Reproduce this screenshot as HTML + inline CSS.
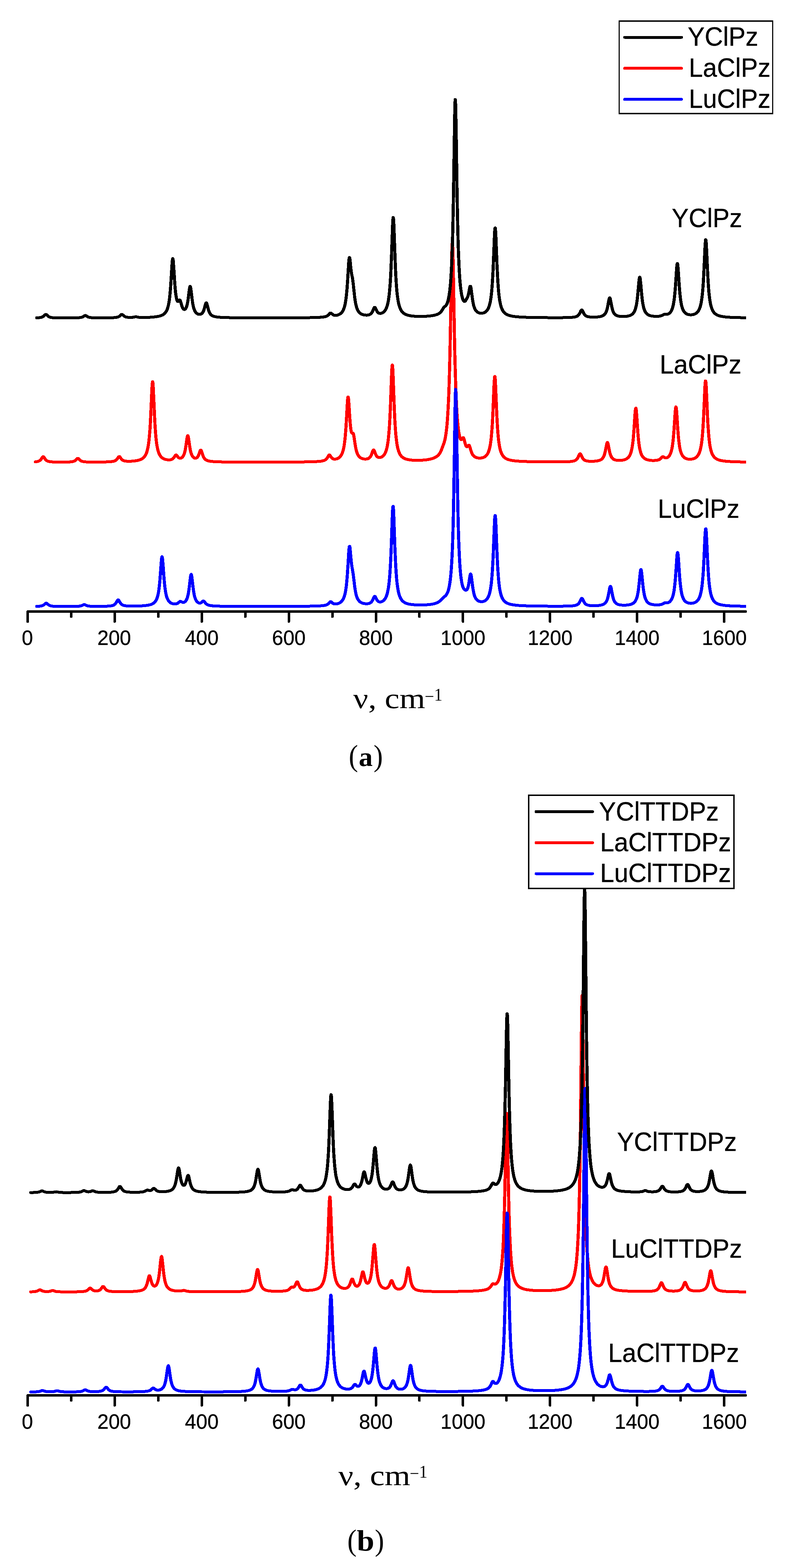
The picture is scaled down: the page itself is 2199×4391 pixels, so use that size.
<!DOCTYPE html>
<html lang="en"><head><meta charset="utf-8"><title>Calculated IR spectra</title>
<style>
html,body{margin:0;padding:0;background:#fff}
body{width:2199px;height:4391px;overflow:hidden}
svg{display:block}
text{fill:#000}
.sans{font-family:"Liberation Sans",Arial,Helvetica,sans-serif}
.tk{font-family:"Liberation Sans",Arial,Helvetica,sans-serif;font-size:56.5px;text-anchor:middle}
.lg,.lb,.tk{stroke:#000;stroke-width:0.5}
.lg{font-family:"Liberation Sans",Arial,Helvetica,sans-serif;font-size:73.9px}
.lb{font-family:"Liberation Sans",Arial,Helvetica,sans-serif;font-size:73.9px}
.ser{font-family:"Liberation Serif","Liberation Serif","DejaVu Serif",serif}
.ax{stroke:#000;stroke-width:7;stroke-linecap:round;fill:none}
.cv{fill:none;stroke-width:8.0;stroke-linejoin:round;stroke-linecap:round}
.ll{fill:none;stroke-width:8;stroke-linecap:round}
.bx{fill:#fff;stroke:#000;stroke-width:3.5}
</style></head><body>
<svg width="2199" height="4391" viewBox="0 0 2199 4391" shape-rendering="crispEdges">
<rect width="2199" height="4391" fill="#fff"/>
<g id="chart-a">
<svg x="0" y="0" width="2090" height="4391" viewBox="0 0 2090 4391">
<path class="cv" stroke="#ff0000" d="M98.6 1293.4L102.9 1292.8L105.9 1292.1L108.4 1291.2L110.2 1290.3L112.0 1289.0L113.9 1287.2L115.7 1284.9L118.1 1281.1L119.3 1279.6L120.0 1279.2L120.6 1279.0L121.2 1279.1L121.8 1279.4L122.4 1280.0L123.6 1281.7L126.0 1285.4L127.9 1287.6L129.7 1289.3L131.5 1290.5L133.4 1291.3L135.8 1292.1L139.5 1292.9L144.3 1293.4L152.3 1293.8L166.3 1294.1L184.0 1294.0L193.7 1293.7L199.8 1293.1L203.5 1292.6L205.9 1291.9L208.3 1291.0L210.2 1289.9L212.0 1288.4L215.7 1284.6L216.3 1284.1L216.9 1283.7L217.5 1283.5L218.1 1283.5L218.7 1283.7L219.3 1284.0L220.5 1285.1L223.6 1288.3L225.4 1289.8L227.2 1290.9L229.1 1291.6L231.5 1292.4L235.2 1293.0L240.6 1293.5L249.8 1293.8L268.1 1294.0L290.6 1293.7L303.4 1293.3L310.7 1292.8L315.6 1292.1L318.7 1291.5L321.1 1290.6L322.9 1289.8L324.8 1288.5L326.6 1286.9L328.4 1284.6L331.5 1280.1L332.1 1279.4L332.7 1278.9L333.3 1278.6L333.9 1278.5L334.5 1278.7L335.1 1279.2L336.3 1280.7L339.4 1285.0L341.2 1287.0L343.0 1288.5L344.9 1289.5L347.3 1290.4L350.4 1291.1L354.0 1291.5L359.5 1291.7L366.8 1291.6L374.1 1291.1L380.2 1290.3L385.7 1289.3L390.0 1288.1L393.6 1286.8L396.7 1285.3L399.1 1283.8L401.6 1281.8L403.4 1279.9L405.2 1277.6L407.1 1274.8L408.9 1271.1L410.1 1268.1L411.3 1264.4L412.5 1260.0L413.8 1254.7L415.0 1248.1L416.2 1239.9L417.4 1229.6L418.6 1216.6L419.9 1200.3L421.1 1179.9L422.9 1141.6L424.7 1099.3L425.3 1087.1L425.9 1077.4L426.6 1071.2L427.2 1069.0L427.8 1071.2L428.4 1077.4L429.0 1087.1L430.2 1112.9L432.7 1168.0L433.9 1190.5L435.1 1208.7L436.3 1223.3L437.5 1234.8L438.7 1244.0L440.0 1251.3L441.2 1257.2L442.4 1262.0L443.6 1266.0L444.8 1269.2L446.7 1273.2L448.5 1276.2L450.3 1278.7L452.2 1280.6L454.0 1282.1L456.4 1283.8L458.9 1285.0L461.9 1286.2L465.0 1287.0L468.6 1287.6L472.3 1287.9L475.3 1287.7L477.8 1287.4L480.2 1286.7L482.0 1285.8L483.9 1284.6L485.7 1282.8L487.5 1280.4L490.6 1275.7L491.2 1274.9L491.8 1274.4L492.4 1274.0L493.0 1274.0L493.6 1274.3L494.2 1274.7L495.4 1276.2L497.9 1279.5L499.1 1280.9L500.3 1281.9L501.5 1282.6L502.8 1283.0L504.0 1283.2L505.2 1283.2L506.4 1282.9L507.6 1282.4L508.8 1281.7L510.1 1280.7L511.3 1279.4L512.5 1277.7L513.7 1275.6L514.9 1272.9L516.2 1269.5L517.4 1265.1L518.6 1259.7L519.8 1252.9L521.6 1240.5L523.5 1227.6L524.1 1224.2L524.7 1221.6L525.3 1220.2L525.9 1220.1L526.5 1221.3L527.1 1223.6L527.7 1226.9L531.4 1252.2L532.6 1259.0L533.8 1264.6L535.1 1269.1L536.3 1272.6L537.5 1275.3L538.7 1277.5L539.9 1279.2L541.2 1280.5L542.4 1281.5L543.6 1282.3L544.8 1282.8L546.0 1283.0L547.2 1283.1L548.5 1282.9L549.7 1282.5L550.9 1281.8L552.1 1280.8L553.3 1279.3L554.6 1277.4L555.8 1275.0L557.6 1270.2L560.0 1263.2L560.7 1261.9L561.3 1260.9L561.9 1260.5L562.5 1260.6L563.1 1261.3L563.7 1262.5L564.9 1265.8L567.4 1273.6L568.6 1276.9L569.8 1279.7L571.0 1281.9L572.2 1283.8L574.1 1285.8L575.9 1287.4L577.7 1288.5L580.2 1289.6L583.2 1290.6L587.5 1291.5L593.0 1292.3L601.5 1292.9L614.9 1293.4L638.7 1293.9L687.4 1294.1L772.8 1294.1L833.1 1293.8L864.8 1293.3L881.9 1292.8L892.3 1292.2L899.0 1291.5L903.2 1290.7L906.3 1289.9L908.7 1289.0L910.5 1288.1L912.4 1286.8L914.2 1285.0L916.0 1282.7L917.9 1279.7L919.7 1276.4L920.3 1275.5L920.9 1274.7L921.5 1274.2L922.1 1274.0L922.7 1274.1L923.3 1274.5L923.9 1275.1L925.2 1276.8L927.6 1280.5L928.8 1282.0L930.0 1283.2L931.3 1284.1L933.1 1285.1L934.9 1285.6L936.7 1285.8L939.2 1285.7L941.6 1285.3L944.1 1284.6L946.5 1283.5L948.9 1282.0L950.8 1280.5L952.6 1278.7L954.4 1276.4L956.3 1273.4L958.1 1269.6L959.3 1266.4L960.5 1262.5L961.7 1257.8L963.0 1252.0L964.2 1244.7L965.4 1235.7L966.6 1224.3L967.8 1210.1L969.1 1192.6L970.9 1160.8L972.7 1128.5L973.3 1120.3L973.9 1114.5L974.5 1111.7L975.2 1112.1L975.8 1115.6L976.4 1121.8L977.6 1139.3L979.4 1168.6L980.6 1184.9L981.9 1197.4L982.5 1202.1L983.1 1205.9L983.7 1208.7L984.3 1210.8L984.9 1212.1L985.5 1212.8L986.1 1213.0L987.3 1212.7L988.0 1212.7L988.6 1213.1L989.2 1214.1L989.8 1215.8L990.4 1218.3L991.6 1225.2L994.7 1245.8L995.9 1252.8L997.1 1258.7L998.3 1263.4L999.5 1267.3L1000.8 1270.5L1002.0 1273.1L1003.8 1276.1L1005.6 1278.5L1007.5 1280.3L1009.3 1281.7L1011.7 1283.1L1014.2 1284.1L1017.2 1285.0L1020.3 1285.5L1023.3 1285.6L1026.4 1285.4L1028.8 1285.0L1030.6 1284.4L1032.4 1283.5L1034.3 1282.2L1035.5 1281.1L1036.7 1279.7L1037.9 1277.9L1039.2 1275.7L1040.4 1272.9L1042.8 1266.1L1044.0 1262.8L1044.6 1261.5L1045.2 1260.6L1045.9 1260.1L1046.5 1260.1L1047.1 1260.6L1047.7 1261.5L1048.9 1264.3L1051.3 1270.8L1052.6 1273.5L1053.8 1275.7L1055.0 1277.5L1056.2 1278.8L1057.4 1279.7L1058.7 1280.4L1060.5 1281.1L1062.3 1281.3L1064.1 1281.2L1066.0 1280.8L1067.8 1280.2L1069.6 1279.2L1071.5 1278.0L1073.3 1276.4L1075.1 1274.3L1076.9 1271.7L1078.8 1268.3L1080.0 1265.5L1081.2 1262.2L1082.4 1258.2L1083.7 1253.4L1084.9 1247.5L1086.1 1240.2L1087.3 1231.1L1088.5 1219.7L1089.7 1205.3L1091.0 1187.1L1092.2 1164.3L1093.4 1136.2L1096.5 1052.7L1097.1 1038.9L1097.7 1028.7L1098.3 1023.0L1098.9 1022.4L1099.5 1027.2L1100.1 1036.6L1100.7 1049.8L1103.8 1133.2L1105.0 1161.9L1106.2 1185.3L1107.4 1203.9L1108.6 1218.7L1109.9 1230.4L1111.1 1239.7L1112.3 1247.2L1113.5 1253.3L1114.7 1258.3L1116.0 1262.4L1117.2 1265.9L1119.0 1270.1L1120.8 1273.4L1122.7 1276.0L1124.5 1278.1L1126.3 1279.8L1128.8 1281.7L1131.2 1283.2L1134.2 1284.6L1137.9 1285.9L1142.2 1286.9L1147.0 1287.8L1153.1 1288.5L1161.1 1289.0L1170.2 1289.1L1179.4 1288.8L1187.9 1288.3L1195.8 1287.4L1202.5 1286.2L1208.0 1285.0L1212.3 1283.7L1215.9 1282.2L1219.6 1280.4L1222.6 1278.6L1225.1 1276.7L1227.5 1274.4L1229.3 1272.4L1231.2 1269.9L1233.0 1267.0L1234.8 1263.4L1236.6 1259.0L1243.4 1240.7L1244.6 1236.8L1245.8 1232.2L1247.0 1226.5L1248.2 1219.6L1249.4 1211.3L1250.7 1201.1L1251.9 1188.8L1253.1 1173.8L1254.3 1155.4L1255.5 1132.7L1256.8 1104.6L1258.0 1069.8L1259.2 1026.7L1260.4 974.1L1262.2 877.1L1264.7 738.4L1265.3 711.5L1265.9 691.8L1266.5 680.8L1267.1 679.8L1267.7 688.7L1268.3 706.7L1269.0 732.2L1270.8 833.4L1272.6 936.6L1273.8 995.0L1275.1 1043.5L1276.3 1082.8L1277.5 1114.4L1278.7 1139.9L1279.9 1160.4L1281.1 1176.9L1282.4 1190.3L1283.6 1201.2L1284.8 1209.9L1286.0 1216.9L1287.2 1222.4L1288.5 1226.5L1289.1 1228.0L1289.7 1229.3L1290.3 1230.2L1290.9 1230.8L1291.5 1231.1L1292.1 1231.1L1292.7 1230.8L1293.3 1230.2L1294.6 1228.5L1295.8 1226.6L1296.4 1225.9L1297.0 1225.5L1297.6 1225.7L1298.2 1226.3L1298.8 1227.6L1299.4 1229.3L1300.7 1233.9L1302.5 1241.2L1303.7 1245.3L1304.3 1247.0L1304.9 1248.4L1305.5 1249.5L1306.1 1250.3L1306.7 1250.8L1307.4 1251.1L1308.0 1251.1L1308.6 1250.9L1309.2 1250.4L1310.4 1249.0L1311.6 1247.4L1312.2 1246.9L1312.8 1246.6L1313.5 1246.7L1314.1 1247.3L1314.7 1248.3L1315.3 1249.8L1316.5 1253.6L1318.9 1262.0L1320.8 1267.3L1322.0 1270.1L1323.2 1272.3L1324.4 1274.2L1326.3 1276.4L1328.1 1278.1L1329.9 1279.4L1332.3 1280.7L1334.8 1281.6L1337.8 1282.3L1340.9 1282.7L1343.9 1282.8L1347.0 1282.6L1350.0 1282.2L1353.1 1281.3L1355.5 1280.3L1357.9 1279.0L1359.8 1277.6L1361.6 1275.9L1363.4 1273.8L1365.3 1271.1L1367.1 1267.5L1368.3 1264.6L1369.5 1261.1L1370.7 1256.8L1372.0 1251.6L1373.2 1245.2L1374.4 1237.1L1375.6 1227.1L1376.8 1214.4L1378.1 1198.4L1379.3 1178.3L1380.5 1153.6L1383.5 1080.7L1384.2 1068.7L1384.8 1059.8L1385.4 1054.8L1386.0 1054.4L1386.6 1058.5L1387.2 1066.7L1387.8 1078.2L1390.9 1151.4L1392.1 1176.6L1393.3 1197.2L1394.5 1213.7L1395.7 1226.8L1397.0 1237.2L1398.2 1245.5L1399.4 1252.2L1400.6 1257.7L1401.8 1262.2L1403.1 1265.9L1404.9 1270.4L1406.7 1273.8L1408.5 1276.6L1410.4 1278.8L1412.2 1280.7L1414.6 1282.6L1417.1 1284.2L1420.1 1285.7L1423.8 1287.1L1428.0 1288.3L1433.5 1289.4L1440.2 1290.4L1449.4 1291.3L1462.2 1292.1L1480.5 1292.7L1507.9 1293.2L1545.7 1293.5L1573.7 1293.4L1588.4 1293.0L1596.9 1292.5L1602.4 1291.9L1606.0 1291.2L1609.1 1290.3L1611.5 1289.2L1613.4 1288.0L1615.2 1286.4L1616.4 1285.0L1617.6 1283.2L1619.4 1279.8L1622.5 1272.9L1623.1 1271.8L1623.7 1271.0L1624.3 1270.6L1624.9 1270.5L1625.5 1270.9L1626.2 1271.6L1626.8 1272.6L1630.4 1280.6L1631.6 1282.8L1632.9 1284.6L1634.1 1286.1L1635.9 1287.7L1637.7 1288.8L1639.6 1289.7L1642.0 1290.5L1645.0 1291.1L1649.3 1291.6L1655.4 1291.8L1662.1 1291.7L1668.2 1291.3L1673.1 1290.6L1676.7 1289.8L1679.8 1288.9L1682.2 1287.8L1684.1 1286.7L1685.9 1285.2L1687.7 1283.3L1688.9 1281.6L1690.2 1279.6L1691.4 1277.0L1692.6 1273.8L1693.8 1269.8L1695.0 1264.9L1696.9 1255.7L1698.7 1245.9L1699.3 1243.1L1699.9 1240.9L1700.5 1239.5L1701.1 1239.0L1701.7 1239.5L1702.3 1240.9L1703.0 1243.1L1704.2 1249.0L1706.6 1261.8L1707.8 1267.2L1709.0 1271.6L1710.3 1275.1L1711.5 1277.9L1712.7 1280.1L1713.9 1281.9L1715.8 1284.0L1717.6 1285.5L1719.4 1286.6L1721.9 1287.7L1724.9 1288.5L1728.6 1289.1L1732.8 1289.4L1737.7 1289.3L1742.0 1288.9L1746.2 1288.1L1749.9 1287.1L1752.9 1285.9L1755.4 1284.5L1757.2 1283.3L1759.0 1281.7L1760.9 1279.7L1762.7 1277.1L1764.5 1273.8L1765.7 1271.0L1767.0 1267.5L1768.2 1263.3L1769.4 1258.1L1770.6 1251.6L1771.8 1243.5L1773.1 1233.2L1774.3 1220.4L1775.5 1204.8L1778.5 1159.4L1779.1 1152.0L1779.8 1146.5L1780.4 1143.5L1781.0 1143.2L1781.6 1145.7L1782.2 1150.7L1782.8 1157.8L1786.5 1211.4L1787.7 1225.8L1788.9 1237.5L1790.1 1246.9L1791.3 1254.3L1792.6 1260.3L1793.8 1265.1L1795.0 1268.9L1796.2 1272.1L1797.4 1274.7L1799.3 1277.8L1801.1 1280.2L1802.9 1282.0L1804.7 1283.5L1807.2 1285.1L1809.6 1286.3L1812.7 1287.4L1816.3 1288.3L1820.6 1289.0L1825.5 1289.5L1831.0 1289.6L1835.8 1289.4L1840.1 1288.9L1843.2 1288.2L1845.6 1287.4L1847.4 1286.5L1849.2 1285.2L1851.1 1283.6L1854.1 1280.3L1855.3 1279.3L1856.0 1279.1L1856.6 1279.0L1857.2 1279.0L1857.8 1279.2L1859.0 1279.9L1861.4 1281.4L1862.7 1282.0L1863.9 1282.3L1865.1 1282.4L1866.9 1282.2L1868.8 1281.5L1870.6 1280.4L1872.4 1278.9L1874.2 1276.8L1875.5 1275.0L1876.7 1272.8L1877.9 1270.1L1879.1 1266.8L1880.3 1262.8L1881.6 1257.7L1882.8 1251.4L1884.0 1243.5L1885.2 1233.6L1886.4 1221.1L1887.6 1205.8L1890.7 1159.6L1891.3 1151.5L1891.9 1145.1L1892.5 1140.9L1893.1 1139.5L1893.7 1140.9L1894.4 1145.1L1895.0 1151.5L1896.2 1168.7L1898.6 1205.8L1899.8 1221.0L1901.1 1233.5L1902.3 1243.4L1903.5 1251.3L1904.7 1257.6L1905.9 1262.7L1907.2 1266.7L1908.4 1270.0L1909.6 1272.7L1911.4 1276.0L1913.2 1278.4L1915.1 1280.3L1916.9 1281.8L1918.7 1282.9L1921.2 1284.1L1923.6 1284.9L1926.7 1285.6L1929.7 1285.9L1933.4 1286.0L1937.0 1285.7L1940.1 1285.2L1943.1 1284.3L1945.6 1283.3L1948.0 1282.0L1949.8 1280.7L1951.7 1279.1L1953.5 1277.0L1955.3 1274.5L1957.1 1271.2L1958.4 1268.6L1959.6 1265.3L1960.8 1261.4L1962.0 1256.7L1963.2 1250.9L1964.5 1243.7L1965.7 1234.7L1966.9 1223.4L1968.1 1209.1L1969.3 1191.1L1970.5 1168.9L1972.4 1128.2L1974.2 1087.0L1974.8 1076.7L1975.4 1069.6L1976.0 1066.6L1976.6 1067.9L1977.3 1073.5L1977.9 1082.6L1979.1 1108.1L1981.5 1164.1L1982.7 1187.3L1984.0 1206.2L1985.2 1221.2L1986.4 1233.1L1987.6 1242.6L1988.8 1250.2L1990.1 1256.3L1991.3 1261.3L1992.5 1265.4L1993.7 1268.8L1995.5 1273.0L1997.4 1276.2L1999.2 1278.7L2001.0 1280.8L2002.9 1282.5L2005.3 1284.3L2007.7 1285.7L2010.8 1287.1L2014.4 1288.4L2018.7 1289.5L2024.2 1290.5L2031.5 1291.5L2041.3 1292.3L2055.3 1293.0L2076.6 1293.6L2096.1 1293.9"/>
<path class="cv" stroke="#ff0000" d="M99.3 1293.4L103.6 1292.8L106.6 1292.1L109.1 1291.2L110.9 1290.3L112.7 1289.0L114.6 1287.2L116.4 1284.9L118.8 1281.1L120.0 1279.6L120.7 1279.2L121.3 1279.0L121.9 1279.1L122.5 1279.4L123.1 1280.0L124.3 1281.7L126.7 1285.4L128.6 1287.6L130.4 1289.3L132.2 1290.5L134.1 1291.3L136.5 1292.1L140.2 1292.9L145.0 1293.4L153.0 1293.8L167.0 1294.1L184.7 1294.0L194.4 1293.7L200.5 1293.1L204.2 1292.6L206.6 1291.9L209.0 1291.0L210.9 1289.9L212.7 1288.4L216.4 1284.6L217.0 1284.1L217.6 1283.7L218.2 1283.5L218.8 1283.5L219.4 1283.7L220.0 1284.0L221.2 1285.1L224.3 1288.3L226.1 1289.8L227.9 1290.9L229.8 1291.6L232.2 1292.4L235.9 1293.0L241.3 1293.5L250.5 1293.8L268.8 1294.0L291.3 1293.7L304.1 1293.3L311.4 1292.8L316.3 1292.1L319.4 1291.5L321.8 1290.6L323.6 1289.8L325.5 1288.5L327.3 1286.9L329.1 1284.6L332.2 1280.1L332.8 1279.4L333.4 1278.9L334.0 1278.6L334.6 1278.5L335.2 1278.7L335.8 1279.2L337.0 1280.7L340.1 1285.0L341.9 1287.0L343.7 1288.5L345.6 1289.5L348.0 1290.4L351.1 1291.1L354.7 1291.5L360.2 1291.7L367.5 1291.6L374.8 1291.1L380.9 1290.3L386.4 1289.3L390.7 1288.1L394.3 1286.8L397.4 1285.3L399.8 1283.8L402.3 1281.8L404.1 1279.9L405.9 1277.6L407.8 1274.8L409.6 1271.1L410.8 1268.1L412.0 1264.4L413.2 1260.0L414.5 1254.7L415.7 1248.1L416.9 1239.9L418.1 1229.6L419.3 1216.6L420.6 1200.3L421.8 1179.9L423.6 1141.6L425.4 1099.3L426.0 1087.1L426.6 1077.4L427.3 1071.2L427.9 1069.0L428.5 1071.2L429.1 1077.4L429.7 1087.1L430.9 1112.9L433.4 1168.0L434.6 1190.5L435.8 1208.7L437.0 1223.3L438.2 1234.8L439.4 1244.0L440.7 1251.3L441.9 1257.2L443.1 1262.0L444.3 1266.0L445.5 1269.2L447.4 1273.2L449.2 1276.2L451.0 1278.7L452.9 1280.6L454.7 1282.1L457.1 1283.8L459.6 1285.0L462.6 1286.2L465.7 1287.0L469.3 1287.6L473.0 1287.9L476.0 1287.7L478.5 1287.4L480.9 1286.7L482.7 1285.8L484.6 1284.6L486.4 1282.8L488.2 1280.4L491.3 1275.7L491.9 1274.9L492.5 1274.4L493.1 1274.0L493.7 1274.0L494.3 1274.3L494.9 1274.7L496.1 1276.2L498.6 1279.5L499.8 1280.9L501.0 1281.9L502.2 1282.6L503.5 1283.0L504.7 1283.2L505.9 1283.2L507.1 1282.9L508.3 1282.4L509.5 1281.7L510.8 1280.7L512.0 1279.4L513.2 1277.7L514.4 1275.6L515.6 1272.9L516.9 1269.5L518.1 1265.1L519.3 1259.7L520.5 1252.9L522.3 1240.5L524.2 1227.6L524.8 1224.2L525.4 1221.6L526.0 1220.2L526.6 1220.1L527.2 1221.3L527.8 1223.6L528.4 1226.9L532.1 1252.2L533.3 1259.0L534.5 1264.6L535.8 1269.1L537.0 1272.6L538.2 1275.3L539.4 1277.5L540.6 1279.2L541.9 1280.5L543.1 1281.5L544.3 1282.3L545.5 1282.8L546.7 1283.0L547.9 1283.1L549.2 1282.9L550.4 1282.5L551.6 1281.8L552.8 1280.8L554.0 1279.3L555.3 1277.4L556.5 1275.0L558.3 1270.2L560.7 1263.2L561.4 1261.9L562.0 1260.9L562.6 1260.5L563.2 1260.6L563.8 1261.3L564.4 1262.5L565.6 1265.8L568.1 1273.6L569.3 1276.9L570.5 1279.7L571.7 1281.9L572.9 1283.8L574.8 1285.8L576.6 1287.4L578.4 1288.5L580.9 1289.6L583.9 1290.6L588.2 1291.5L593.7 1292.3L602.2 1292.9L615.6 1293.4L639.4 1293.9L688.1 1294.1L773.5 1294.1L833.8 1293.8L865.5 1293.3L882.6 1292.8L893.0 1292.2L899.7 1291.5L903.9 1290.7L907.0 1289.9L909.4 1289.0L911.2 1288.1L913.1 1286.8L914.9 1285.0L916.7 1282.7L918.6 1279.7L920.4 1276.4L921.0 1275.5L921.6 1274.7L922.2 1274.2L922.8 1274.0L923.4 1274.1L924.0 1274.5L924.6 1275.1L925.9 1276.8L928.3 1280.5L929.5 1282.0L930.7 1283.2L932.0 1284.1L933.8 1285.1L935.6 1285.6L937.4 1285.8L939.9 1285.7L942.3 1285.3L944.8 1284.6L947.2 1283.5L949.6 1282.0L951.5 1280.5L953.3 1278.7L955.1 1276.4L957.0 1273.4L958.8 1269.6L960.0 1266.4L961.2 1262.5L962.4 1257.8L963.7 1252.0L964.9 1244.7L966.1 1235.7L967.3 1224.3L968.5 1210.1L969.8 1192.6L971.6 1160.8L973.4 1128.5L974.0 1120.3L974.6 1114.5L975.2 1111.7L975.9 1112.1L976.5 1115.6L977.1 1121.8L978.3 1139.3L980.1 1168.6L981.3 1184.9L982.6 1197.4L983.2 1202.1L983.8 1205.9L984.4 1208.7L985.0 1210.8L985.6 1212.1L986.2 1212.8L986.8 1213.0L988.0 1212.7L988.7 1212.7L989.3 1213.1L989.9 1214.1L990.5 1215.8L991.1 1218.3L992.3 1225.2L995.4 1245.8L996.6 1252.8L997.8 1258.7L999.0 1263.4L1000.2 1267.3L1001.5 1270.5L1002.7 1273.1L1004.5 1276.1L1006.3 1278.5L1008.2 1280.3L1010.0 1281.7L1012.4 1283.1L1014.9 1284.1L1017.9 1285.0L1021.0 1285.5L1024.0 1285.6L1027.1 1285.4L1029.5 1285.0L1031.3 1284.4L1033.1 1283.5L1035.0 1282.2L1036.2 1281.1L1037.4 1279.7L1038.6 1277.9L1039.9 1275.7L1041.1 1272.9L1043.5 1266.1L1044.7 1262.8L1045.3 1261.5L1045.9 1260.6L1046.6 1260.1L1047.2 1260.1L1047.8 1260.6L1048.4 1261.5L1049.6 1264.3L1052.0 1270.8L1053.3 1273.5L1054.5 1275.7L1055.7 1277.5L1056.9 1278.8L1058.1 1279.7L1059.4 1280.4L1061.2 1281.1L1063.0 1281.3L1064.8 1281.2L1066.7 1280.8L1068.5 1280.2L1070.3 1279.2L1072.2 1278.0L1074.0 1276.4L1075.8 1274.3L1077.6 1271.7L1079.5 1268.3L1080.7 1265.5L1081.9 1262.2L1083.1 1258.2L1084.4 1253.4L1085.6 1247.5L1086.8 1240.2L1088.0 1231.1L1089.2 1219.7L1090.4 1205.3L1091.7 1187.1L1092.9 1164.3L1094.1 1136.2L1097.2 1052.7L1097.8 1038.9L1098.4 1028.7L1099.0 1023.0L1099.6 1022.4L1100.2 1027.2L1100.8 1036.6L1101.4 1049.8L1104.5 1133.2L1105.7 1161.9L1106.9 1185.3L1108.1 1203.9L1109.3 1218.7L1110.6 1230.4L1111.8 1239.7L1113.0 1247.2L1114.2 1253.3L1115.4 1258.3L1116.7 1262.4L1117.9 1265.9L1119.7 1270.1L1121.5 1273.4L1123.4 1276.0L1125.2 1278.1L1127.0 1279.8L1129.5 1281.7L1131.9 1283.2L1134.9 1284.6L1138.6 1285.9L1142.9 1286.9L1147.7 1287.8L1153.8 1288.5L1161.8 1289.0L1170.9 1289.1L1180.1 1288.8L1188.6 1288.3L1196.5 1287.4L1203.2 1286.2L1208.7 1285.0L1213.0 1283.7L1216.6 1282.2L1220.3 1280.4L1223.3 1278.6L1225.8 1276.7L1228.2 1274.4L1230.0 1272.4L1231.9 1269.9L1233.7 1267.0L1235.5 1263.4L1237.3 1259.0L1244.1 1240.7L1245.3 1236.8L1246.5 1232.2L1247.7 1226.5L1248.9 1219.6L1250.1 1211.3L1251.4 1201.1L1252.6 1188.8L1253.8 1173.8L1255.0 1155.4L1256.2 1132.7L1257.5 1104.6L1258.7 1069.8L1259.9 1026.7L1261.1 974.1L1262.9 877.1L1265.4 738.4L1266.0 711.5L1266.6 691.8L1267.2 680.8L1267.8 679.8L1268.4 688.7L1269.0 706.7L1269.7 732.2L1271.5 833.4L1273.3 936.6L1274.5 995.0L1275.8 1043.5L1277.0 1082.8L1278.2 1114.4L1279.4 1139.9L1280.6 1160.4L1281.8 1176.9L1283.1 1190.3L1284.3 1201.2L1285.5 1209.9L1286.7 1216.9L1287.9 1222.4L1289.2 1226.5L1289.8 1228.0L1290.4 1229.3L1291.0 1230.2L1291.6 1230.8L1292.2 1231.1L1292.8 1231.1L1293.4 1230.8L1294.0 1230.2L1295.3 1228.5L1296.5 1226.6L1297.1 1225.9L1297.7 1225.5L1298.3 1225.7L1298.9 1226.3L1299.5 1227.6L1300.1 1229.3L1301.4 1233.9L1303.2 1241.2L1304.4 1245.3L1305.0 1247.0L1305.6 1248.4L1306.2 1249.5L1306.8 1250.3L1307.4 1250.8L1308.1 1251.1L1308.7 1251.1L1309.3 1250.9L1309.9 1250.4L1311.1 1249.0L1312.3 1247.4L1312.9 1246.9L1313.5 1246.6L1314.2 1246.7L1314.8 1247.3L1315.4 1248.3L1316.0 1249.8L1317.2 1253.6L1319.6 1262.0L1321.5 1267.3L1322.7 1270.1L1323.9 1272.3L1325.1 1274.2L1327.0 1276.4L1328.8 1278.1L1330.6 1279.4L1333.0 1280.7L1335.5 1281.6L1338.5 1282.3L1341.6 1282.7L1344.6 1282.8L1347.7 1282.6L1350.7 1282.2L1353.8 1281.3L1356.2 1280.3L1358.6 1279.0L1360.5 1277.6L1362.3 1275.9L1364.1 1273.8L1366.0 1271.1L1367.8 1267.5L1369.0 1264.6L1370.2 1261.1L1371.4 1256.8L1372.7 1251.6L1373.9 1245.2L1375.1 1237.1L1376.3 1227.1L1377.5 1214.4L1378.8 1198.4L1380.0 1178.3L1381.2 1153.6L1384.2 1080.7L1384.9 1068.7L1385.5 1059.8L1386.1 1054.8L1386.7 1054.4L1387.3 1058.5L1387.9 1066.7L1388.5 1078.2L1391.6 1151.4L1392.8 1176.6L1394.0 1197.2L1395.2 1213.7L1396.4 1226.8L1397.7 1237.2L1398.9 1245.5L1400.1 1252.2L1401.3 1257.7L1402.5 1262.2L1403.8 1265.9L1405.6 1270.4L1407.4 1273.8L1409.2 1276.6L1411.1 1278.8L1412.9 1280.7L1415.3 1282.6L1417.8 1284.2L1420.8 1285.7L1424.5 1287.1L1428.7 1288.3L1434.2 1289.4L1440.9 1290.4L1450.1 1291.3L1462.9 1292.1L1481.2 1292.7L1508.6 1293.2L1546.4 1293.5L1574.4 1293.4L1589.1 1293.0L1597.6 1292.5L1603.1 1291.9L1606.7 1291.2L1609.8 1290.3L1612.2 1289.2L1614.1 1288.0L1615.9 1286.4L1617.1 1285.0L1618.3 1283.2L1620.1 1279.8L1623.2 1272.9L1623.8 1271.8L1624.4 1271.0L1625.0 1270.6L1625.6 1270.5L1626.2 1270.9L1626.9 1271.6L1627.5 1272.6L1631.1 1280.6L1632.3 1282.8L1633.6 1284.6L1634.8 1286.1L1636.6 1287.7L1638.4 1288.8L1640.3 1289.7L1642.7 1290.5L1645.7 1291.1L1650.0 1291.6L1656.1 1291.8L1662.8 1291.7L1668.9 1291.3L1673.8 1290.6L1677.4 1289.8L1680.5 1288.9L1682.9 1287.8L1684.8 1286.7L1686.6 1285.2L1688.4 1283.3L1689.6 1281.6L1690.9 1279.6L1692.1 1277.0L1693.3 1273.8L1694.5 1269.8L1695.7 1264.9L1697.6 1255.7L1699.4 1245.9L1700.0 1243.1L1700.6 1240.9L1701.2 1239.5L1701.8 1239.0L1702.4 1239.5L1703.0 1240.9L1703.7 1243.1L1704.9 1249.0L1707.3 1261.8L1708.5 1267.2L1709.7 1271.6L1711.0 1275.1L1712.2 1277.9L1713.4 1280.1L1714.6 1281.9L1716.5 1284.0L1718.3 1285.5L1720.1 1286.6L1722.6 1287.7L1725.6 1288.5L1729.3 1289.1L1733.5 1289.4L1738.4 1289.3L1742.7 1288.9L1746.9 1288.1L1750.6 1287.1L1753.6 1285.9L1756.1 1284.5L1757.9 1283.3L1759.7 1281.7L1761.6 1279.7L1763.4 1277.1L1765.2 1273.8L1766.4 1271.0L1767.7 1267.5L1768.9 1263.3L1770.1 1258.1L1771.3 1251.6L1772.5 1243.5L1773.8 1233.2L1775.0 1220.4L1776.2 1204.8L1779.2 1159.4L1779.8 1152.0L1780.5 1146.5L1781.1 1143.5L1781.7 1143.2L1782.3 1145.7L1782.9 1150.7L1783.5 1157.8L1787.2 1211.4L1788.4 1225.8L1789.6 1237.5L1790.8 1246.9L1792.0 1254.3L1793.3 1260.3L1794.5 1265.1L1795.7 1268.9L1796.9 1272.1L1798.1 1274.7L1800.0 1277.8L1801.8 1280.2L1803.6 1282.0L1805.4 1283.5L1807.9 1285.1L1810.3 1286.3L1813.4 1287.4L1817.0 1288.3L1821.3 1289.0L1826.2 1289.5L1831.7 1289.6L1836.5 1289.4L1840.8 1288.9L1843.9 1288.2L1846.3 1287.4L1848.1 1286.5L1849.9 1285.2L1851.8 1283.6L1854.8 1280.3L1856.0 1279.3L1856.7 1279.1L1857.3 1279.0L1857.9 1279.0L1858.5 1279.2L1859.7 1279.9L1862.1 1281.4L1863.4 1282.0L1864.6 1282.3L1865.8 1282.4L1867.6 1282.2L1869.5 1281.5L1871.3 1280.4L1873.1 1278.9L1874.9 1276.8L1876.2 1275.0L1877.4 1272.8L1878.6 1270.1L1879.8 1266.8L1881.0 1262.8L1882.3 1257.7L1883.5 1251.4L1884.7 1243.5L1885.9 1233.6L1887.1 1221.1L1888.3 1205.8L1891.4 1159.6L1892.0 1151.5L1892.6 1145.1L1893.2 1140.9L1893.8 1139.5L1894.4 1140.9L1895.1 1145.1L1895.7 1151.5L1896.9 1168.7L1899.3 1205.8L1900.5 1221.0L1901.8 1233.5L1903.0 1243.4L1904.2 1251.3L1905.4 1257.6L1906.6 1262.7L1907.9 1266.7L1909.1 1270.0L1910.3 1272.7L1912.1 1276.0L1913.9 1278.4L1915.8 1280.3L1917.6 1281.8L1919.4 1282.9L1921.9 1284.1L1924.3 1284.9L1927.4 1285.6L1930.4 1285.9L1934.1 1286.0L1937.7 1285.7L1940.8 1285.2L1943.8 1284.3L1946.3 1283.3L1948.7 1282.0L1950.5 1280.7L1952.4 1279.1L1954.2 1277.0L1956.0 1274.5L1957.8 1271.2L1959.1 1268.6L1960.3 1265.3L1961.5 1261.4L1962.7 1256.7L1963.9 1250.9L1965.2 1243.7L1966.4 1234.7L1967.6 1223.4L1968.8 1209.1L1970.0 1191.1L1971.2 1168.9L1973.1 1128.2L1974.9 1087.0L1975.5 1076.7L1976.1 1069.6L1976.7 1066.6L1977.3 1067.9L1978.0 1073.5L1978.6 1082.6L1979.8 1108.1L1982.2 1164.1L1983.4 1187.3L1984.7 1206.2L1985.9 1221.2L1987.1 1233.1L1988.3 1242.6L1989.5 1250.2L1990.8 1256.3L1992.0 1261.3L1993.2 1265.4L1994.4 1268.8L1996.2 1273.0L1998.1 1276.2L1999.9 1278.7L2001.7 1280.8L2003.6 1282.5L2006.0 1284.3L2008.4 1285.7L2011.5 1287.1L2015.1 1288.4L2019.4 1289.5L2024.9 1290.5L2032.2 1291.5L2042.0 1292.3L2056.0 1293.0L2077.3 1293.6L2096.8 1293.9"/>
<path class="cv" stroke="#0000ff" d="M102.5 1698.1L109.8 1697.7L114.1 1697.1L117.1 1696.5L119.6 1695.6L121.4 1694.7L123.2 1693.4L126.9 1690.0L128.1 1689.2L128.7 1689.0L129.3 1689.0L129.9 1689.2L130.6 1689.5L131.8 1690.4L134.8 1693.2L136.7 1694.6L138.5 1695.5L140.9 1696.4L144.0 1697.1L148.2 1697.6L155.6 1698.1L170.2 1698.3L198.2 1698.3L212.8 1698.1L220.2 1697.7L224.4 1697.1L227.5 1696.4L229.9 1695.4L233.6 1693.5L234.8 1693.1L236.0 1693.0L237.2 1693.3L239.7 1694.5L242.1 1695.7L244.5 1696.5L247.6 1697.2L251.9 1697.6L259.2 1698.0L274.4 1698.1L292.1 1697.9L302.5 1697.4L308.5 1696.9L312.8 1696.2L315.9 1695.4L318.3 1694.4L320.1 1693.3L322.0 1691.8L323.8 1689.7L325.6 1686.9L328.1 1682.5L328.7 1681.5L329.3 1680.8L329.9 1680.2L330.5 1680.0L331.1 1680.1L331.7 1680.5L332.3 1681.2L333.5 1683.1L336.0 1687.4L337.8 1690.1L339.6 1692.0L341.5 1693.4L343.3 1694.4L345.7 1695.3L348.8 1696.0L353.0 1696.6L359.1 1697.0L368.9 1697.3L382.9 1697.1L395.7 1696.7L404.9 1696.0L411.6 1695.2L417.0 1694.3L421.3 1693.2L424.4 1692.1L427.4 1690.6L429.8 1689.1L431.7 1687.6L433.5 1685.8L435.3 1683.5L437.2 1680.4L438.4 1677.9L439.6 1674.8L440.8 1671.1L442.0 1666.4L443.3 1660.7L444.5 1653.4L445.7 1644.3L446.9 1633.0L448.1 1619.1L451.2 1577.2L451.8 1569.9L452.4 1564.1L453.0 1560.3L453.6 1559.0L454.2 1560.3L454.8 1564.0L455.4 1569.8L456.7 1585.3L459.1 1618.9L460.3 1632.7L461.5 1644.0L462.8 1653.1L464.0 1660.3L465.2 1666.0L466.4 1670.6L467.6 1674.3L468.9 1677.3L470.1 1679.7L471.9 1682.7L473.7 1684.9L475.6 1686.6L477.4 1688.0L479.8 1689.3L482.3 1690.3L484.7 1690.9L487.8 1691.3L490.2 1691.4L492.6 1691.2L494.5 1690.7L496.3 1690.1L498.1 1689.0L499.9 1687.6L503.0 1684.8L503.6 1684.4L504.2 1684.1L504.8 1684.0L505.4 1684.0L506.0 1684.1L507.3 1684.7L509.7 1686.1L510.9 1686.6L512.1 1686.9L513.4 1686.9L514.6 1686.7L515.8 1686.3L517.0 1685.6L518.2 1684.6L519.5 1683.4L520.7 1681.8L521.9 1679.7L523.1 1677.1L524.3 1673.9L525.5 1669.7L526.8 1664.5L528.0 1658.0L529.2 1649.8L531.0 1634.8L532.9 1618.8L533.5 1614.4L534.1 1611.0L534.7 1609.0L535.3 1608.5L535.9 1609.7L536.5 1612.3L537.1 1616.2L538.3 1626.2L540.8 1647.3L542.0 1656.0L543.2 1663.0L544.4 1668.7L545.7 1673.2L546.9 1676.8L548.1 1679.6L549.3 1681.9L550.5 1683.7L551.8 1685.2L553.6 1686.8L555.4 1687.9L557.2 1688.6L559.1 1688.9L560.3 1688.8L561.5 1688.5L562.7 1687.9L563.9 1687.1L565.8 1685.5L567.6 1683.8L568.2 1683.3L568.8 1683.1L569.4 1683.0L570.0 1683.1L570.7 1683.4L571.3 1684.0L572.5 1685.4L575.5 1689.3L577.4 1691.2L579.2 1692.5L581.0 1693.6L583.5 1694.5L586.5 1695.3L590.8 1696.1L597.5 1696.8L607.8 1697.3L626.1 1697.8L662.1 1698.1L737.7 1698.3L820.0 1698.0L862.6 1697.6L884.6 1697.2L896.8 1696.6L904.1 1696.0L909.0 1695.3L912.0 1694.6L914.4 1693.7L916.3 1692.9L918.1 1691.7L919.9 1690.1L923.6 1686.2L924.2 1685.7L924.8 1685.3L925.4 1685.0L926.0 1685.0L926.6 1685.1L927.2 1685.4L928.5 1686.4L930.9 1688.6L932.7 1689.9L934.6 1690.7L936.4 1691.2L938.2 1691.5L940.7 1691.4L943.7 1691.0L946.7 1690.2L949.2 1689.3L951.6 1688.0L954.1 1686.4L955.9 1684.8L957.7 1682.8L959.5 1680.2L961.4 1677.0L962.6 1674.3L963.8 1671.1L965.0 1667.2L966.3 1662.4L967.5 1656.4L968.7 1649.1L969.9 1639.8L971.1 1628.3L972.3 1613.9L974.2 1586.8L976.6 1547.0L977.2 1539.3L977.8 1533.5L978.4 1530.3L979.1 1529.8L979.7 1531.9L980.3 1536.3L981.5 1549.1L983.3 1569.9L984.5 1580.8L985.8 1588.8L988.2 1602.2L989.4 1610.8L993.1 1641.3L994.3 1649.9L995.5 1657.0L996.7 1662.8L997.9 1667.5L999.2 1671.4L1000.4 1674.5L1001.6 1677.1L1003.4 1680.2L1005.3 1682.6L1007.1 1684.5L1008.9 1686.0L1011.4 1687.5L1013.8 1688.6L1016.8 1689.6L1019.9 1690.3L1023.5 1690.7L1027.2 1690.8L1030.3 1690.5L1032.7 1690.0L1035.1 1689.2L1037.0 1688.3L1038.8 1687.0L1040.0 1685.8L1041.2 1684.3L1042.4 1682.4L1044.3 1678.9L1046.7 1673.3L1047.3 1672.1L1047.9 1671.1L1048.5 1670.4L1049.2 1670.0L1049.8 1670.1L1050.4 1670.5L1051.0 1671.3L1052.2 1673.5L1054.6 1678.5L1055.9 1680.6L1057.1 1682.3L1058.3 1683.5L1059.5 1684.4L1060.7 1685.1L1062.6 1685.6L1064.4 1685.8L1066.2 1685.6L1068.0 1685.2L1069.9 1684.5L1071.7 1683.5L1073.5 1682.2L1075.4 1680.5L1077.2 1678.3L1079.0 1675.6L1080.8 1672.1L1082.1 1669.3L1083.3 1665.8L1084.5 1661.7L1085.7 1656.7L1086.9 1650.6L1088.2 1643.1L1089.4 1633.7L1090.6 1621.9L1091.8 1607.1L1093.0 1588.3L1094.3 1564.7L1095.5 1535.7L1098.5 1449.3L1099.1 1435.0L1099.7 1424.4L1100.4 1418.5L1101.0 1417.9L1101.6 1422.8L1102.2 1432.6L1102.8 1446.3L1105.8 1532.7L1107.1 1562.3L1108.3 1586.4L1109.5 1605.7L1110.7 1620.9L1111.9 1633.0L1113.2 1642.6L1114.4 1650.3L1115.6 1656.6L1116.8 1661.8L1118.0 1666.0L1119.2 1669.6L1121.1 1673.9L1122.9 1677.3L1124.7 1680.0L1126.6 1682.2L1128.4 1684.0L1130.8 1685.9L1133.3 1687.5L1136.3 1689.0L1140.0 1690.3L1144.2 1691.5L1149.1 1692.4L1155.2 1693.2L1163.1 1693.8L1172.9 1694.1L1183.3 1694.1L1193.0 1693.7L1201.5 1693.1L1208.2 1692.2L1213.7 1691.2L1218.6 1690.0L1222.3 1688.7L1225.3 1687.4L1228.4 1685.7L1230.8 1684.0L1233.2 1681.9L1236.3 1678.8L1240.5 1674.2L1243.0 1672.1L1246.6 1669.2L1248.5 1667.4L1250.3 1665.1L1251.5 1663.1L1252.7 1660.7L1254.0 1657.7L1255.2 1654.2L1256.4 1649.9L1257.6 1644.8L1258.8 1638.5L1260.1 1630.9L1261.3 1621.6L1262.5 1610.1L1263.7 1595.7L1264.9 1577.6L1266.2 1554.4L1267.4 1524.5L1268.6 1485.7L1269.8 1435.3L1271.0 1371.0L1272.9 1249.4L1274.1 1164.8L1274.7 1129.3L1275.3 1103.4L1275.9 1090.2L1276.5 1091.6L1277.1 1107.4L1277.7 1135.4L1279.0 1213.9L1280.8 1340.1L1282.0 1410.0L1283.2 1465.4L1284.4 1508.2L1285.7 1540.9L1286.9 1566.2L1288.1 1585.7L1289.3 1601.0L1290.5 1613.0L1291.8 1622.5L1293.0 1630.1L1294.2 1636.0L1295.4 1640.7L1296.6 1644.3L1297.8 1647.1L1299.1 1649.1L1300.3 1650.6L1301.5 1651.6L1302.7 1652.2L1303.9 1652.6L1305.2 1652.6L1305.8 1652.5L1306.4 1652.2L1307.0 1651.8L1307.6 1651.2L1308.2 1650.4L1308.8 1649.3L1309.4 1648.0L1310.0 1646.4L1311.3 1642.1L1312.5 1636.4L1314.3 1625.1L1316.1 1613.2L1316.7 1610.3L1317.4 1608.2L1318.0 1607.4L1318.6 1608.0L1319.2 1609.9L1319.8 1612.9L1321.0 1621.5L1323.4 1641.0L1324.7 1649.3L1325.9 1656.2L1327.1 1661.8L1328.3 1666.3L1329.5 1669.9L1330.8 1672.8L1332.0 1675.1L1333.2 1677.1L1335.0 1679.3L1336.9 1681.1L1338.7 1682.3L1340.5 1683.3L1343.0 1684.2L1345.4 1684.7L1347.8 1684.9L1350.3 1684.8L1352.7 1684.5L1355.1 1683.8L1357.6 1682.7L1359.4 1681.6L1361.2 1680.1L1363.1 1678.3L1364.9 1675.9L1366.7 1672.9L1367.9 1670.4L1369.2 1667.3L1370.4 1663.7L1371.6 1659.3L1372.8 1653.9L1374.0 1647.3L1375.3 1639.0L1376.5 1628.6L1377.7 1615.5L1378.9 1598.9L1380.1 1578.1L1381.4 1552.4L1384.4 1474.8L1385.0 1461.5L1385.6 1451.2L1386.2 1445.1L1386.8 1443.6L1387.5 1447.1L1388.1 1455.0L1388.7 1466.7L1390.5 1512.9L1392.3 1558.5L1393.5 1583.3L1394.8 1603.4L1396.0 1619.3L1397.2 1631.9L1398.4 1642.0L1399.6 1650.1L1400.9 1656.6L1402.1 1661.9L1403.3 1666.3L1404.5 1669.9L1406.3 1674.3L1408.2 1677.8L1410.0 1680.5L1411.8 1682.8L1413.7 1684.6L1416.1 1686.5L1418.5 1688.1L1421.6 1689.6L1425.2 1691.1L1429.5 1692.3L1435.0 1693.4L1441.7 1694.4L1450.8 1695.4L1463.0 1696.1L1480.7 1696.8L1507.5 1697.3L1545.9 1697.6L1577.0 1697.5L1592.9 1697.2L1601.4 1696.8L1606.9 1696.2L1610.5 1695.6L1613.6 1694.7L1616.0 1693.7L1617.9 1692.6L1619.7 1691.2L1620.9 1689.9L1622.1 1688.3L1624.0 1685.1L1627.0 1678.6L1627.6 1677.4L1628.2 1676.4L1628.8 1675.8L1629.4 1675.5L1630.1 1675.6L1630.7 1676.1L1631.3 1676.9L1632.5 1679.3L1634.9 1684.6L1636.8 1687.8L1638.0 1689.4L1639.2 1690.8L1641.0 1692.3L1642.9 1693.3L1645.3 1694.3L1648.3 1695.1L1652.0 1695.7L1657.5 1696.1L1664.8 1696.2L1672.1 1695.9L1678.2 1695.4L1682.5 1694.7L1686.1 1693.8L1689.2 1692.7L1691.6 1691.4L1693.4 1690.2L1695.3 1688.5L1697.1 1686.2L1698.3 1684.2L1699.5 1681.8L1700.8 1678.7L1702.0 1674.9L1703.2 1670.1L1705.0 1661.2L1707.5 1647.9L1708.1 1645.2L1708.7 1643.3L1709.3 1642.2L1709.9 1642.1L1710.5 1643.0L1711.1 1644.7L1711.7 1647.3L1715.4 1666.7L1716.6 1672.0L1717.8 1676.3L1719.0 1679.8L1720.3 1682.6L1721.5 1684.8L1722.7 1686.6L1724.5 1688.6L1726.4 1690.2L1728.2 1691.3L1730.6 1692.4L1733.7 1693.4L1737.3 1694.1L1741.6 1694.5L1747.1 1694.7L1753.2 1694.6L1758.7 1694.1L1762.9 1693.4L1766.6 1692.5L1769.6 1691.4L1772.1 1690.2L1773.9 1689.0L1775.7 1687.5L1777.6 1685.6L1779.4 1683.1L1780.6 1681.0L1781.8 1678.5L1783.0 1675.3L1784.3 1671.4L1785.5 1666.5L1786.7 1660.4L1787.9 1652.7L1789.1 1643.2L1791.0 1625.7L1792.8 1607.1L1793.4 1601.9L1794.0 1598.0L1794.6 1595.6L1795.2 1595.0L1795.8 1596.3L1796.5 1599.4L1797.1 1603.9L1798.3 1615.5L1800.7 1640.0L1801.9 1650.0L1803.2 1658.2L1804.4 1664.7L1805.6 1669.9L1806.8 1674.1L1808.0 1677.4L1809.3 1680.1L1810.5 1682.3L1812.3 1685.0L1814.1 1686.9L1816.0 1688.5L1817.8 1689.7L1820.2 1690.9L1823.3 1692.0L1826.9 1692.9L1831.2 1693.5L1836.1 1693.9L1841.6 1693.9L1846.4 1693.7L1850.1 1693.1L1853.1 1692.4L1855.6 1691.5L1858.0 1690.2L1861.1 1688.5L1862.3 1688.0L1863.5 1687.9L1865.9 1688.0L1867.8 1688.2L1869.6 1688.0L1871.4 1687.6L1873.3 1686.7L1875.1 1685.6L1876.9 1683.9L1878.7 1681.8L1880.6 1679.0L1881.8 1676.6L1883.0 1673.8L1884.2 1670.2L1885.5 1665.9L1886.7 1660.5L1887.9 1653.7L1889.1 1645.2L1890.3 1634.5L1891.5 1621.2L1893.4 1596.2L1895.2 1568.4L1895.8 1560.2L1896.4 1553.6L1897.0 1549.0L1897.6 1547.1L1898.3 1547.9L1898.9 1551.4L1899.5 1557.3L1900.7 1573.7L1903.1 1610.1L1904.3 1625.3L1905.6 1637.7L1906.8 1647.7L1908.0 1655.6L1909.2 1661.8L1910.4 1666.9L1911.7 1670.9L1912.9 1674.2L1914.1 1676.9L1915.3 1679.1L1917.1 1681.7L1919.0 1683.8L1920.8 1685.3L1922.6 1686.5L1925.1 1687.7L1927.5 1688.6L1930.6 1689.2L1933.6 1689.5L1936.7 1689.5L1939.7 1689.2L1942.8 1688.5L1945.2 1687.7L1947.6 1686.6L1950.1 1685.1L1951.9 1683.7L1953.7 1681.8L1955.6 1679.5L1957.4 1676.5L1959.2 1672.6L1960.4 1669.3L1961.6 1665.4L1962.9 1660.6L1964.1 1654.7L1965.3 1647.3L1966.5 1638.1L1967.7 1626.4L1969.0 1611.8L1970.2 1593.4L1971.4 1570.9L1974.4 1504.6L1975.1 1493.8L1975.7 1485.7L1976.3 1481.2L1976.9 1480.8L1977.5 1484.6L1978.1 1492.0L1978.7 1502.4L1981.8 1568.7L1983.0 1591.7L1984.2 1610.5L1985.4 1625.6L1986.6 1637.6L1987.9 1647.1L1989.1 1654.7L1990.3 1660.8L1991.5 1665.8L1992.7 1669.9L1994.0 1673.3L1995.8 1677.4L1997.6 1680.5L1999.4 1683.1L2001.3 1685.1L2003.1 1686.8L2005.5 1688.5L2008.0 1689.9L2011.0 1691.3L2014.7 1692.5L2018.9 1693.6L2024.4 1694.6L2031.7 1695.6L2041.5 1696.4L2055.5 1697.1L2077.5 1697.6L2096.4 1697.9"/>
<path class="cv" stroke="#0000ff" d="M103.2 1698.1L110.5 1697.7L114.8 1697.1L117.8 1696.5L120.3 1695.6L122.1 1694.7L123.9 1693.4L127.6 1690.0L128.8 1689.2L129.4 1689.0L130.0 1689.0L130.6 1689.2L131.3 1689.5L132.5 1690.4L135.5 1693.2L137.4 1694.6L139.2 1695.5L141.6 1696.4L144.7 1697.1L148.9 1697.6L156.3 1698.1L170.9 1698.3L198.9 1698.3L213.5 1698.1L220.9 1697.7L225.1 1697.1L228.2 1696.4L230.6 1695.4L234.3 1693.5L235.5 1693.1L236.7 1693.0L237.9 1693.3L240.4 1694.5L242.8 1695.7L245.2 1696.5L248.3 1697.2L252.6 1697.6L259.9 1698.0L275.1 1698.1L292.8 1697.9L303.2 1697.4L309.2 1696.9L313.5 1696.2L316.6 1695.4L319.0 1694.4L320.8 1693.3L322.7 1691.8L324.5 1689.7L326.3 1686.9L328.8 1682.5L329.4 1681.5L330.0 1680.8L330.6 1680.2L331.2 1680.0L331.8 1680.1L332.4 1680.5L333.0 1681.2L334.2 1683.1L336.7 1687.4L338.5 1690.1L340.3 1692.0L342.2 1693.4L344.0 1694.4L346.4 1695.3L349.5 1696.0L353.7 1696.6L359.8 1697.0L369.6 1697.3L383.6 1697.1L396.4 1696.7L405.6 1696.0L412.3 1695.2L417.7 1694.3L422.0 1693.2L425.1 1692.1L428.1 1690.6L430.5 1689.1L432.4 1687.6L434.2 1685.8L436.0 1683.5L437.9 1680.4L439.1 1677.9L440.3 1674.8L441.5 1671.1L442.7 1666.4L444.0 1660.7L445.2 1653.4L446.4 1644.3L447.6 1633.0L448.8 1619.1L451.9 1577.2L452.5 1569.9L453.1 1564.1L453.7 1560.3L454.3 1559.0L454.9 1560.3L455.5 1564.0L456.1 1569.8L457.4 1585.3L459.8 1618.9L461.0 1632.7L462.2 1644.0L463.5 1653.1L464.7 1660.3L465.9 1666.0L467.1 1670.6L468.3 1674.3L469.6 1677.3L470.8 1679.7L472.6 1682.7L474.4 1684.9L476.3 1686.6L478.1 1688.0L480.5 1689.3L483.0 1690.3L485.4 1690.9L488.5 1691.3L490.9 1691.4L493.3 1691.2L495.2 1690.7L497.0 1690.1L498.8 1689.0L500.6 1687.6L503.7 1684.8L504.3 1684.4L504.9 1684.1L505.5 1684.0L506.1 1684.0L506.7 1684.1L508.0 1684.7L510.4 1686.1L511.6 1686.6L512.8 1686.9L514.1 1686.9L515.3 1686.7L516.5 1686.3L517.7 1685.6L518.9 1684.6L520.2 1683.4L521.4 1681.8L522.6 1679.7L523.8 1677.1L525.0 1673.9L526.2 1669.7L527.5 1664.5L528.7 1658.0L529.9 1649.8L531.7 1634.8L533.6 1618.8L534.2 1614.4L534.8 1611.0L535.4 1609.0L536.0 1608.5L536.6 1609.7L537.2 1612.3L537.8 1616.2L539.0 1626.2L541.5 1647.3L542.7 1656.0L543.9 1663.0L545.1 1668.7L546.4 1673.2L547.6 1676.8L548.8 1679.6L550.0 1681.9L551.2 1683.7L552.5 1685.2L554.3 1686.8L556.1 1687.9L557.9 1688.6L559.8 1688.9L561.0 1688.8L562.2 1688.5L563.4 1687.9L564.6 1687.1L566.5 1685.5L568.3 1683.8L568.9 1683.3L569.5 1683.1L570.1 1683.0L570.7 1683.1L571.4 1683.4L572.0 1684.0L573.2 1685.4L576.2 1689.3L578.1 1691.2L579.9 1692.5L581.7 1693.6L584.2 1694.5L587.2 1695.3L591.5 1696.1L598.2 1696.8L608.5 1697.3L626.8 1697.8L662.8 1698.1L738.4 1698.3L820.7 1698.0L863.3 1697.6L885.3 1697.2L897.5 1696.6L904.8 1696.0L909.7 1695.3L912.7 1694.6L915.1 1693.7L917.0 1692.9L918.8 1691.7L920.6 1690.1L924.3 1686.2L924.9 1685.7L925.5 1685.3L926.1 1685.0L926.7 1685.0L927.3 1685.1L927.9 1685.4L929.2 1686.4L931.6 1688.6L933.4 1689.9L935.3 1690.7L937.1 1691.2L938.9 1691.5L941.4 1691.4L944.4 1691.0L947.4 1690.2L949.9 1689.3L952.3 1688.0L954.8 1686.4L956.6 1684.8L958.4 1682.8L960.2 1680.2L962.1 1677.0L963.3 1674.3L964.5 1671.1L965.7 1667.2L967.0 1662.4L968.2 1656.4L969.4 1649.1L970.6 1639.8L971.8 1628.3L973.0 1613.9L974.9 1586.8L977.3 1547.0L977.9 1539.3L978.5 1533.5L979.1 1530.3L979.8 1529.8L980.4 1531.9L981.0 1536.3L982.2 1549.1L984.0 1569.9L985.2 1580.8L986.5 1588.8L988.9 1602.2L990.1 1610.8L993.8 1641.3L995.0 1649.9L996.2 1657.0L997.4 1662.8L998.6 1667.5L999.9 1671.4L1001.1 1674.5L1002.3 1677.1L1004.1 1680.2L1006.0 1682.6L1007.8 1684.5L1009.6 1686.0L1012.1 1687.5L1014.5 1688.6L1017.5 1689.6L1020.6 1690.3L1024.2 1690.7L1027.9 1690.8L1031.0 1690.5L1033.4 1690.0L1035.8 1689.2L1037.7 1688.3L1039.5 1687.0L1040.7 1685.8L1041.9 1684.3L1043.1 1682.4L1045.0 1678.9L1047.4 1673.3L1048.0 1672.1L1048.6 1671.1L1049.2 1670.4L1049.9 1670.0L1050.5 1670.1L1051.1 1670.5L1051.7 1671.3L1052.9 1673.5L1055.3 1678.5L1056.6 1680.6L1057.8 1682.3L1059.0 1683.5L1060.2 1684.4L1061.4 1685.1L1063.3 1685.6L1065.1 1685.8L1066.9 1685.6L1068.7 1685.2L1070.6 1684.5L1072.4 1683.5L1074.2 1682.2L1076.1 1680.5L1077.9 1678.3L1079.7 1675.6L1081.5 1672.1L1082.8 1669.3L1084.0 1665.8L1085.2 1661.7L1086.4 1656.7L1087.6 1650.6L1088.9 1643.1L1090.1 1633.7L1091.3 1621.9L1092.5 1607.1L1093.7 1588.3L1095.0 1564.7L1096.2 1535.7L1099.2 1449.3L1099.8 1435.0L1100.4 1424.4L1101.1 1418.5L1101.7 1417.9L1102.3 1422.8L1102.9 1432.6L1103.5 1446.3L1106.5 1532.7L1107.8 1562.3L1109.0 1586.4L1110.2 1605.7L1111.4 1620.9L1112.6 1633.0L1113.9 1642.6L1115.1 1650.3L1116.3 1656.6L1117.5 1661.8L1118.7 1666.0L1119.9 1669.6L1121.8 1673.9L1123.6 1677.3L1125.4 1680.0L1127.3 1682.2L1129.1 1684.0L1131.5 1685.9L1134.0 1687.5L1137.0 1689.0L1140.7 1690.3L1144.9 1691.5L1149.8 1692.4L1155.9 1693.2L1163.8 1693.8L1173.6 1694.1L1184.0 1694.1L1193.7 1693.7L1202.2 1693.1L1208.9 1692.2L1214.4 1691.2L1219.3 1690.0L1223.0 1688.7L1226.0 1687.4L1229.1 1685.7L1231.5 1684.0L1233.9 1681.9L1237.0 1678.8L1241.2 1674.2L1243.7 1672.1L1247.3 1669.2L1249.2 1667.4L1251.0 1665.1L1252.2 1663.1L1253.4 1660.7L1254.7 1657.7L1255.9 1654.2L1257.1 1649.9L1258.3 1644.8L1259.5 1638.5L1260.8 1630.9L1262.0 1621.6L1263.2 1610.1L1264.4 1595.7L1265.6 1577.6L1266.9 1554.4L1268.1 1524.5L1269.3 1485.7L1270.5 1435.3L1271.7 1371.0L1273.6 1249.4L1274.8 1164.8L1275.4 1129.3L1276.0 1103.4L1276.6 1090.2L1277.2 1091.6L1277.8 1107.4L1278.4 1135.4L1279.7 1213.9L1281.5 1340.1L1282.7 1410.0L1283.9 1465.4L1285.1 1508.2L1286.4 1540.9L1287.6 1566.2L1288.8 1585.7L1290.0 1601.0L1291.2 1613.0L1292.5 1622.5L1293.7 1630.1L1294.9 1636.0L1296.1 1640.7L1297.3 1644.3L1298.5 1647.1L1299.8 1649.1L1301.0 1650.6L1302.2 1651.6L1303.4 1652.2L1304.6 1652.6L1305.9 1652.6L1306.5 1652.5L1307.1 1652.2L1307.7 1651.8L1308.3 1651.2L1308.9 1650.4L1309.5 1649.3L1310.1 1648.0L1310.7 1646.4L1312.0 1642.1L1313.2 1636.4L1315.0 1625.1L1316.8 1613.2L1317.4 1610.3L1318.1 1608.2L1318.7 1607.4L1319.3 1608.0L1319.9 1609.9L1320.5 1612.9L1321.7 1621.5L1324.1 1641.0L1325.4 1649.3L1326.6 1656.2L1327.8 1661.8L1329.0 1666.3L1330.2 1669.9L1331.5 1672.8L1332.7 1675.1L1333.9 1677.1L1335.7 1679.3L1337.6 1681.1L1339.4 1682.3L1341.2 1683.3L1343.7 1684.2L1346.1 1684.7L1348.5 1684.9L1351.0 1684.8L1353.4 1684.5L1355.8 1683.8L1358.3 1682.7L1360.1 1681.6L1361.9 1680.1L1363.8 1678.3L1365.6 1675.9L1367.4 1672.9L1368.6 1670.4L1369.9 1667.3L1371.1 1663.7L1372.3 1659.3L1373.5 1653.9L1374.7 1647.3L1376.0 1639.0L1377.2 1628.6L1378.4 1615.5L1379.6 1598.9L1380.8 1578.1L1382.1 1552.4L1385.1 1474.8L1385.7 1461.5L1386.3 1451.2L1386.9 1445.1L1387.5 1443.6L1388.2 1447.1L1388.8 1455.0L1389.4 1466.7L1391.2 1512.9L1393.0 1558.5L1394.2 1583.3L1395.5 1603.4L1396.7 1619.3L1397.9 1631.9L1399.1 1642.0L1400.3 1650.1L1401.6 1656.6L1402.8 1661.9L1404.0 1666.3L1405.2 1669.9L1407.0 1674.3L1408.9 1677.8L1410.7 1680.5L1412.5 1682.8L1414.4 1684.6L1416.8 1686.5L1419.2 1688.1L1422.3 1689.6L1425.9 1691.1L1430.2 1692.3L1435.7 1693.4L1442.4 1694.4L1451.5 1695.4L1463.7 1696.1L1481.4 1696.8L1508.2 1697.3L1546.6 1697.6L1577.7 1697.5L1593.6 1697.2L1602.1 1696.8L1607.6 1696.2L1611.2 1695.6L1614.3 1694.7L1616.7 1693.7L1618.6 1692.6L1620.4 1691.2L1621.6 1689.9L1622.8 1688.3L1624.7 1685.1L1627.7 1678.6L1628.3 1677.4L1628.9 1676.4L1629.5 1675.8L1630.1 1675.5L1630.8 1675.6L1631.4 1676.1L1632.0 1676.9L1633.2 1679.3L1635.6 1684.6L1637.5 1687.8L1638.7 1689.4L1639.9 1690.8L1641.7 1692.3L1643.6 1693.3L1646.0 1694.3L1649.0 1695.1L1652.7 1695.7L1658.2 1696.1L1665.5 1696.2L1672.8 1695.9L1678.9 1695.4L1683.2 1694.7L1686.8 1693.8L1689.9 1692.7L1692.3 1691.4L1694.1 1690.2L1696.0 1688.5L1697.8 1686.2L1699.0 1684.2L1700.2 1681.8L1701.5 1678.7L1702.7 1674.9L1703.9 1670.1L1705.7 1661.2L1708.2 1647.9L1708.8 1645.2L1709.4 1643.3L1710.0 1642.2L1710.6 1642.1L1711.2 1643.0L1711.8 1644.7L1712.4 1647.3L1716.1 1666.7L1717.3 1672.0L1718.5 1676.3L1719.7 1679.8L1721.0 1682.6L1722.2 1684.8L1723.4 1686.6L1725.2 1688.6L1727.1 1690.2L1728.9 1691.3L1731.3 1692.4L1734.4 1693.4L1738.0 1694.1L1742.3 1694.5L1747.8 1694.7L1753.9 1694.6L1759.4 1694.1L1763.6 1693.4L1767.3 1692.5L1770.3 1691.4L1772.8 1690.2L1774.6 1689.0L1776.4 1687.5L1778.3 1685.6L1780.1 1683.1L1781.3 1681.0L1782.5 1678.5L1783.7 1675.3L1785.0 1671.4L1786.2 1666.5L1787.4 1660.4L1788.6 1652.7L1789.8 1643.2L1791.7 1625.7L1793.5 1607.1L1794.1 1601.9L1794.7 1598.0L1795.3 1595.6L1795.9 1595.0L1796.5 1596.3L1797.2 1599.4L1797.8 1603.9L1799.0 1615.5L1801.4 1640.0L1802.6 1650.0L1803.9 1658.2L1805.1 1664.7L1806.3 1669.9L1807.5 1674.1L1808.7 1677.4L1810.0 1680.1L1811.2 1682.3L1813.0 1685.0L1814.8 1686.9L1816.7 1688.5L1818.5 1689.7L1820.9 1690.9L1824.0 1692.0L1827.6 1692.9L1831.9 1693.5L1836.8 1693.9L1842.3 1693.9L1847.1 1693.7L1850.8 1693.1L1853.8 1692.4L1856.3 1691.5L1858.7 1690.2L1861.8 1688.5L1863.0 1688.0L1864.2 1687.9L1866.6 1688.0L1868.5 1688.2L1870.3 1688.0L1872.1 1687.6L1874.0 1686.7L1875.8 1685.6L1877.6 1683.9L1879.4 1681.8L1881.3 1679.0L1882.5 1676.6L1883.7 1673.8L1884.9 1670.2L1886.2 1665.9L1887.4 1660.5L1888.6 1653.7L1889.8 1645.2L1891.0 1634.5L1892.2 1621.2L1894.1 1596.2L1895.9 1568.4L1896.5 1560.2L1897.1 1553.6L1897.7 1549.0L1898.3 1547.1L1899.0 1547.9L1899.6 1551.4L1900.2 1557.3L1901.4 1573.7L1903.8 1610.1L1905.0 1625.3L1906.3 1637.7L1907.5 1647.7L1908.7 1655.6L1909.9 1661.8L1911.1 1666.9L1912.4 1670.9L1913.6 1674.2L1914.8 1676.9L1916.0 1679.1L1917.8 1681.7L1919.7 1683.8L1921.5 1685.3L1923.3 1686.5L1925.8 1687.7L1928.2 1688.6L1931.3 1689.2L1934.3 1689.5L1937.4 1689.5L1940.4 1689.2L1943.5 1688.5L1945.9 1687.7L1948.3 1686.6L1950.8 1685.1L1952.6 1683.7L1954.4 1681.8L1956.3 1679.5L1958.1 1676.5L1959.9 1672.6L1961.1 1669.3L1962.3 1665.4L1963.6 1660.6L1964.8 1654.7L1966.0 1647.3L1967.2 1638.1L1968.4 1626.4L1969.7 1611.8L1970.9 1593.4L1972.1 1570.9L1975.1 1504.6L1975.8 1493.8L1976.4 1485.7L1977.0 1481.2L1977.6 1480.8L1978.2 1484.6L1978.8 1492.0L1979.4 1502.4L1982.5 1568.7L1983.7 1591.7L1984.9 1610.5L1986.1 1625.6L1987.3 1637.6L1988.6 1647.1L1989.8 1654.7L1991.0 1660.8L1992.2 1665.8L1993.4 1669.9L1994.7 1673.3L1996.5 1677.4L1998.3 1680.5L2000.1 1683.1L2002.0 1685.1L2003.8 1686.8L2006.2 1688.5L2008.7 1689.9L2011.7 1691.3L2015.4 1692.5L2019.6 1693.6L2025.1 1694.6L2032.4 1695.6L2042.2 1696.4L2056.2 1697.1L2078.2 1697.6L2097.1 1697.9"/>
<path class="cv" stroke="#000000" d="M102.6 890.0L109.3 889.6L113.6 889.0L116.7 888.2L118.5 887.5L120.3 886.5L122.1 885.2L125.8 881.7L127.0 880.8L127.6 880.6L128.2 880.5L128.9 880.6L129.5 880.9L130.7 881.9L133.7 884.9L135.6 886.3L137.4 887.3L139.8 888.3L142.9 889.0L147.1 889.6L153.8 890.0L167.3 890.3L194.7 890.3L212.4 890.1L220.3 889.7L225.2 889.2L228.2 888.5L230.6 887.7L232.5 886.8L236.7 884.0L238.0 883.6L238.6 883.5L239.2 883.6L240.4 884.0L244.7 886.8L246.5 887.7L248.9 888.5L252.0 889.1L256.9 889.7L264.8 890.0L281.8 890.2L305.0 890.0L316.6 889.6L322.7 889.2L327.0 888.5L330.0 887.7L331.8 887.0L333.7 886.0L335.5 884.6L339.1 881.2L339.8 880.8L340.4 880.6L341.0 880.5L341.6 880.6L342.2 880.8L343.4 881.7L346.5 884.5L348.3 885.8L350.1 886.8L352.6 887.7L355.6 888.4L359.9 888.8L365.4 889.0L369.6 888.8L373.3 888.3L378.8 887.1L380.6 887.0L382.4 887.3L386.7 888.3L390.3 888.8L395.8 889.0L405.6 889.0L418.4 888.6L428.8 887.9L436.7 887.0L442.8 886.0L447.6 884.9L451.3 883.7L454.4 882.3L456.8 881.0L459.2 879.2L461.1 877.6L462.9 875.5L464.7 872.9L466.5 869.6L467.8 866.9L469.0 863.5L470.2 859.5L471.4 854.6L472.6 848.5L473.9 840.8L475.1 831.3L476.3 819.3L477.5 804.4L479.3 776.6L481.2 746.1L481.8 737.3L482.4 730.3L483.0 725.7L483.6 724.0L484.2 725.3L484.8 729.5L485.4 736.1L486.7 753.9L489.1 791.9L490.3 807.2L491.5 819.3L492.8 828.6L493.4 832.2L494.0 835.3L494.6 837.9L495.2 840.0L495.8 841.6L496.4 842.9L497.0 843.7L497.6 844.2L498.2 844.3L498.8 844.1L499.5 843.6L500.7 842.1L501.9 840.6L502.5 840.2L503.1 840.1L503.7 840.5L504.3 841.4L504.9 842.7L506.2 846.5L508.6 855.1L509.8 858.8L511.0 861.7L512.3 863.9L513.5 865.4L514.1 865.9L514.7 866.3L515.3 866.6L515.9 866.7L516.5 866.6L517.1 866.5L517.7 866.2L518.4 865.7L519.0 865.2L519.6 864.4L520.8 862.4L522.0 859.6L523.2 855.8L524.5 850.8L525.7 844.4L526.9 836.5L529.9 812.3L530.5 808.1L531.2 804.8L531.8 802.7L532.4 802.0L533.0 802.9L533.6 805.2L534.2 808.7L535.4 818.1L537.9 838.5L539.1 846.9L540.3 853.8L541.5 859.4L542.7 863.8L544.0 867.3L545.2 870.2L546.4 872.4L547.6 874.3L549.4 876.4L551.3 877.9L553.1 879.0L554.9 879.8L556.8 880.2L558.6 880.3L560.4 880.1L562.2 879.6L564.1 878.6L565.3 877.7L566.5 876.4L567.7 874.7L568.9 872.6L570.2 869.8L571.4 866.3L573.2 859.8L575.0 852.8L575.7 850.8L576.3 849.3L576.9 848.3L577.5 848.0L578.1 848.4L578.7 849.5L579.3 851.2L580.5 855.6L583.0 865.4L584.2 869.4L585.4 872.8L586.6 875.5L587.8 877.7L589.1 879.4L590.9 881.5L592.7 883.0L594.5 884.1L597.0 885.3L600.0 886.3L603.7 887.1L609.2 887.9L617.1 888.6L629.3 889.2L650.0 889.7L689.0 890.1L762.8 890.2L831.7 889.9L868.2 889.5L887.7 889.0L898.7 888.4L905.4 887.7L909.7 887.0L912.7 886.2L915.2 885.2L917.0 884.2L918.8 882.8L920.7 881.0L923.7 877.6L924.3 877.1L924.9 876.7L925.5 876.5L926.1 876.5L926.8 876.7L927.4 877.0L928.6 878.0L931.0 880.3L932.8 881.6L934.7 882.5L936.5 883.0L938.3 883.2L940.8 883.1L943.8 882.7L946.9 881.8L949.3 880.8L951.7 879.5L953.6 878.2L955.4 876.6L957.2 874.7L959.1 872.2L960.9 869.0L962.1 866.3L963.3 863.2L964.5 859.3L965.8 854.6L967.0 848.8L968.2 841.7L969.4 832.7L970.6 821.4L971.9 807.5L973.7 781.0L976.1 741.0L976.7 732.8L977.3 726.4L978.0 722.4L978.6 721.0L979.2 722.1L979.8 725.4L980.4 730.4L982.8 754.6L984.1 763.9L985.3 770.5L987.1 779.3L988.3 787.4L989.5 797.9L992.6 827.0L993.8 836.7L995.0 844.7L996.2 851.3L997.5 856.6L998.7 860.9L999.9 864.4L1001.1 867.3L1002.9 870.8L1004.8 873.4L1006.6 875.5L1008.4 877.1L1010.3 878.4L1012.7 879.8L1015.1 880.8L1018.2 881.7L1021.2 882.2L1024.9 882.5L1027.9 882.5L1031.0 882.1L1033.4 881.5L1035.3 880.8L1037.1 879.8L1038.9 878.4L1040.1 877.1L1041.3 875.5L1042.6 873.5L1044.4 869.6L1046.8 863.7L1047.4 862.5L1048.1 861.4L1048.7 860.8L1049.3 860.5L1049.9 860.7L1050.5 861.2L1051.1 862.1L1052.3 864.6L1054.8 869.9L1056.0 872.1L1057.2 873.9L1058.4 875.2L1059.6 876.2L1060.9 876.9L1062.7 877.5L1064.5 877.7L1066.3 877.6L1068.2 877.2L1070.0 876.5L1071.8 875.6L1073.7 874.4L1075.5 872.8L1077.3 870.7L1079.1 868.1L1081.0 864.8L1082.8 860.5L1084.0 856.9L1085.2 852.6L1086.5 847.4L1087.7 841.1L1088.9 833.2L1090.1 823.4L1091.3 811.1L1092.6 795.5L1093.8 775.8L1095.0 751.1L1096.2 721.0L1099.3 634.8L1099.9 621.8L1100.5 612.9L1101.1 609.1L1101.7 610.8L1102.3 617.7L1102.9 629.2L1104.1 661.1L1106.6 730.7L1107.8 759.3L1109.0 782.4L1110.2 800.8L1111.4 815.4L1112.7 826.9L1113.9 836.1L1115.1 843.6L1116.3 849.6L1117.5 854.6L1118.8 858.7L1120.0 862.1L1121.8 866.3L1123.6 869.6L1125.5 872.3L1127.3 874.4L1129.1 876.1L1131.6 878.0L1134.0 879.5L1137.0 881.0L1140.7 882.3L1145.0 883.4L1150.5 884.5L1157.2 885.3L1165.1 885.8L1174.8 886.1L1185.2 886.0L1195.0 885.5L1203.5 884.8L1210.8 883.9L1216.3 882.8L1220.6 881.7L1224.2 880.5L1227.3 879.1L1229.7 877.8L1232.1 876.0L1234.0 874.3L1235.8 872.2L1237.6 869.6L1241.9 862.2L1243.1 860.5L1244.3 859.3L1247.4 857.3L1248.6 856.1L1249.8 854.5L1251.0 852.3L1252.3 849.6L1253.5 846.1L1254.7 841.9L1255.9 836.8L1257.1 830.7L1258.3 823.2L1259.6 814.2L1260.8 803.0L1262.0 789.3L1263.2 772.1L1264.4 750.3L1265.7 722.7L1266.9 687.2L1268.1 641.6L1269.3 583.5L1270.5 511.8L1273.0 348.5L1273.6 315.1L1274.2 290.9L1274.8 278.6L1275.4 280.0L1276.0 294.7L1276.6 320.9L1277.9 395.5L1279.7 518.7L1280.9 588.8L1282.1 645.3L1283.3 689.5L1284.6 723.9L1285.8 750.5L1287.0 771.4L1288.2 787.9L1289.4 800.9L1290.7 811.4L1291.9 819.8L1293.1 826.6L1294.3 832.0L1295.5 836.2L1296.8 839.5L1298.0 841.9L1298.6 842.7L1299.2 843.4L1299.8 843.9L1300.4 844.1L1301.0 844.2L1301.6 844.0L1302.2 843.7L1302.8 843.2L1304.1 841.6L1308.9 833.0L1310.2 830.3L1310.8 828.5L1312.0 824.0L1313.2 818.0L1315.0 807.8L1315.6 804.9L1316.3 802.7L1316.9 801.5L1317.5 801.5L1318.1 802.7L1318.7 805.2L1319.3 808.6L1321.1 822.3L1323.0 836.2L1324.2 844.0L1325.4 850.4L1326.6 855.5L1327.8 859.7L1329.1 863.0L1330.3 865.7L1331.5 867.9L1333.3 870.5L1335.2 872.5L1337.0 873.9L1338.8 875.0L1341.2 876.1L1343.7 876.8L1346.1 877.1L1348.6 877.2L1351.0 877.0L1353.4 876.5L1355.9 875.7L1358.3 874.4L1360.1 873.2L1362.0 871.6L1363.8 869.6L1365.6 867.0L1367.5 863.6L1368.7 860.9L1369.9 857.5L1371.1 853.5L1372.3 848.6L1373.6 842.5L1374.8 835.0L1376.0 825.6L1377.2 813.8L1378.4 798.8L1379.6 780.0L1380.9 756.5L1382.7 712.7L1384.5 666.1L1385.1 653.5L1385.7 644.1L1386.4 638.9L1387.0 638.4L1387.6 642.8L1388.2 651.5L1388.8 663.6L1391.8 740.6L1393.1 767.1L1394.3 788.8L1395.5 806.1L1396.7 819.9L1397.9 830.8L1399.2 839.5L1400.4 846.5L1401.6 852.2L1402.8 856.9L1404.0 860.8L1405.9 865.5L1407.7 869.1L1409.5 872.0L1411.3 874.3L1413.2 876.2L1415.6 878.3L1418.1 879.9L1421.1 881.5L1424.8 882.9L1429.0 884.2L1434.5 885.4L1441.2 886.4L1450.4 887.3L1462.5 888.1L1480.2 888.8L1507.0 889.3L1545.4 889.6L1576.5 889.5L1592.4 889.2L1601.5 888.7L1607.0 888.1L1610.7 887.5L1613.7 886.6L1616.2 885.5L1618.0 884.4L1619.8 882.8L1621.0 881.4L1622.2 879.7L1624.1 876.5L1627.1 870.1L1627.7 869.1L1628.3 868.4L1629.0 868.0L1629.6 868.1L1630.2 868.5L1630.8 869.2L1632.0 871.4L1634.4 876.6L1636.3 879.8L1637.5 881.4L1638.7 882.8L1640.5 884.3L1642.4 885.3L1644.8 886.3L1647.9 887.1L1651.5 887.6L1657.0 888.0L1663.7 888.1L1671.0 887.8L1676.5 887.3L1680.8 886.6L1684.4 885.6L1686.9 884.8L1689.3 883.5L1691.1 882.3L1693.0 880.7L1694.8 878.5L1696.0 876.6L1697.2 874.3L1698.4 871.3L1699.7 867.7L1700.9 863.1L1702.1 857.6L1705.1 841.1L1705.8 838.2L1706.4 836.0L1707.0 834.5L1707.6 834.0L1708.2 834.5L1708.8 835.9L1709.4 838.2L1710.6 844.2L1713.1 857.4L1714.3 862.9L1715.5 867.5L1716.7 871.1L1717.9 874.0L1719.2 876.3L1720.4 878.2L1722.2 880.3L1724.0 881.9L1725.9 883.0L1728.3 884.2L1731.4 885.1L1735.0 885.8L1739.3 886.3L1744.8 886.5L1750.3 886.3L1755.1 885.8L1759.4 885.0L1763.1 884.0L1766.1 882.8L1768.5 881.5L1770.4 880.2L1772.2 878.6L1774.0 876.6L1775.9 873.9L1777.1 871.6L1778.3 868.8L1779.5 865.4L1780.7 861.2L1782.0 855.9L1783.2 849.3L1784.4 841.0L1785.6 830.7L1787.4 811.5L1789.3 790.7L1789.9 784.8L1790.5 780.1L1791.1 777.0L1791.7 776.0L1792.3 777.0L1792.9 780.1L1793.5 784.7L1794.8 797.4L1797.2 824.7L1798.4 836.0L1799.6 845.3L1800.8 852.7L1802.1 858.6L1803.3 863.3L1804.5 867.1L1805.7 870.1L1806.9 872.6L1808.8 875.6L1810.6 877.8L1812.4 879.5L1814.3 880.9L1816.7 882.3L1819.7 883.5L1822.8 884.4L1827.1 885.2L1831.9 885.7L1837.4 885.9L1842.9 885.8L1847.2 885.4L1850.2 884.8L1852.7 884.0L1855.1 882.9L1859.4 880.5L1860.6 880.0L1861.8 879.9L1863.6 880.1L1866.1 880.4L1867.9 880.4L1869.7 880.0L1871.6 879.3L1873.4 878.3L1875.2 876.9L1877.0 875.1L1878.9 872.7L1880.1 870.7L1881.3 868.2L1882.5 865.3L1883.7 861.7L1885.0 857.2L1886.2 851.6L1887.4 844.7L1888.6 835.9L1889.8 824.9L1891.1 811.2L1892.9 785.7L1894.7 757.8L1895.3 749.8L1895.9 743.5L1896.5 739.4L1897.2 738.0L1897.8 739.4L1898.4 743.5L1899.0 749.8L1900.2 766.7L1902.6 803.2L1903.9 818.2L1905.1 830.4L1906.3 840.2L1907.5 848.0L1908.7 854.2L1910.0 859.1L1911.2 863.1L1912.4 866.4L1913.6 869.0L1914.8 871.2L1916.7 873.8L1918.5 875.8L1920.3 877.4L1922.1 878.6L1924.6 879.8L1927.0 880.6L1930.1 881.3L1933.1 881.6L1936.2 881.6L1939.2 881.3L1942.3 880.7L1945.3 879.7L1947.7 878.5L1950.2 877.0L1952.0 875.5L1953.8 873.6L1955.7 871.2L1957.5 868.1L1958.7 865.6L1959.9 862.6L1961.2 858.9L1962.4 854.4L1963.6 848.9L1964.8 842.1L1966.0 833.7L1967.3 823.0L1968.5 809.5L1969.7 792.6L1970.9 771.6L1972.7 733.0L1974.6 693.0L1975.2 682.5L1975.8 675.1L1976.4 671.3L1977.0 671.8L1977.6 676.3L1978.2 684.5L1979.4 708.2L1981.9 762.4L1983.1 785.1L1984.3 803.6L1985.5 818.5L1986.8 830.2L1988.0 839.6L1989.2 847.1L1990.4 853.1L1991.6 858.0L1992.9 862.1L1994.1 865.4L1995.9 869.5L1997.7 872.6L1999.6 875.1L2001.4 877.1L2003.2 878.8L2005.7 880.5L2008.1 881.9L2011.1 883.3L2014.8 884.5L2019.1 885.6L2024.6 886.6L2031.9 887.6L2041.6 888.4L2055.6 889.0L2077.6 889.6L2096.5 889.9"/>
<path class="cv" stroke="#000000" d="M103.3 890.0L110.0 889.6L114.3 889.0L117.4 888.2L119.2 887.5L121.0 886.5L122.8 885.2L126.5 881.7L127.7 880.8L128.3 880.6L128.9 880.5L129.6 880.6L130.2 880.9L131.4 881.9L134.4 884.9L136.3 886.3L138.1 887.3L140.5 888.3L143.6 889.0L147.8 889.6L154.5 890.0L168.0 890.3L195.4 890.3L213.1 890.1L221.0 889.7L225.9 889.2L228.9 888.5L231.3 887.7L233.2 886.8L237.4 884.0L238.7 883.6L239.3 883.5L239.9 883.6L241.1 884.0L245.4 886.8L247.2 887.7L249.6 888.5L252.7 889.1L257.6 889.7L265.5 890.0L282.5 890.2L305.7 890.0L317.3 889.6L323.4 889.2L327.7 888.5L330.7 887.7L332.5 887.0L334.4 886.0L336.2 884.6L339.8 881.2L340.5 880.8L341.1 880.6L341.7 880.5L342.3 880.6L342.9 880.8L344.1 881.7L347.2 884.5L349.0 885.8L350.8 886.8L353.3 887.7L356.3 888.4L360.6 888.8L366.1 889.0L370.3 888.8L374.0 888.3L379.5 887.1L381.3 887.0L383.1 887.3L387.4 888.3L391.0 888.8L396.5 889.0L406.3 889.0L419.1 888.6L429.5 887.9L437.4 887.0L443.5 886.0L448.3 884.9L452.0 883.7L455.1 882.3L457.5 881.0L459.9 879.2L461.8 877.6L463.6 875.5L465.4 872.9L467.2 869.6L468.5 866.9L469.7 863.5L470.9 859.5L472.1 854.6L473.3 848.5L474.6 840.8L475.8 831.3L477.0 819.3L478.2 804.4L480.0 776.6L481.9 746.1L482.5 737.3L483.1 730.3L483.7 725.7L484.3 724.0L484.9 725.3L485.5 729.5L486.1 736.1L487.4 753.9L489.8 791.9L491.0 807.2L492.2 819.3L493.5 828.6L494.1 832.2L494.7 835.3L495.3 837.9L495.9 840.0L496.5 841.6L497.1 842.9L497.7 843.7L498.3 844.2L498.9 844.3L499.5 844.1L500.2 843.6L501.4 842.1L502.6 840.6L503.2 840.2L503.8 840.1L504.4 840.5L505.0 841.4L505.6 842.7L506.9 846.5L509.3 855.1L510.5 858.8L511.7 861.7L513.0 863.9L514.2 865.4L514.8 865.9L515.4 866.3L516.0 866.6L516.6 866.7L517.2 866.6L517.8 866.5L518.4 866.2L519.1 865.7L519.7 865.2L520.3 864.4L521.5 862.4L522.7 859.6L523.9 855.8L525.2 850.8L526.4 844.4L527.6 836.5L530.6 812.3L531.2 808.1L531.9 804.8L532.5 802.7L533.1 802.0L533.7 802.9L534.3 805.2L534.9 808.7L536.1 818.1L538.6 838.5L539.8 846.9L541.0 853.8L542.2 859.4L543.4 863.8L544.7 867.3L545.9 870.2L547.1 872.4L548.3 874.3L550.1 876.4L552.0 877.9L553.8 879.0L555.6 879.8L557.5 880.2L559.3 880.3L561.1 880.1L562.9 879.6L564.8 878.6L566.0 877.7L567.2 876.4L568.4 874.7L569.6 872.6L570.9 869.8L572.1 866.3L573.9 859.8L575.7 852.8L576.4 850.8L577.0 849.3L577.6 848.3L578.2 848.0L578.8 848.4L579.4 849.5L580.0 851.2L581.2 855.6L583.7 865.4L584.9 869.4L586.1 872.8L587.3 875.5L588.5 877.7L589.8 879.4L591.6 881.5L593.4 883.0L595.2 884.1L597.7 885.3L600.7 886.3L604.4 887.1L609.9 887.9L617.8 888.6L630.0 889.2L650.7 889.7L689.7 890.1L763.5 890.2L832.4 889.9L868.9 889.5L888.4 889.0L899.4 888.4L906.1 887.7L910.4 887.0L913.4 886.2L915.9 885.2L917.7 884.2L919.5 882.8L921.4 881.0L924.4 877.6L925.0 877.1L925.6 876.7L926.2 876.5L926.8 876.5L927.5 876.7L928.1 877.0L929.3 878.0L931.7 880.3L933.5 881.6L935.4 882.5L937.2 883.0L939.0 883.2L941.5 883.1L944.5 882.7L947.6 881.8L950.0 880.8L952.4 879.5L954.3 878.2L956.1 876.6L957.9 874.7L959.8 872.2L961.6 869.0L962.8 866.3L964.0 863.2L965.2 859.3L966.5 854.6L967.7 848.8L968.9 841.7L970.1 832.7L971.3 821.4L972.6 807.5L974.4 781.0L976.8 741.0L977.4 732.8L978.0 726.4L978.7 722.4L979.3 721.0L979.9 722.1L980.5 725.4L981.1 730.4L983.5 754.6L984.8 763.9L986.0 770.5L987.8 779.3L989.0 787.4L990.2 797.9L993.3 827.0L994.5 836.7L995.7 844.7L996.9 851.3L998.2 856.6L999.4 860.9L1000.6 864.4L1001.8 867.3L1003.6 870.8L1005.5 873.4L1007.3 875.5L1009.1 877.1L1011.0 878.4L1013.4 879.8L1015.8 880.8L1018.9 881.7L1021.9 882.2L1025.6 882.5L1028.6 882.5L1031.7 882.1L1034.1 881.5L1036.0 880.8L1037.8 879.8L1039.6 878.4L1040.8 877.1L1042.0 875.5L1043.3 873.5L1045.1 869.6L1047.5 863.7L1048.1 862.5L1048.8 861.4L1049.4 860.8L1050.0 860.5L1050.6 860.7L1051.2 861.2L1051.8 862.1L1053.0 864.6L1055.5 869.9L1056.7 872.1L1057.9 873.9L1059.1 875.2L1060.3 876.2L1061.6 876.9L1063.4 877.5L1065.2 877.7L1067.0 877.6L1068.9 877.2L1070.7 876.5L1072.5 875.6L1074.4 874.4L1076.2 872.8L1078.0 870.7L1079.8 868.1L1081.7 864.8L1083.5 860.5L1084.7 856.9L1085.9 852.6L1087.2 847.4L1088.4 841.1L1089.6 833.2L1090.8 823.4L1092.0 811.1L1093.3 795.5L1094.5 775.8L1095.7 751.1L1096.9 721.0L1100.0 634.8L1100.6 621.8L1101.2 612.9L1101.8 609.1L1102.4 610.8L1103.0 617.7L1103.6 629.2L1104.8 661.1L1107.3 730.7L1108.5 759.3L1109.7 782.4L1110.9 800.8L1112.1 815.4L1113.4 826.9L1114.6 836.1L1115.8 843.6L1117.0 849.6L1118.2 854.6L1119.5 858.7L1120.7 862.1L1122.5 866.3L1124.3 869.6L1126.2 872.3L1128.0 874.4L1129.8 876.1L1132.3 878.0L1134.7 879.5L1137.7 881.0L1141.4 882.3L1145.7 883.4L1151.2 884.5L1157.9 885.3L1165.8 885.8L1175.5 886.1L1185.9 886.0L1195.7 885.5L1204.2 884.8L1211.5 883.9L1217.0 882.8L1221.3 881.7L1224.9 880.5L1228.0 879.1L1230.4 877.8L1232.8 876.0L1234.7 874.3L1236.5 872.2L1238.3 869.6L1242.6 862.2L1243.8 860.5L1245.0 859.3L1248.1 857.3L1249.3 856.1L1250.5 854.5L1251.7 852.3L1253.0 849.6L1254.2 846.1L1255.4 841.9L1256.6 836.8L1257.8 830.7L1259.0 823.2L1260.3 814.2L1261.5 803.0L1262.7 789.3L1263.9 772.1L1265.1 750.3L1266.4 722.7L1267.6 687.2L1268.8 641.6L1270.0 583.5L1271.2 511.8L1273.7 348.5L1274.3 315.1L1274.9 290.9L1275.5 278.6L1276.1 280.0L1276.7 294.7L1277.3 320.9L1278.6 395.5L1280.4 518.7L1281.6 588.8L1282.8 645.3L1284.0 689.5L1285.3 723.9L1286.5 750.5L1287.7 771.4L1288.9 787.9L1290.1 800.9L1291.4 811.4L1292.6 819.8L1293.8 826.6L1295.0 832.0L1296.2 836.2L1297.5 839.5L1298.7 841.9L1299.3 842.7L1299.9 843.4L1300.5 843.9L1301.1 844.1L1301.7 844.2L1302.3 844.0L1302.9 843.7L1303.5 843.2L1304.8 841.6L1309.6 833.0L1310.9 830.3L1311.5 828.5L1312.7 824.0L1313.9 818.0L1315.7 807.8L1316.3 804.9L1317.0 802.7L1317.6 801.5L1318.2 801.5L1318.8 802.7L1319.4 805.2L1320.0 808.6L1321.8 822.3L1323.7 836.2L1324.9 844.0L1326.1 850.4L1327.3 855.5L1328.5 859.7L1329.8 863.0L1331.0 865.7L1332.2 867.9L1334.0 870.5L1335.9 872.5L1337.7 873.9L1339.5 875.0L1341.9 876.1L1344.4 876.8L1346.8 877.1L1349.3 877.2L1351.7 877.0L1354.1 876.5L1356.6 875.7L1359.0 874.4L1360.8 873.2L1362.7 871.6L1364.5 869.6L1366.3 867.0L1368.2 863.6L1369.4 860.9L1370.6 857.5L1371.8 853.5L1373.0 848.6L1374.3 842.5L1375.5 835.0L1376.7 825.6L1377.9 813.8L1379.1 798.8L1380.3 780.0L1381.6 756.5L1383.4 712.7L1385.2 666.1L1385.8 653.5L1386.4 644.1L1387.1 638.9L1387.7 638.4L1388.3 642.8L1388.9 651.5L1389.5 663.6L1392.5 740.6L1393.8 767.1L1395.0 788.8L1396.2 806.1L1397.4 819.9L1398.6 830.8L1399.9 839.5L1401.1 846.5L1402.3 852.2L1403.5 856.9L1404.7 860.8L1406.6 865.5L1408.4 869.1L1410.2 872.0L1412.0 874.3L1413.9 876.2L1416.3 878.3L1418.8 879.9L1421.8 881.5L1425.5 882.9L1429.7 884.2L1435.2 885.4L1441.9 886.4L1451.1 887.3L1463.2 888.1L1480.9 888.8L1507.7 889.3L1546.1 889.6L1577.2 889.5L1593.1 889.2L1602.2 888.7L1607.7 888.1L1611.4 887.5L1614.4 886.6L1616.9 885.5L1618.7 884.4L1620.5 882.8L1621.7 881.4L1622.9 879.7L1624.8 876.5L1627.8 870.1L1628.4 869.1L1629.0 868.4L1629.7 868.0L1630.3 868.1L1630.9 868.5L1631.5 869.2L1632.7 871.4L1635.1 876.6L1637.0 879.8L1638.2 881.4L1639.4 882.8L1641.2 884.3L1643.1 885.3L1645.5 886.3L1648.6 887.1L1652.2 887.6L1657.7 888.0L1664.4 888.1L1671.7 887.8L1677.2 887.3L1681.5 886.6L1685.1 885.6L1687.6 884.8L1690.0 883.5L1691.8 882.3L1693.7 880.7L1695.5 878.5L1696.7 876.6L1697.9 874.3L1699.1 871.3L1700.4 867.7L1701.6 863.1L1702.8 857.6L1705.8 841.1L1706.5 838.2L1707.1 836.0L1707.7 834.5L1708.3 834.0L1708.9 834.5L1709.5 835.9L1710.1 838.2L1711.3 844.2L1713.8 857.4L1715.0 862.9L1716.2 867.5L1717.4 871.1L1718.6 874.0L1719.9 876.3L1721.1 878.2L1722.9 880.3L1724.7 881.9L1726.6 883.0L1729.0 884.2L1732.1 885.1L1735.7 885.8L1740.0 886.3L1745.5 886.5L1751.0 886.3L1755.8 885.8L1760.1 885.0L1763.8 884.0L1766.8 882.8L1769.2 881.5L1771.1 880.2L1772.9 878.6L1774.7 876.6L1776.6 873.9L1777.8 871.6L1779.0 868.8L1780.2 865.4L1781.4 861.2L1782.7 855.9L1783.9 849.3L1785.1 841.0L1786.3 830.7L1788.1 811.5L1790.0 790.7L1790.6 784.8L1791.2 780.1L1791.8 777.0L1792.4 776.0L1793.0 777.0L1793.6 780.1L1794.2 784.7L1795.5 797.4L1797.9 824.7L1799.1 836.0L1800.3 845.3L1801.5 852.7L1802.8 858.6L1804.0 863.3L1805.2 867.1L1806.4 870.1L1807.6 872.6L1809.5 875.6L1811.3 877.8L1813.1 879.5L1815.0 880.9L1817.4 882.3L1820.4 883.5L1823.5 884.4L1827.8 885.2L1832.6 885.7L1838.1 885.9L1843.6 885.8L1847.9 885.4L1850.9 884.8L1853.4 884.0L1855.8 882.9L1860.1 880.5L1861.3 880.0L1862.5 879.9L1864.3 880.1L1866.8 880.4L1868.6 880.4L1870.4 880.0L1872.3 879.3L1874.1 878.3L1875.9 876.9L1877.7 875.1L1879.6 872.7L1880.8 870.7L1882.0 868.2L1883.2 865.3L1884.4 861.7L1885.7 857.2L1886.9 851.6L1888.1 844.7L1889.3 835.9L1890.5 824.9L1891.8 811.2L1893.6 785.7L1895.4 757.8L1896.0 749.8L1896.6 743.5L1897.2 739.4L1897.9 738.0L1898.5 739.4L1899.1 743.5L1899.7 749.8L1900.9 766.7L1903.3 803.2L1904.6 818.2L1905.8 830.4L1907.0 840.2L1908.2 848.0L1909.4 854.2L1910.7 859.1L1911.9 863.1L1913.1 866.4L1914.3 869.0L1915.5 871.2L1917.4 873.8L1919.2 875.8L1921.0 877.4L1922.8 878.6L1925.3 879.8L1927.7 880.6L1930.8 881.3L1933.8 881.6L1936.9 881.6L1939.9 881.3L1943.0 880.7L1946.0 879.7L1948.4 878.5L1950.9 877.0L1952.7 875.5L1954.5 873.6L1956.4 871.2L1958.2 868.1L1959.4 865.6L1960.6 862.6L1961.9 858.9L1963.1 854.4L1964.3 848.9L1965.5 842.1L1966.7 833.7L1968.0 823.0L1969.2 809.5L1970.4 792.6L1971.6 771.6L1973.4 733.0L1975.3 693.0L1975.9 682.5L1976.5 675.1L1977.1 671.3L1977.7 671.8L1978.3 676.3L1978.9 684.5L1980.1 708.2L1982.6 762.4L1983.8 785.1L1985.0 803.6L1986.2 818.5L1987.5 830.2L1988.7 839.6L1989.9 847.1L1991.1 853.1L1992.3 858.0L1993.6 862.1L1994.8 865.4L1996.6 869.5L1998.4 872.6L2000.3 875.1L2002.1 877.1L2003.9 878.8L2006.4 880.5L2008.8 881.9L2011.8 883.3L2015.5 884.5L2019.8 885.6L2025.3 886.6L2032.6 887.6L2042.3 888.4L2056.3 889.0L2078.3 889.6L2097.2 889.9"/>
</svg>
<path d="M77.5 1712.5H2088.7" class="ax"/>
<path d="M77.5 1712.5V1740.5" class="ax"/>
<path d="M199.4 1712.5V1727.0" class="ax"/>
<path d="M321.4 1712.5V1740.5" class="ax"/>
<path d="M443.3 1712.5V1727.0" class="ax"/>
<path d="M565.2 1712.5V1740.5" class="ax"/>
<path d="M687.2 1712.5V1727.0" class="ax"/>
<path d="M809.1 1712.5V1740.5" class="ax"/>
<path d="M931.1 1712.5V1727.0" class="ax"/>
<path d="M1053.0 1712.5V1740.5" class="ax"/>
<path d="M1174.9 1712.5V1727.0" class="ax"/>
<path d="M1296.9 1712.5V1740.5" class="ax"/>
<path d="M1418.8 1712.5V1727.0" class="ax"/>
<path d="M1540.8 1712.5V1740.5" class="ax"/>
<path d="M1662.7 1712.5V1727.0" class="ax"/>
<path d="M1784.6 1712.5V1740.5" class="ax"/>
<path d="M1906.6 1712.5V1727.0" class="ax"/>
<path d="M2028.5 1712.5V1740.5" class="ax"/>
<text x="76.8" y="1806.1" class="tk">0</text>
<text x="319.9" y="1806.1" class="tk">200</text>
<text x="565.2" y="1806.1" class="tk">400</text>
<text x="809.1" y="1806.1" class="tk">600</text>
<text x="1053.0" y="1806.1" class="tk">800</text>
<text x="1296.9" y="1806.1" class="tk">1000</text>
<text x="1540.8" y="1806.1" class="tk">1200</text>
<text x="1784.6" y="1806.1" class="tk">1400</text>
<text x="2029.0" y="1806.1" class="tk">1600</text>
<rect class="bx" x="1734.25" y="58.75" width="430.0" height="259.0"/>
<path class="ll" stroke="#000000" d="M1749.8 104.5H1909"/>
<path class="ll" stroke="#ff0000" d="M1749.8 191.3H1909"/>
<path class="ll" stroke="#0000ff" d="M1749.8 278.1H1909"/>
<text class="lg" x="1926.6" y="128.4" textLength="197.3" lengthAdjust="spacingAndGlyphs">YClPz</text>
<text class="lg" x="1929.5" y="215.2" textLength="228.9" lengthAdjust="spacingAndGlyphs">LaClPz</text>
<text class="lg" x="1929.5" y="301.6" textLength="228.9" lengthAdjust="spacingAndGlyphs">LuClPz</text>
<text class="lb" x="1881.8" y="636.2" textLength="197.3" lengthAdjust="spacingAndGlyphs">YClPz</text>
<text class="lb" x="1848" y="1046" textLength="228.9" lengthAdjust="spacingAndGlyphs">LaClPz</text>
<text class="lb" x="1842.5" y="1450" textLength="228.9" lengthAdjust="spacingAndGlyphs">LuClPz</text>
</g>
<g id="chart-b">
<svg x="0" y="0" width="2090" height="4391" viewBox="0 0 2090 4391">
<path class="cv" stroke="#ff0000" d="M85.9 3617.7L93.9 3617.3L98.1 3616.8L101.2 3616.2L103.6 3615.5L106.1 3614.3L109.1 3612.6L110.3 3612.1L110.9 3612.0L111.5 3612.0L112.8 3612.3L115.2 3613.6L117.6 3614.9L120.1 3615.8L123.1 3616.4L126.8 3616.8L131.7 3616.9L135.9 3616.7L139.0 3616.2L142.0 3615.4L145.7 3614.2L146.9 3614.0L148.1 3614.1L149.9 3614.6L153.6 3615.9L156.6 3616.7L160.9 3617.2L168.2 3617.5L184.7 3617.7L210.9 3617.6L224.3 3617.3L231.6 3616.8L235.9 3616.3L238.9 3615.7L241.4 3614.9L243.2 3614.0L245.0 3612.9L246.9 3611.3L249.9 3608.1L250.5 3607.6L251.1 3607.3L251.7 3607.0L252.3 3607.0L253.0 3607.2L253.6 3607.5L254.8 3608.5L257.8 3611.4L259.7 3612.8L261.5 3613.8L263.3 3614.4L265.8 3614.9L268.8 3615.1L271.9 3615.0L274.3 3614.6L276.7 3613.8L278.6 3612.9L280.4 3611.7L282.2 3609.9L284.0 3607.5L286.5 3604.0L287.1 3603.3L287.7 3602.8L288.3 3602.5L288.9 3602.5L289.5 3602.8L290.1 3603.3L291.4 3604.7L294.4 3609.2L296.2 3611.3L298.1 3612.8L299.9 3613.9L302.3 3614.9L305.4 3615.7L309.6 3616.3L315.7 3616.8L326.1 3617.1L343.8 3617.2L362.7 3616.9L375.5 3616.4L384.0 3615.7L389.5 3615.0L393.8 3614.1L396.8 3613.2L399.2 3612.2L401.7 3610.9L403.5 3609.6L405.3 3607.8L406.6 3606.2L407.8 3604.4L409.0 3602.0L410.2 3599.1L411.4 3595.5L413.3 3588.7L415.7 3578.3L416.3 3576.0L416.9 3574.2L417.5 3573.0L418.1 3572.5L418.8 3572.8L419.4 3573.7L420.0 3575.3L421.2 3579.6L423.6 3589.0L424.8 3592.8L426.1 3595.8L427.3 3598.1L428.5 3599.7L429.7 3600.8L430.9 3601.5L432.2 3601.7L433.4 3601.6L434.6 3601.1L435.8 3600.3L437.0 3599.0L438.3 3597.2L439.5 3594.9L440.7 3591.9L441.9 3588.0L443.1 3583.0L444.4 3576.6L445.6 3568.6L446.8 3558.8L449.8 3529.8L450.5 3525.0L451.1 3521.3L451.7 3519.0L452.3 3518.5L452.9 3519.8L453.5 3522.8L454.1 3527.1L455.9 3544.5L457.8 3561.9L459.0 3571.6L460.2 3579.4L461.4 3585.8L462.6 3590.8L463.9 3594.9L465.1 3598.2L466.3 3600.8L467.5 3603.0L469.3 3605.5L471.2 3607.5L473.0 3609.0L475.4 3610.6L477.9 3611.8L480.9 3612.9L484.6 3613.8L489.5 3614.7L494.9 3615.3L500.4 3615.5L504.7 3615.4L507.7 3615.0L510.8 3614.2L513.2 3613.6L514.5 3613.5L515.7 3613.6L517.5 3614.1L521.2 3615.3L524.2 3616.0L528.5 3616.5L535.8 3617.0L551.6 3617.3L588.8 3617.5L635.1 3617.4L660.7 3617.0L674.8 3616.5L683.9 3615.9L690.0 3615.2L694.3 3614.3L697.3 3613.5L700.4 3612.3L702.8 3610.9L704.6 3609.6L706.5 3607.8L708.3 3605.3L709.5 3603.3L710.7 3600.7L711.9 3597.5L713.2 3593.4L714.4 3588.4L715.6 3582.3L718.7 3563.7L719.3 3560.4L719.9 3557.7L720.5 3555.8L721.1 3555.0L721.7 3555.4L722.3 3556.8L722.9 3559.2L724.1 3565.8L726.6 3580.9L727.8 3587.2L729.0 3592.4L730.2 3596.6L731.5 3600.0L732.7 3602.7L733.9 3604.8L735.1 3606.6L736.9 3608.6L738.8 3610.1L740.6 3611.3L743.0 3612.5L746.1 3613.5L749.7 3614.4L754.6 3615.1L761.3 3615.7L770.5 3616.0L781.4 3616.0L790.6 3615.7L796.7 3615.1L800.9 3614.5L804.0 3613.6L806.4 3612.7L808.3 3611.6L810.1 3610.2L811.9 3608.4L814.4 3605.8L815.6 3604.8L816.2 3604.5L816.8 3604.3L818.0 3604.3L820.4 3604.7L821.7 3604.6L822.3 3604.4L822.9 3604.1L823.5 3603.7L824.7 3602.4L825.9 3600.6L827.2 3598.3L830.2 3591.4L830.8 3590.4L831.4 3589.7L832.0 3589.5L832.6 3589.7L833.2 3590.3L833.9 3591.3L835.1 3594.1L837.5 3600.4L838.7 3603.0L840.0 3605.2L841.2 3606.9L842.4 3608.3L844.2 3609.9L846.0 3611.0L847.9 3611.8L850.3 3612.6L853.4 3613.2L857.6 3613.6L863.1 3613.6L869.2 3613.3L874.7 3612.7L879.6 3611.9L883.8 3610.9L887.5 3609.6L890.5 3608.3L893.0 3606.9L895.4 3605.1L897.3 3603.5L899.1 3601.6L900.9 3599.1L902.7 3596.1L904.6 3592.3L905.8 3589.2L907.0 3585.5L908.2 3581.0L909.4 3575.6L910.7 3568.9L911.9 3560.7L913.1 3550.5L914.3 3537.5L915.5 3521.2L916.8 3500.7L918.0 3475.2L919.8 3427.9L921.6 3378.7L922.2 3365.8L922.9 3356.5L923.5 3351.9L924.1 3352.4L924.7 3358.0L925.3 3368.1L926.5 3397.3L928.9 3463.3L930.2 3490.9L931.4 3513.3L932.6 3531.2L933.8 3545.3L935.0 3556.5L936.3 3565.4L937.5 3572.6L938.7 3578.4L939.9 3583.2L941.1 3587.1L942.4 3590.4L944.2 3594.4L946.0 3597.5L947.8 3599.9L949.7 3601.8L951.5 3603.4L953.9 3605.0L956.4 3606.2L958.8 3607.1L961.3 3607.6L963.7 3607.9L966.1 3608.0L968.6 3607.6L970.4 3607.2L972.2 3606.4L974.1 3605.2L975.3 3604.1L976.5 3602.7L977.7 3600.9L978.9 3598.6L980.1 3595.8L982.0 3590.7L983.8 3585.2L984.4 3583.6L985.0 3582.5L985.6 3581.7L986.2 3581.5L986.9 3581.8L987.5 3582.6L988.1 3583.8L989.9 3588.8L991.7 3593.7L993.0 3596.3L994.2 3598.4L995.4 3599.9L996.6 3600.9L997.8 3601.6L999.0 3601.9L1000.3 3601.8L1001.5 3601.4L1002.7 3600.7L1003.9 3599.5L1005.1 3598.0L1006.4 3595.9L1007.6 3593.2L1008.8 3589.7L1010.0 3585.3L1011.8 3577.0L1013.7 3568.1L1014.3 3565.5L1014.9 3563.4L1015.5 3562.0L1016.1 3561.5L1016.7 3561.8L1017.3 3563.0L1017.9 3564.8L1019.2 3569.8L1021.6 3580.6L1022.8 3584.9L1024.0 3588.2L1025.3 3590.7L1025.9 3591.6L1026.5 3592.3L1027.1 3592.9L1027.7 3593.3L1028.3 3593.6L1028.9 3593.7L1029.5 3593.7L1030.1 3593.5L1030.7 3593.2L1031.4 3592.8L1032.0 3592.2L1033.2 3590.6L1034.4 3588.4L1035.6 3585.4L1036.8 3581.4L1038.1 3576.2L1039.3 3569.5L1040.5 3561.0L1041.7 3550.3L1042.9 3537.2L1046.0 3498.7L1046.6 3492.5L1047.2 3487.9L1047.8 3485.4L1048.4 3485.2L1049.0 3487.4L1049.6 3491.8L1050.2 3497.8L1053.9 3544.0L1055.1 3556.5L1056.3 3566.6L1057.6 3574.7L1058.8 3581.2L1060.0 3586.3L1061.2 3590.5L1062.4 3593.8L1063.7 3596.5L1064.9 3598.8L1066.7 3601.4L1068.5 3603.4L1070.4 3604.9L1072.2 3606.0L1074.0 3606.8L1075.8 3607.4L1077.7 3607.7L1079.5 3607.8L1081.3 3607.6L1083.2 3607.0L1085.0 3606.1L1086.2 3605.1L1087.4 3603.9L1088.6 3602.3L1089.9 3600.2L1091.1 3597.6L1094.1 3589.7L1094.7 3588.2L1095.4 3587.1L1096.0 3586.3L1096.6 3586.0L1097.2 3586.2L1097.8 3586.8L1098.4 3587.9L1099.6 3590.9L1102.1 3597.5L1103.3 3600.3L1104.5 3602.6L1105.7 3604.5L1106.9 3605.9L1108.2 3607.1L1110.0 3608.3L1111.8 3609.1L1113.6 3609.7L1116.1 3610.0L1118.5 3609.9L1121.0 3609.5L1122.8 3608.9L1124.6 3608.1L1126.4 3606.9L1128.3 3605.2L1129.5 3603.7L1130.7 3601.9L1131.9 3599.6L1133.1 3596.7L1134.4 3593.0L1135.6 3588.4L1136.8 3582.7L1138.6 3571.9L1141.1 3556.3L1141.7 3553.3L1142.3 3551.1L1142.9 3550.1L1143.5 3550.2L1144.1 3551.6L1144.7 3553.9L1145.9 3560.8L1148.4 3576.9L1149.6 3583.8L1150.8 3589.5L1152.0 3594.1L1153.3 3597.8L1154.5 3600.7L1155.7 3603.1L1156.9 3605.0L1158.7 3607.2L1160.6 3608.9L1162.4 3610.2L1164.8 3611.6L1167.9 3612.7L1171.5 3613.7L1176.4 3614.6L1183.1 3615.4L1192.9 3616.0L1208.1 3616.5L1233.1 3616.8L1268.5 3616.7L1298.9 3616.3L1319.7 3615.8L1334.3 3615.0L1344.7 3614.2L1352.0 3613.3L1357.5 3612.3L1361.7 3611.2L1364.8 3610.1L1367.2 3609.0L1369.0 3607.9L1370.9 3606.5L1372.7 3604.7L1374.5 3602.4L1378.2 3596.8L1378.8 3596.0L1379.4 3595.4L1380.0 3595.0L1380.6 3594.8L1381.2 3594.7L1381.8 3594.8L1384.9 3595.9L1386.1 3596.2L1387.3 3596.0L1388.5 3595.6L1389.8 3594.8L1391.0 3593.7L1392.2 3592.3L1394.0 3589.6L1395.9 3585.9L1397.7 3581.2L1398.9 3577.3L1400.1 3572.7L1401.3 3567.2L1402.6 3560.6L1403.8 3552.5L1405.0 3542.7L1406.2 3530.5L1407.4 3515.3L1408.7 3496.2L1409.9 3471.8L1411.1 3440.7L1412.3 3401.1L1413.5 3351.2L1415.4 3257.9L1417.2 3162.0L1417.8 3138.4L1418.4 3123.0L1419.0 3117.6L1419.6 3123.0L1420.2 3138.4L1420.9 3162.1L1422.7 3258.0L1424.5 3351.3L1425.7 3401.2L1426.9 3440.9L1428.2 3472.1L1429.4 3496.4L1430.6 3515.6L1431.8 3530.9L1433.0 3543.1L1434.3 3553.0L1435.5 3561.1L1436.7 3567.9L1437.9 3573.5L1439.8 3580.3L1441.6 3585.7L1443.4 3590.0L1445.2 3593.5L1447.1 3596.3L1448.9 3598.7L1450.7 3600.7L1453.2 3602.9L1455.6 3604.6L1458.6 3606.4L1461.7 3607.8L1465.4 3609.2L1469.6 3610.4L1475.1 3611.6L1481.8 3612.5L1490.3 3613.4L1500.7 3614.0L1513.5 3614.3L1527.5 3614.2L1540.3 3613.8L1551.3 3613.1L1559.8 3612.2L1567.1 3611.1L1572.6 3609.9L1577.5 3608.5L1581.8 3607.0L1585.4 3605.3L1588.5 3603.6L1591.5 3601.4L1594.0 3599.3L1596.4 3596.7L1598.2 3594.3L1600.1 3591.6L1601.9 3588.3L1603.7 3584.4L1605.5 3579.6L1607.4 3573.8L1609.2 3566.5L1611.0 3557.2L1612.3 3549.6L1613.5 3540.5L1614.7 3529.6L1615.9 3516.2L1617.1 3499.7L1618.3 3479.1L1619.6 3453.1L1620.8 3419.9L1622.0 3377.0L1623.2 3321.2L1624.4 3248.8L1625.7 3156.6L1628.7 2871.7L1629.3 2827.3L1629.9 2798.0L1630.5 2787.7L1631.1 2797.9L1631.8 2827.2L1632.4 2871.6L1635.4 3156.5L1636.6 3248.6L1637.9 3321.0L1639.1 3376.7L1640.3 3419.6L1641.5 3452.8L1642.7 3478.8L1643.9 3499.3L1645.2 3515.7L1646.4 3529.1L1647.6 3540.0L1648.8 3549.0L1650.0 3556.5L1651.3 3562.9L1653.1 3570.7L1654.9 3576.9L1656.8 3581.8L1658.6 3585.9L1660.4 3589.2L1662.2 3591.9L1664.1 3594.1L1665.9 3596.0L1667.7 3597.5L1669.6 3598.7L1671.4 3599.6L1673.2 3600.2L1675.0 3600.6L1676.9 3600.7L1678.7 3600.5L1680.5 3599.8L1681.7 3599.1L1683.0 3598.2L1684.2 3596.8L1685.4 3595.1L1686.6 3592.9L1687.8 3589.9L1689.1 3586.1L1690.3 3581.3L1691.5 3575.4L1693.3 3564.5L1695.2 3553.3L1695.8 3550.5L1696.4 3548.5L1697.0 3547.6L1697.6 3547.8L1698.2 3549.1L1698.8 3551.5L1700.0 3558.4L1702.5 3574.4L1703.7 3581.3L1704.9 3587.0L1706.1 3591.6L1707.3 3595.3L1708.6 3598.2L1709.8 3600.6L1711.0 3602.6L1712.8 3604.9L1714.7 3606.7L1716.5 3608.1L1718.9 3609.5L1722.0 3610.9L1725.6 3612.0L1730.5 3613.1L1736.6 3614.0L1745.1 3614.8L1757.3 3615.5L1775.0 3616.1L1796.3 3616.4L1812.2 3616.3L1821.9 3616.0L1828.0 3615.4L1832.3 3614.8L1835.3 3614.0L1837.8 3613.1L1839.6 3612.2L1841.4 3610.9L1843.3 3609.1L1844.5 3607.5L1845.7 3605.5L1847.5 3601.7L1850.6 3594.4L1851.2 3593.2L1851.8 3592.4L1852.4 3592.0L1853.0 3592.1L1853.6 3592.6L1854.2 3593.4L1855.5 3596.0L1857.9 3602.0L1859.7 3605.7L1860.9 3607.6L1862.2 3609.2L1864.0 3610.9L1865.8 3612.2L1867.7 3613.1L1870.1 3613.9L1873.1 3614.6L1877.4 3615.2L1882.9 3615.5L1889.0 3615.5L1894.5 3615.1L1898.1 3614.6L1901.2 3613.9L1903.6 3613.0L1905.4 3612.1L1907.3 3610.8L1909.1 3609.0L1910.3 3607.4L1911.5 3605.5L1912.8 3603.1L1914.6 3598.7L1916.4 3594.0L1917.0 3592.7L1917.6 3591.7L1918.2 3591.2L1918.9 3591.0L1919.5 3591.3L1920.1 3592.1L1920.7 3593.2L1922.5 3597.7L1924.3 3602.2L1925.6 3604.8L1926.8 3606.8L1928.0 3608.5L1929.2 3609.9L1931.0 3611.4L1932.9 3612.5L1935.3 3613.5L1938.4 3614.3L1942.0 3614.8L1946.9 3615.2L1952.4 3615.2L1957.9 3614.9L1962.1 3614.4L1965.8 3613.6L1968.8 3612.7L1971.3 3611.6L1973.1 3610.5L1974.9 3609.1L1976.8 3607.2L1978.0 3605.5L1979.2 3603.5L1980.4 3601.0L1981.6 3597.8L1982.9 3593.8L1984.1 3588.9L1985.9 3579.5L1988.3 3565.4L1989.0 3562.4L1989.6 3560.2L1990.2 3558.8L1990.8 3558.5L1991.4 3559.3L1992.0 3561.0L1992.6 3563.6L1993.8 3570.2L1996.3 3584.3L1997.5 3590.1L1998.7 3594.8L1999.9 3598.6L2001.1 3601.7L2002.4 3604.1L2003.6 3606.1L2005.4 3608.4L2007.2 3610.1L2009.1 3611.4L2011.5 3612.7L2014.6 3613.8L2018.2 3614.8L2023.1 3615.6L2029.8 3616.3L2040.2 3616.9L2057.2 3617.4L2091.4 3617.7L2096.2 3617.7"/>
<path class="cv" stroke="#ff0000" d="M86.6 3617.7L94.6 3617.3L98.8 3616.8L101.9 3616.2L104.3 3615.5L106.8 3614.3L109.8 3612.6L111.0 3612.1L111.6 3612.0L112.2 3612.0L113.5 3612.3L115.9 3613.6L118.3 3614.9L120.8 3615.8L123.8 3616.4L127.5 3616.8L132.4 3616.9L136.6 3616.7L139.7 3616.2L142.7 3615.4L146.4 3614.2L147.6 3614.0L148.8 3614.1L150.6 3614.6L154.3 3615.9L157.3 3616.7L161.6 3617.2L168.9 3617.5L185.4 3617.7L211.6 3617.6L225.0 3617.3L232.3 3616.8L236.6 3616.3L239.6 3615.7L242.1 3614.9L243.9 3614.0L245.7 3612.9L247.6 3611.3L250.6 3608.1L251.2 3607.6L251.8 3607.3L252.4 3607.0L253.0 3607.0L253.7 3607.2L254.3 3607.5L255.5 3608.5L258.5 3611.4L260.4 3612.8L262.2 3613.8L264.0 3614.4L266.5 3614.9L269.5 3615.1L272.6 3615.0L275.0 3614.6L277.4 3613.8L279.3 3612.9L281.1 3611.7L282.9 3609.9L284.7 3607.5L287.2 3604.0L287.8 3603.3L288.4 3602.8L289.0 3602.5L289.6 3602.5L290.2 3602.8L290.8 3603.3L292.1 3604.7L295.1 3609.2L296.9 3611.3L298.8 3612.8L300.6 3613.9L303.0 3614.9L306.1 3615.7L310.3 3616.3L316.4 3616.8L326.8 3617.1L344.5 3617.2L363.4 3616.9L376.2 3616.4L384.7 3615.7L390.2 3615.0L394.5 3614.1L397.5 3613.2L399.9 3612.2L402.4 3610.9L404.2 3609.6L406.0 3607.8L407.3 3606.2L408.5 3604.4L409.7 3602.0L410.9 3599.1L412.1 3595.5L414.0 3588.7L416.4 3578.3L417.0 3576.0L417.6 3574.2L418.2 3573.0L418.8 3572.5L419.5 3572.8L420.1 3573.7L420.7 3575.3L421.9 3579.6L424.3 3589.0L425.5 3592.8L426.8 3595.8L428.0 3598.1L429.2 3599.7L430.4 3600.8L431.6 3601.5L432.9 3601.7L434.1 3601.6L435.3 3601.1L436.5 3600.3L437.7 3599.0L439.0 3597.2L440.2 3594.9L441.4 3591.9L442.6 3588.0L443.8 3583.0L445.1 3576.6L446.3 3568.6L447.5 3558.8L450.5 3529.8L451.2 3525.0L451.8 3521.3L452.4 3519.0L453.0 3518.5L453.6 3519.8L454.2 3522.8L454.8 3527.1L456.6 3544.5L458.5 3561.9L459.7 3571.6L460.9 3579.4L462.1 3585.8L463.3 3590.8L464.6 3594.9L465.8 3598.2L467.0 3600.8L468.2 3603.0L470.0 3605.5L471.9 3607.5L473.7 3609.0L476.1 3610.6L478.6 3611.8L481.6 3612.9L485.3 3613.8L490.2 3614.7L495.6 3615.3L501.1 3615.5L505.4 3615.4L508.4 3615.0L511.5 3614.2L513.9 3613.6L515.2 3613.5L516.4 3613.6L518.2 3614.1L521.9 3615.3L524.9 3616.0L529.2 3616.5L536.5 3617.0L552.3 3617.3L589.5 3617.5L635.8 3617.4L661.4 3617.0L675.5 3616.5L684.6 3615.9L690.7 3615.2L695.0 3614.3L698.0 3613.5L701.1 3612.3L703.5 3610.9L705.3 3609.6L707.2 3607.8L709.0 3605.3L710.2 3603.3L711.4 3600.7L712.6 3597.5L713.9 3593.4L715.1 3588.4L716.3 3582.3L719.4 3563.7L720.0 3560.4L720.6 3557.7L721.2 3555.8L721.8 3555.0L722.4 3555.4L723.0 3556.8L723.6 3559.2L724.8 3565.8L727.3 3580.9L728.5 3587.2L729.7 3592.4L730.9 3596.6L732.2 3600.0L733.4 3602.7L734.6 3604.8L735.8 3606.6L737.6 3608.6L739.5 3610.1L741.3 3611.3L743.7 3612.5L746.8 3613.5L750.4 3614.4L755.3 3615.1L762.0 3615.7L771.2 3616.0L782.1 3616.0L791.3 3615.7L797.4 3615.1L801.6 3614.5L804.7 3613.6L807.1 3612.7L809.0 3611.6L810.8 3610.2L812.6 3608.4L815.1 3605.8L816.3 3604.8L816.9 3604.5L817.5 3604.3L818.7 3604.3L821.1 3604.7L822.4 3604.6L823.0 3604.4L823.6 3604.1L824.2 3603.7L825.4 3602.4L826.6 3600.6L827.9 3598.3L830.9 3591.4L831.5 3590.4L832.1 3589.7L832.7 3589.5L833.3 3589.7L833.9 3590.3L834.6 3591.3L835.8 3594.1L838.2 3600.4L839.4 3603.0L840.7 3605.2L841.9 3606.9L843.1 3608.3L844.9 3609.9L846.7 3611.0L848.6 3611.8L851.0 3612.6L854.1 3613.2L858.3 3613.6L863.8 3613.6L869.9 3613.3L875.4 3612.7L880.3 3611.9L884.5 3610.9L888.2 3609.6L891.2 3608.3L893.7 3606.9L896.1 3605.1L898.0 3603.5L899.8 3601.6L901.6 3599.1L903.4 3596.1L905.3 3592.3L906.5 3589.2L907.7 3585.5L908.9 3581.0L910.1 3575.6L911.4 3568.9L912.6 3560.7L913.8 3550.5L915.0 3537.5L916.2 3521.2L917.5 3500.7L918.7 3475.2L920.5 3427.9L922.3 3378.7L922.9 3365.8L923.6 3356.5L924.2 3351.9L924.8 3352.4L925.4 3358.0L926.0 3368.1L927.2 3397.3L929.6 3463.3L930.9 3490.9L932.1 3513.3L933.3 3531.2L934.5 3545.3L935.7 3556.5L937.0 3565.4L938.2 3572.6L939.4 3578.4L940.6 3583.2L941.8 3587.1L943.1 3590.4L944.9 3594.4L946.7 3597.5L948.5 3599.9L950.4 3601.8L952.2 3603.4L954.6 3605.0L957.1 3606.2L959.5 3607.1L962.0 3607.6L964.4 3607.9L966.8 3608.0L969.3 3607.6L971.1 3607.2L972.9 3606.4L974.8 3605.2L976.0 3604.1L977.2 3602.7L978.4 3600.9L979.6 3598.6L980.8 3595.8L982.7 3590.7L984.5 3585.2L985.1 3583.6L985.7 3582.5L986.3 3581.7L986.9 3581.5L987.6 3581.8L988.2 3582.6L988.8 3583.8L990.6 3588.8L992.4 3593.7L993.7 3596.3L994.9 3598.4L996.1 3599.9L997.3 3600.9L998.5 3601.6L999.7 3601.9L1001.0 3601.8L1002.2 3601.4L1003.4 3600.7L1004.6 3599.5L1005.8 3598.0L1007.1 3595.9L1008.3 3593.2L1009.5 3589.7L1010.7 3585.3L1012.5 3577.0L1014.4 3568.1L1015.0 3565.5L1015.6 3563.4L1016.2 3562.0L1016.8 3561.5L1017.4 3561.8L1018.0 3563.0L1018.6 3564.8L1019.9 3569.8L1022.3 3580.6L1023.5 3584.9L1024.7 3588.2L1026.0 3590.7L1026.6 3591.6L1027.2 3592.3L1027.8 3592.9L1028.4 3593.3L1029.0 3593.6L1029.6 3593.7L1030.2 3593.7L1030.8 3593.5L1031.4 3593.2L1032.1 3592.8L1032.7 3592.2L1033.9 3590.6L1035.1 3588.4L1036.3 3585.4L1037.5 3581.4L1038.8 3576.2L1040.0 3569.5L1041.2 3561.0L1042.4 3550.3L1043.6 3537.2L1046.7 3498.7L1047.3 3492.5L1047.9 3487.9L1048.5 3485.4L1049.1 3485.2L1049.7 3487.4L1050.3 3491.8L1050.9 3497.8L1054.6 3544.0L1055.8 3556.5L1057.0 3566.6L1058.3 3574.7L1059.5 3581.2L1060.7 3586.3L1061.9 3590.5L1063.1 3593.8L1064.4 3596.5L1065.6 3598.8L1067.4 3601.4L1069.2 3603.4L1071.1 3604.9L1072.9 3606.0L1074.7 3606.8L1076.5 3607.4L1078.4 3607.7L1080.2 3607.8L1082.0 3607.6L1083.9 3607.0L1085.7 3606.1L1086.9 3605.1L1088.1 3603.9L1089.3 3602.3L1090.6 3600.2L1091.8 3597.6L1094.8 3589.7L1095.4 3588.2L1096.1 3587.1L1096.7 3586.3L1097.3 3586.0L1097.9 3586.2L1098.5 3586.8L1099.1 3587.9L1100.3 3590.9L1102.8 3597.5L1104.0 3600.3L1105.2 3602.6L1106.4 3604.5L1107.6 3605.9L1108.9 3607.1L1110.7 3608.3L1112.5 3609.1L1114.3 3609.7L1116.8 3610.0L1119.2 3609.9L1121.7 3609.5L1123.5 3608.9L1125.3 3608.1L1127.1 3606.9L1129.0 3605.2L1130.2 3603.7L1131.4 3601.9L1132.6 3599.6L1133.8 3596.7L1135.1 3593.0L1136.3 3588.4L1137.5 3582.7L1139.3 3571.9L1141.8 3556.3L1142.4 3553.3L1143.0 3551.1L1143.6 3550.1L1144.2 3550.2L1144.8 3551.6L1145.4 3553.9L1146.6 3560.8L1149.1 3576.9L1150.3 3583.8L1151.5 3589.5L1152.7 3594.1L1154.0 3597.8L1155.2 3600.7L1156.4 3603.1L1157.6 3605.0L1159.4 3607.2L1161.3 3608.9L1163.1 3610.2L1165.5 3611.6L1168.6 3612.7L1172.2 3613.7L1177.1 3614.6L1183.8 3615.4L1193.6 3616.0L1208.8 3616.5L1233.8 3616.8L1269.2 3616.7L1299.6 3616.3L1320.4 3615.8L1335.0 3615.0L1345.4 3614.2L1352.7 3613.3L1358.2 3612.3L1362.4 3611.2L1365.5 3610.1L1367.9 3609.0L1369.7 3607.9L1371.6 3606.5L1373.4 3604.7L1375.2 3602.4L1378.9 3596.8L1379.5 3596.0L1380.1 3595.4L1380.7 3595.0L1381.3 3594.8L1381.9 3594.7L1382.5 3594.8L1385.6 3595.9L1386.8 3596.2L1388.0 3596.0L1389.2 3595.6L1390.5 3594.8L1391.7 3593.7L1392.9 3592.3L1394.7 3589.6L1396.6 3585.9L1398.4 3581.2L1399.6 3577.3L1400.8 3572.7L1402.0 3567.2L1403.3 3560.6L1404.5 3552.5L1405.7 3542.7L1406.9 3530.5L1408.1 3515.3L1409.4 3496.2L1410.6 3471.8L1411.8 3440.7L1413.0 3401.1L1414.2 3351.2L1416.1 3257.9L1417.9 3162.0L1418.5 3138.4L1419.1 3123.0L1419.7 3117.6L1420.3 3123.0L1420.9 3138.4L1421.6 3162.1L1423.4 3258.0L1425.2 3351.3L1426.4 3401.2L1427.6 3440.9L1428.9 3472.1L1430.1 3496.4L1431.3 3515.6L1432.5 3530.9L1433.7 3543.1L1435.0 3553.0L1436.2 3561.1L1437.4 3567.9L1438.6 3573.5L1440.5 3580.3L1442.3 3585.7L1444.1 3590.0L1445.9 3593.5L1447.8 3596.3L1449.6 3598.7L1451.4 3600.7L1453.9 3602.9L1456.3 3604.6L1459.3 3606.4L1462.4 3607.8L1466.1 3609.2L1470.3 3610.4L1475.8 3611.6L1482.5 3612.5L1491.0 3613.4L1501.4 3614.0L1514.2 3614.3L1528.2 3614.2L1541.0 3613.8L1552.0 3613.1L1560.5 3612.2L1567.8 3611.1L1573.3 3609.9L1578.2 3608.5L1582.5 3607.0L1586.1 3605.3L1589.2 3603.6L1592.2 3601.4L1594.7 3599.3L1597.1 3596.7L1598.9 3594.3L1600.8 3591.6L1602.6 3588.3L1604.4 3584.4L1606.2 3579.6L1608.1 3573.8L1609.9 3566.5L1611.7 3557.2L1613.0 3549.6L1614.2 3540.5L1615.4 3529.6L1616.6 3516.2L1617.8 3499.7L1619.0 3479.1L1620.3 3453.1L1621.5 3419.9L1622.7 3377.0L1623.9 3321.2L1625.1 3248.8L1626.4 3156.6L1629.4 2871.7L1630.0 2827.3L1630.6 2798.0L1631.2 2787.7L1631.8 2797.9L1632.5 2827.2L1633.1 2871.6L1636.1 3156.5L1637.3 3248.6L1638.6 3321.0L1639.8 3376.7L1641.0 3419.6L1642.2 3452.8L1643.4 3478.8L1644.6 3499.3L1645.9 3515.7L1647.1 3529.1L1648.3 3540.0L1649.5 3549.0L1650.7 3556.5L1652.0 3562.9L1653.8 3570.7L1655.6 3576.9L1657.5 3581.8L1659.3 3585.9L1661.1 3589.2L1662.9 3591.9L1664.8 3594.1L1666.6 3596.0L1668.4 3597.5L1670.3 3598.7L1672.1 3599.6L1673.9 3600.2L1675.7 3600.6L1677.6 3600.7L1679.4 3600.5L1681.2 3599.8L1682.4 3599.1L1683.7 3598.2L1684.9 3596.8L1686.1 3595.1L1687.3 3592.9L1688.5 3589.9L1689.8 3586.1L1691.0 3581.3L1692.2 3575.4L1694.0 3564.5L1695.9 3553.3L1696.5 3550.5L1697.1 3548.5L1697.7 3547.6L1698.3 3547.8L1698.9 3549.1L1699.5 3551.5L1700.7 3558.4L1703.2 3574.4L1704.4 3581.3L1705.6 3587.0L1706.8 3591.6L1708.0 3595.3L1709.3 3598.2L1710.5 3600.6L1711.7 3602.6L1713.5 3604.9L1715.4 3606.7L1717.2 3608.1L1719.6 3609.5L1722.7 3610.9L1726.3 3612.0L1731.2 3613.1L1737.3 3614.0L1745.8 3614.8L1758.0 3615.5L1775.7 3616.1L1797.0 3616.4L1812.9 3616.3L1822.6 3616.0L1828.7 3615.4L1833.0 3614.8L1836.0 3614.0L1838.5 3613.1L1840.3 3612.2L1842.1 3610.9L1844.0 3609.1L1845.2 3607.5L1846.4 3605.5L1848.2 3601.7L1851.3 3594.4L1851.9 3593.2L1852.5 3592.4L1853.1 3592.0L1853.7 3592.1L1854.3 3592.6L1854.9 3593.4L1856.2 3596.0L1858.6 3602.0L1860.4 3605.7L1861.6 3607.6L1862.9 3609.2L1864.7 3610.9L1866.5 3612.2L1868.4 3613.1L1870.8 3613.9L1873.8 3614.6L1878.1 3615.2L1883.6 3615.5L1889.7 3615.5L1895.2 3615.1L1898.8 3614.6L1901.9 3613.9L1904.3 3613.0L1906.1 3612.1L1908.0 3610.8L1909.8 3609.0L1911.0 3607.4L1912.2 3605.5L1913.5 3603.1L1915.3 3598.7L1917.1 3594.0L1917.7 3592.7L1918.3 3591.7L1918.9 3591.2L1919.6 3591.0L1920.2 3591.3L1920.8 3592.1L1921.4 3593.2L1923.2 3597.7L1925.0 3602.2L1926.3 3604.8L1927.5 3606.8L1928.7 3608.5L1929.9 3609.9L1931.7 3611.4L1933.6 3612.5L1936.0 3613.5L1939.1 3614.3L1942.7 3614.8L1947.6 3615.2L1953.1 3615.2L1958.6 3614.9L1962.8 3614.4L1966.5 3613.6L1969.5 3612.7L1972.0 3611.6L1973.8 3610.5L1975.6 3609.1L1977.5 3607.2L1978.7 3605.5L1979.9 3603.5L1981.1 3601.0L1982.3 3597.8L1983.6 3593.8L1984.8 3588.9L1986.6 3579.5L1989.0 3565.4L1989.7 3562.4L1990.3 3560.2L1990.9 3558.8L1991.5 3558.5L1992.1 3559.3L1992.7 3561.0L1993.3 3563.6L1994.5 3570.2L1997.0 3584.3L1998.2 3590.1L1999.4 3594.8L2000.6 3598.6L2001.8 3601.7L2003.1 3604.1L2004.3 3606.1L2006.1 3608.4L2007.9 3610.1L2009.8 3611.4L2012.2 3612.7L2015.3 3613.8L2018.9 3614.8L2023.8 3615.6L2030.5 3616.3L2040.9 3616.9L2057.9 3617.4L2092.1 3617.7L2096.9 3617.7"/>
<path class="cv" stroke="#0000ff" d="M85.9 3897.9L99.3 3897.6L105.4 3897.3L109.1 3896.8L112.2 3896.0L117.0 3894.2L118.2 3894.0L119.5 3894.1L121.3 3894.6L125.0 3895.9L128.0 3896.6L131.7 3897.1L137.1 3897.4L143.8 3897.3L148.7 3897.0L151.8 3896.5L154.8 3895.7L157.9 3894.7L159.1 3894.5L160.3 3894.5L162.1 3894.9L166.4 3896.3L169.4 3896.9L173.7 3897.3L181.6 3897.7L198.7 3897.8L213.9 3897.5L221.3 3897.2L225.5 3896.7L228.6 3896.1L231.0 3895.3L233.5 3894.1L236.5 3892.4L237.7 3892.0L238.3 3892.0L239.5 3892.2L241.4 3893.1L244.4 3894.8L246.9 3895.7L249.9 3896.4L254.2 3896.9L260.3 3897.2L268.8 3897.1L275.5 3896.7L279.8 3896.2L282.8 3895.6L285.3 3894.8L287.1 3894.0L288.9 3892.7L290.7 3891.1L292.6 3888.9L295.0 3885.8L295.6 3885.2L296.2 3884.7L296.8 3884.5L297.5 3884.5L298.1 3884.8L298.7 3885.3L299.9 3886.6L302.9 3890.6L304.8 3892.4L306.6 3893.7L308.4 3894.6L310.9 3895.5L313.9 3896.2L318.2 3896.7L325.5 3897.2L338.9 3897.5L365.7 3897.6L389.5 3897.3L401.7 3896.9L409.0 3896.3L413.3 3895.7L416.3 3895.0L418.8 3894.1L420.6 3893.2L422.4 3891.9L424.8 3889.7L426.7 3887.9L427.3 3887.5L427.9 3887.2L428.5 3887.0L429.1 3887.0L429.7 3887.2L430.9 3887.9L434.0 3890.4L435.8 3891.5L437.7 3892.3L439.5 3892.7L441.9 3892.9L444.4 3892.7L446.8 3892.3L449.2 3891.5L451.1 3890.6L452.9 3889.5L454.7 3887.9L456.5 3885.8L457.8 3884.1L459.0 3881.9L460.2 3879.1L461.4 3875.7L462.6 3871.4L463.9 3866.1L465.1 3859.5L466.9 3847.1L468.7 3833.8L469.3 3830.1L470.0 3827.1L470.6 3825.2L471.2 3824.5L471.8 3825.2L472.4 3827.1L473.0 3830.1L474.2 3838.2L476.7 3855.7L477.9 3863.1L479.1 3869.1L480.3 3873.9L481.5 3877.8L482.8 3880.8L484.0 3883.3L485.2 3885.3L487.0 3887.7L488.9 3889.5L490.7 3890.8L493.1 3892.2L496.2 3893.4L499.8 3894.5L504.7 3895.4L511.4 3896.1L521.2 3896.7L536.4 3897.2L564.4 3897.5L613.8 3897.6L650.4 3897.3L669.3 3896.9L680.3 3896.3L687.6 3895.6L692.4 3894.9L696.1 3894.1L699.1 3893.2L701.6 3892.1L703.4 3891.1L705.2 3889.7L707.1 3888.0L708.9 3885.7L710.1 3883.7L711.3 3881.2L712.6 3878.1L713.8 3874.2L715.0 3869.4L716.2 3863.5L718.0 3852.5L719.9 3841.0L720.5 3837.8L721.1 3835.3L721.7 3833.9L722.3 3833.5L722.9 3834.3L723.5 3836.2L724.1 3839.0L725.4 3846.2L727.8 3861.4L729.0 3867.7L730.2 3872.8L731.5 3877.0L732.7 3880.3L733.9 3882.9L735.1 3885.0L736.3 3886.7L738.2 3888.7L740.0 3890.3L741.8 3891.4L744.3 3892.6L747.3 3893.6L751.0 3894.5L755.8 3895.2L762.5 3895.8L772.3 3896.2L785.1 3896.4L795.5 3896.1L802.2 3895.7L806.4 3895.1L809.5 3894.4L811.9 3893.5L815.0 3891.8L816.8 3890.9L818.0 3890.5L819.2 3890.5L821.1 3890.9L823.5 3891.6L825.3 3891.9L827.2 3891.9L829.0 3891.5L830.8 3890.6L832.0 3889.8L833.2 3888.8L834.5 3887.4L836.3 3884.8L838.7 3880.7L839.3 3879.8L840.0 3879.1L840.6 3878.7L841.2 3878.5L841.8 3878.7L842.4 3879.1L843.0 3879.8L844.2 3881.7L846.7 3885.7L848.5 3888.2L850.3 3890.0L852.1 3891.2L854.0 3892.1L856.4 3892.8L859.5 3893.4L863.7 3893.7L868.6 3893.6L874.1 3893.3L879.6 3892.5L884.5 3891.5L888.1 3890.5L891.8 3889.1L894.8 3887.5L897.3 3885.9L899.7 3883.9L901.5 3882.0L903.3 3879.7L905.2 3876.8L907.0 3873.2L908.8 3868.5L910.1 3864.7L911.3 3860.0L912.5 3854.4L913.7 3847.5L914.9 3838.9L916.1 3828.3L917.4 3814.8L918.6 3797.8L919.8 3776.4L921.0 3749.8L922.9 3701.1L924.7 3651.4L925.3 3638.9L925.9 3630.3L926.5 3626.6L927.1 3628.2L927.7 3634.9L928.3 3645.9L929.6 3676.7L932.0 3743.8L933.2 3771.3L934.4 3793.7L935.7 3811.5L936.9 3825.5L938.1 3836.7L939.3 3845.6L940.5 3852.8L941.7 3858.6L943.0 3863.4L944.2 3867.4L945.4 3870.7L947.2 3874.7L949.1 3877.8L950.9 3880.3L952.7 3882.3L954.5 3884.0L957.0 3885.7L959.4 3887.0L962.5 3888.3L965.5 3889.1L969.2 3889.8L972.8 3890.1L975.9 3890.0L978.3 3889.7L980.8 3889.1L982.6 3888.4L984.4 3887.3L986.2 3885.7L988.1 3883.6L991.7 3878.1L992.3 3877.4L993.0 3876.8L993.6 3876.5L994.2 3876.5L994.8 3876.7L995.4 3877.0L996.6 3878.2L998.4 3880.2L999.7 3881.2L1000.9 3881.9L1002.1 3882.3L1003.3 3882.2L1004.5 3881.8L1005.8 3881.0L1007.0 3879.8L1008.2 3878.2L1009.4 3875.9L1010.6 3873.0L1011.8 3869.3L1013.1 3864.6L1014.9 3855.9L1016.7 3846.4L1017.3 3843.7L1017.9 3841.5L1018.6 3840.1L1019.2 3839.5L1019.8 3839.8L1020.4 3841.0L1021.0 3843.0L1022.2 3848.3L1024.6 3859.6L1025.9 3864.2L1027.1 3867.7L1028.3 3870.3L1028.9 3871.3L1029.5 3872.1L1030.1 3872.8L1030.7 3873.2L1031.4 3873.5L1032.0 3873.7L1032.6 3873.7L1033.2 3873.5L1033.8 3873.3L1034.4 3872.8L1035.0 3872.3L1036.2 3870.7L1037.4 3868.4L1038.7 3865.3L1039.9 3861.2L1041.1 3855.8L1042.3 3848.9L1043.5 3840.1L1044.8 3829.2L1046.6 3808.9L1048.4 3787.6L1049.0 3781.9L1049.6 3777.7L1050.2 3775.4L1050.9 3775.2L1051.5 3777.2L1052.1 3781.2L1052.7 3786.8L1056.3 3829.4L1057.6 3840.9L1058.8 3850.3L1060.0 3857.8L1061.2 3863.8L1062.4 3868.6L1063.7 3872.4L1064.9 3875.5L1066.1 3878.0L1067.3 3880.1L1069.1 3882.5L1071.0 3884.4L1072.8 3885.8L1074.6 3886.9L1076.5 3887.7L1078.9 3888.4L1081.3 3888.7L1083.2 3888.7L1085.0 3888.4L1086.8 3887.9L1088.6 3886.9L1089.9 3886.0L1091.1 3884.9L1092.3 3883.3L1093.5 3881.4L1094.7 3878.9L1096.6 3874.4L1098.4 3869.6L1099.0 3868.2L1099.6 3867.2L1100.2 3866.6L1100.8 3866.5L1101.5 3866.9L1102.1 3867.7L1102.7 3868.9L1104.5 3873.7L1106.3 3878.5L1107.5 3881.2L1108.8 3883.4L1110.0 3885.2L1111.2 3886.5L1113.0 3888.0L1114.9 3889.1L1116.7 3889.8L1119.1 3890.3L1121.6 3890.5L1124.0 3890.3L1126.4 3889.9L1128.9 3889.0L1130.7 3888.1L1132.5 3886.8L1134.4 3885.1L1135.6 3883.5L1136.8 3881.7L1138.0 3879.3L1139.2 3876.4L1140.5 3872.7L1141.7 3868.1L1142.9 3862.3L1144.1 3855.2L1147.2 3833.6L1147.8 3829.7L1148.4 3826.6L1149.0 3824.4L1149.6 3823.5L1150.2 3823.9L1150.8 3825.6L1151.4 3828.4L1152.7 3836.3L1155.1 3853.9L1156.3 3861.4L1157.5 3867.5L1158.7 3872.4L1160.0 3876.4L1161.2 3879.5L1162.4 3882.1L1163.6 3884.1L1165.5 3886.6L1167.3 3888.4L1169.1 3889.8L1171.5 3891.2L1174.6 3892.5L1178.3 3893.5L1182.5 3894.4L1188.6 3895.2L1197.1 3895.8L1210.0 3896.3L1230.7 3896.7L1262.4 3896.7L1293.5 3896.4L1315.4 3895.9L1330.6 3895.2L1341.6 3894.4L1349.5 3893.4L1355.0 3892.5L1359.3 3891.4L1362.3 3890.4L1364.8 3889.3L1367.2 3887.9L1369.0 3886.4L1370.9 3884.5L1372.7 3882.0L1374.5 3878.8L1378.2 3870.9L1378.8 3869.8L1379.4 3869.1L1380.0 3868.6L1380.6 3868.5L1381.2 3868.6L1381.8 3869.0L1383.1 3870.3L1384.9 3872.5L1386.1 3873.6L1387.3 3874.2L1387.9 3874.4L1388.5 3874.5L1389.8 3874.3L1391.0 3873.7L1392.2 3872.8L1393.4 3871.6L1394.6 3869.9L1395.9 3868.0L1397.1 3865.5L1398.3 3862.7L1399.5 3859.2L1400.7 3855.1L1402.0 3850.2L1403.2 3844.3L1404.4 3837.1L1405.6 3828.4L1406.8 3817.8L1408.1 3804.5L1409.3 3787.8L1410.5 3766.8L1411.7 3739.9L1412.9 3705.6L1414.1 3662.0L1415.4 3607.8L1418.4 3446.8L1419.0 3421.7L1419.6 3404.5L1420.2 3397.0L1420.9 3400.3L1421.5 3413.8L1422.1 3436.1L1423.3 3496.9L1425.1 3595.9L1426.3 3652.2L1427.6 3698.0L1428.8 3734.1L1430.0 3762.3L1431.2 3784.5L1432.4 3802.0L1433.7 3815.9L1434.9 3827.2L1436.1 3836.4L1437.3 3843.9L1438.5 3850.2L1439.8 3855.4L1441.6 3861.8L1443.4 3866.9L1445.2 3870.9L1447.1 3874.3L1448.9 3877.0L1450.7 3879.3L1453.2 3881.7L1455.6 3883.7L1458.6 3885.7L1461.7 3887.3L1465.4 3888.8L1469.6 3890.1L1474.5 3891.2L1480.6 3892.3L1488.5 3893.2L1498.3 3893.9L1510.5 3894.4L1525.1 3894.5L1539.7 3894.3L1551.9 3893.7L1562.3 3892.9L1570.2 3891.9L1576.9 3890.8L1582.4 3889.5L1587.3 3888.0L1590.9 3886.6L1594.6 3884.8L1597.6 3882.9L1600.1 3881.1L1602.5 3878.9L1604.9 3876.2L1606.8 3873.7L1608.6 3870.9L1610.4 3867.5L1612.3 3863.4L1614.1 3858.4L1615.9 3852.3L1617.7 3844.6L1619.0 3838.4L1620.2 3831.1L1621.4 3822.3L1622.6 3811.8L1623.8 3799.0L1625.1 3783.2L1626.3 3763.6L1627.5 3738.9L1628.7 3707.5L1629.9 3666.9L1631.1 3614.2L1632.4 3545.6L1633.6 3457.3L1635.4 3287.7L1636.6 3165.8L1637.2 3113.0L1637.9 3072.7L1638.5 3049.9L1639.1 3047.7L1639.7 3066.6L1640.3 3103.8L1641.5 3213.3L1643.3 3394.2L1644.6 3495.1L1645.8 3575.1L1647.0 3636.9L1648.2 3684.3L1649.4 3720.8L1650.7 3749.3L1651.9 3771.8L1653.1 3789.7L1654.3 3804.1L1655.5 3816.0L1656.8 3825.7L1658.0 3833.8L1659.2 3840.7L1661.0 3849.0L1662.8 3855.6L1664.7 3861.0L1666.5 3865.3L1668.3 3868.9L1670.2 3871.8L1672.0 3874.3L1673.8 3876.4L1676.3 3878.6L1678.7 3880.4L1681.1 3881.7L1683.6 3882.7L1686.0 3883.3L1687.8 3883.5L1689.7 3883.5L1691.5 3883.2L1693.3 3882.4L1694.5 3881.7L1695.8 3880.7L1697.0 3879.3L1698.2 3877.5L1699.4 3875.2L1700.6 3872.1L1701.9 3868.4L1703.7 3861.4L1705.5 3854.1L1706.1 3852.2L1706.7 3850.8L1707.3 3850.1L1708.0 3850.1L1708.6 3850.9L1709.2 3852.3L1709.8 3854.3L1713.4 3869.7L1714.7 3874.0L1715.9 3877.4L1717.1 3880.3L1718.3 3882.5L1719.5 3884.4L1721.4 3886.5L1723.2 3888.1L1725.0 3889.4L1727.5 3890.6L1730.5 3891.8L1734.2 3892.8L1739.0 3893.7L1745.7 3894.5L1755.5 3895.3L1770.1 3895.9L1790.9 3896.4L1812.2 3896.6L1825.0 3896.4L1832.3 3896.0L1837.2 3895.4L1840.2 3894.7L1842.7 3893.9L1844.5 3893.1L1846.3 3891.8L1848.1 3890.1L1850.0 3887.9L1853.0 3883.4L1853.6 3882.7L1854.2 3882.3L1854.9 3882.0L1855.5 3882.0L1856.1 3882.3L1856.7 3882.9L1857.9 3884.4L1860.3 3888.0L1862.2 3890.3L1864.0 3891.9L1865.8 3893.1L1867.7 3894.0L1870.1 3894.8L1873.1 3895.4L1878.0 3895.9L1884.7 3896.3L1893.3 3896.3L1900.6 3895.9L1905.4 3895.4L1909.1 3894.8L1911.5 3894.1L1914.0 3893.0L1915.8 3891.9L1917.6 3890.4L1918.9 3889.0L1920.1 3887.3L1921.9 3884.1L1924.3 3879.3L1925.0 3878.3L1925.6 3877.6L1926.2 3877.1L1926.8 3877.0L1927.4 3877.2L1928.0 3877.8L1928.6 3878.7L1930.4 3882.1L1932.3 3885.6L1934.1 3888.4L1935.3 3889.8L1937.1 3891.4L1939.0 3892.6L1940.8 3893.4L1943.2 3894.1L1946.3 3894.7L1950.6 3895.1L1955.4 3895.2L1960.9 3894.9L1965.2 3894.4L1968.8 3893.6L1971.9 3892.7L1974.3 3891.6L1976.2 3890.5L1978.0 3889.0L1979.8 3887.1L1981.0 3885.4L1982.2 3883.3L1983.5 3880.7L1984.7 3877.5L1985.9 3873.5L1987.1 3868.4L1989.0 3858.9L1991.4 3844.5L1992.0 3841.5L1992.6 3839.2L1993.2 3837.8L1993.8 3837.5L1994.4 3838.3L1995.1 3840.1L1995.7 3842.6L1996.9 3849.4L1999.3 3863.7L2000.5 3869.6L2001.8 3874.5L2003.0 3878.4L2004.2 3881.5L2005.4 3883.9L2006.6 3885.9L2008.5 3888.3L2010.3 3890.0L2012.1 3891.3L2014.6 3892.6L2017.6 3893.8L2021.3 3894.8L2026.1 3895.6L2032.8 3896.3L2043.2 3896.9L2060.3 3897.4L2094.4 3897.7L2096.2 3897.7"/>
<path class="cv" stroke="#0000ff" d="M86.6 3897.9L100.0 3897.6L106.1 3897.3L109.8 3896.8L112.9 3896.0L117.7 3894.2L118.9 3894.0L120.2 3894.1L122.0 3894.6L125.7 3895.9L128.7 3896.6L132.4 3897.1L137.8 3897.4L144.5 3897.3L149.4 3897.0L152.5 3896.5L155.5 3895.7L158.6 3894.7L159.8 3894.5L161.0 3894.5L162.8 3894.9L167.1 3896.3L170.1 3896.9L174.4 3897.3L182.3 3897.7L199.4 3897.8L214.6 3897.5L222.0 3897.2L226.2 3896.7L229.3 3896.1L231.7 3895.3L234.2 3894.1L237.2 3892.4L238.4 3892.0L239.0 3892.0L240.2 3892.2L242.1 3893.1L245.1 3894.8L247.6 3895.7L250.6 3896.4L254.9 3896.9L261.0 3897.2L269.5 3897.1L276.2 3896.7L280.5 3896.2L283.5 3895.6L286.0 3894.8L287.8 3894.0L289.6 3892.7L291.4 3891.1L293.3 3888.9L295.7 3885.8L296.3 3885.2L296.9 3884.7L297.5 3884.5L298.2 3884.5L298.8 3884.8L299.4 3885.3L300.6 3886.6L303.6 3890.6L305.5 3892.4L307.3 3893.7L309.1 3894.6L311.6 3895.5L314.6 3896.2L318.9 3896.7L326.2 3897.2L339.6 3897.5L366.4 3897.6L390.2 3897.3L402.4 3896.9L409.7 3896.3L414.0 3895.7L417.0 3895.0L419.5 3894.1L421.3 3893.2L423.1 3891.9L425.5 3889.7L427.4 3887.9L428.0 3887.5L428.6 3887.2L429.2 3887.0L429.8 3887.0L430.4 3887.2L431.6 3887.9L434.7 3890.4L436.5 3891.5L438.4 3892.3L440.2 3892.7L442.6 3892.9L445.1 3892.7L447.5 3892.3L449.9 3891.5L451.8 3890.6L453.6 3889.5L455.4 3887.9L457.2 3885.8L458.5 3884.1L459.7 3881.9L460.9 3879.1L462.1 3875.7L463.3 3871.4L464.6 3866.1L465.8 3859.5L467.6 3847.1L469.4 3833.8L470.0 3830.1L470.7 3827.1L471.3 3825.2L471.9 3824.5L472.5 3825.2L473.1 3827.1L473.7 3830.1L474.9 3838.2L477.4 3855.7L478.6 3863.1L479.8 3869.1L481.0 3873.9L482.2 3877.8L483.5 3880.8L484.7 3883.3L485.9 3885.3L487.7 3887.7L489.6 3889.5L491.4 3890.8L493.8 3892.2L496.9 3893.4L500.5 3894.5L505.4 3895.4L512.1 3896.1L521.9 3896.7L537.1 3897.2L565.1 3897.5L614.5 3897.6L651.1 3897.3L670.0 3896.9L681.0 3896.3L688.3 3895.6L693.1 3894.9L696.8 3894.1L699.8 3893.2L702.3 3892.1L704.1 3891.1L705.9 3889.7L707.8 3888.0L709.6 3885.7L710.8 3883.7L712.0 3881.2L713.3 3878.1L714.5 3874.2L715.7 3869.4L716.9 3863.5L718.7 3852.5L720.6 3841.0L721.2 3837.8L721.8 3835.3L722.4 3833.9L723.0 3833.5L723.6 3834.3L724.2 3836.2L724.8 3839.0L726.1 3846.2L728.5 3861.4L729.7 3867.7L730.9 3872.8L732.2 3877.0L733.4 3880.3L734.6 3882.9L735.8 3885.0L737.0 3886.7L738.9 3888.7L740.7 3890.3L742.5 3891.4L745.0 3892.6L748.0 3893.6L751.7 3894.5L756.5 3895.2L763.2 3895.8L773.0 3896.2L785.8 3896.4L796.2 3896.1L802.9 3895.7L807.1 3895.1L810.2 3894.4L812.6 3893.5L815.7 3891.8L817.5 3890.9L818.7 3890.5L819.9 3890.5L821.8 3890.9L824.2 3891.6L826.0 3891.9L827.9 3891.9L829.7 3891.5L831.5 3890.6L832.7 3889.8L833.9 3888.8L835.2 3887.4L837.0 3884.8L839.4 3880.7L840.0 3879.8L840.7 3879.1L841.3 3878.7L841.9 3878.5L842.5 3878.7L843.1 3879.1L843.7 3879.8L844.9 3881.7L847.4 3885.7L849.2 3888.2L851.0 3890.0L852.8 3891.2L854.7 3892.1L857.1 3892.8L860.2 3893.4L864.4 3893.7L869.3 3893.6L874.8 3893.3L880.3 3892.5L885.2 3891.5L888.8 3890.5L892.5 3889.1L895.5 3887.5L898.0 3885.9L900.4 3883.9L902.2 3882.0L904.0 3879.7L905.9 3876.8L907.7 3873.2L909.5 3868.5L910.8 3864.7L912.0 3860.0L913.2 3854.4L914.4 3847.5L915.6 3838.9L916.8 3828.3L918.1 3814.8L919.3 3797.8L920.5 3776.4L921.7 3749.8L923.6 3701.1L925.4 3651.4L926.0 3638.9L926.6 3630.3L927.2 3626.6L927.8 3628.2L928.4 3634.9L929.0 3645.9L930.3 3676.7L932.7 3743.8L933.9 3771.3L935.1 3793.7L936.4 3811.5L937.6 3825.5L938.8 3836.7L940.0 3845.6L941.2 3852.8L942.4 3858.6L943.7 3863.4L944.9 3867.4L946.1 3870.7L947.9 3874.7L949.8 3877.8L951.6 3880.3L953.4 3882.3L955.2 3884.0L957.7 3885.7L960.1 3887.0L963.2 3888.3L966.2 3889.1L969.9 3889.8L973.5 3890.1L976.6 3890.0L979.0 3889.7L981.5 3889.1L983.3 3888.4L985.1 3887.3L986.9 3885.7L988.8 3883.6L992.4 3878.1L993.0 3877.4L993.7 3876.8L994.3 3876.5L994.9 3876.5L995.5 3876.7L996.1 3877.0L997.3 3878.2L999.1 3880.2L1000.4 3881.2L1001.6 3881.9L1002.8 3882.3L1004.0 3882.2L1005.2 3881.8L1006.5 3881.0L1007.7 3879.8L1008.9 3878.2L1010.1 3875.9L1011.3 3873.0L1012.5 3869.3L1013.8 3864.6L1015.6 3855.9L1017.4 3846.4L1018.0 3843.7L1018.6 3841.5L1019.3 3840.1L1019.9 3839.5L1020.5 3839.8L1021.1 3841.0L1021.7 3843.0L1022.9 3848.3L1025.3 3859.6L1026.6 3864.2L1027.8 3867.7L1029.0 3870.3L1029.6 3871.3L1030.2 3872.1L1030.8 3872.8L1031.4 3873.2L1032.1 3873.5L1032.7 3873.7L1033.3 3873.7L1033.9 3873.5L1034.5 3873.3L1035.1 3872.8L1035.7 3872.3L1036.9 3870.7L1038.1 3868.4L1039.4 3865.3L1040.6 3861.2L1041.8 3855.8L1043.0 3848.9L1044.2 3840.1L1045.5 3829.2L1047.3 3808.9L1049.1 3787.6L1049.7 3781.9L1050.3 3777.7L1050.9 3775.4L1051.6 3775.2L1052.2 3777.2L1052.8 3781.2L1053.4 3786.8L1057.0 3829.4L1058.3 3840.9L1059.5 3850.3L1060.7 3857.8L1061.9 3863.8L1063.1 3868.6L1064.4 3872.4L1065.6 3875.5L1066.8 3878.0L1068.0 3880.1L1069.8 3882.5L1071.7 3884.4L1073.5 3885.8L1075.3 3886.9L1077.2 3887.7L1079.6 3888.4L1082.0 3888.7L1083.9 3888.7L1085.7 3888.4L1087.5 3887.9L1089.3 3886.9L1090.6 3886.0L1091.8 3884.9L1093.0 3883.3L1094.2 3881.4L1095.4 3878.9L1097.3 3874.4L1099.1 3869.6L1099.7 3868.2L1100.3 3867.2L1100.9 3866.6L1101.5 3866.5L1102.2 3866.9L1102.8 3867.7L1103.4 3868.9L1105.2 3873.7L1107.0 3878.5L1108.2 3881.2L1109.5 3883.4L1110.7 3885.2L1111.9 3886.5L1113.7 3888.0L1115.6 3889.1L1117.4 3889.8L1119.8 3890.3L1122.3 3890.5L1124.7 3890.3L1127.1 3889.9L1129.6 3889.0L1131.4 3888.1L1133.2 3886.8L1135.1 3885.1L1136.3 3883.5L1137.5 3881.7L1138.7 3879.3L1139.9 3876.4L1141.2 3872.7L1142.4 3868.1L1143.6 3862.3L1144.8 3855.2L1147.9 3833.6L1148.5 3829.7L1149.1 3826.6L1149.7 3824.4L1150.3 3823.5L1150.9 3823.9L1151.5 3825.6L1152.1 3828.4L1153.4 3836.3L1155.8 3853.9L1157.0 3861.4L1158.2 3867.5L1159.4 3872.4L1160.7 3876.4L1161.9 3879.5L1163.1 3882.1L1164.3 3884.1L1166.2 3886.6L1168.0 3888.4L1169.8 3889.8L1172.2 3891.2L1175.3 3892.5L1179.0 3893.5L1183.2 3894.4L1189.3 3895.2L1197.8 3895.8L1210.7 3896.3L1231.4 3896.7L1263.1 3896.7L1294.2 3896.4L1316.1 3895.9L1331.3 3895.2L1342.3 3894.4L1350.2 3893.4L1355.7 3892.5L1360.0 3891.4L1363.0 3890.4L1365.5 3889.3L1367.9 3887.9L1369.7 3886.4L1371.6 3884.5L1373.4 3882.0L1375.2 3878.8L1378.9 3870.9L1379.5 3869.8L1380.1 3869.1L1380.7 3868.6L1381.3 3868.5L1381.9 3868.6L1382.5 3869.0L1383.8 3870.3L1385.6 3872.5L1386.8 3873.6L1388.0 3874.2L1388.6 3874.4L1389.2 3874.5L1390.5 3874.3L1391.7 3873.7L1392.9 3872.8L1394.1 3871.6L1395.3 3869.9L1396.6 3868.0L1397.8 3865.5L1399.0 3862.7L1400.2 3859.2L1401.4 3855.1L1402.7 3850.2L1403.9 3844.3L1405.1 3837.1L1406.3 3828.4L1407.5 3817.8L1408.8 3804.5L1410.0 3787.8L1411.2 3766.8L1412.4 3739.9L1413.6 3705.6L1414.8 3662.0L1416.1 3607.8L1419.1 3446.8L1419.7 3421.7L1420.3 3404.5L1420.9 3397.0L1421.6 3400.3L1422.2 3413.8L1422.8 3436.1L1424.0 3496.9L1425.8 3595.9L1427.0 3652.2L1428.3 3698.0L1429.5 3734.1L1430.7 3762.3L1431.9 3784.5L1433.1 3802.0L1434.4 3815.9L1435.6 3827.2L1436.8 3836.4L1438.0 3843.9L1439.2 3850.2L1440.5 3855.4L1442.3 3861.8L1444.1 3866.9L1445.9 3870.9L1447.8 3874.3L1449.6 3877.0L1451.4 3879.3L1453.9 3881.7L1456.3 3883.7L1459.3 3885.7L1462.4 3887.3L1466.1 3888.8L1470.3 3890.1L1475.2 3891.2L1481.3 3892.3L1489.2 3893.2L1499.0 3893.9L1511.2 3894.4L1525.8 3894.5L1540.4 3894.3L1552.6 3893.7L1563.0 3892.9L1570.9 3891.9L1577.6 3890.8L1583.1 3889.5L1588.0 3888.0L1591.6 3886.6L1595.3 3884.8L1598.3 3882.9L1600.8 3881.1L1603.2 3878.9L1605.6 3876.2L1607.5 3873.7L1609.3 3870.9L1611.1 3867.5L1613.0 3863.4L1614.8 3858.4L1616.6 3852.3L1618.4 3844.6L1619.7 3838.4L1620.9 3831.1L1622.1 3822.3L1623.3 3811.8L1624.5 3799.0L1625.8 3783.2L1627.0 3763.6L1628.2 3738.9L1629.4 3707.5L1630.6 3666.9L1631.8 3614.2L1633.1 3545.6L1634.3 3457.3L1636.1 3287.7L1637.3 3165.8L1637.9 3113.0L1638.6 3072.7L1639.2 3049.9L1639.8 3047.7L1640.4 3066.6L1641.0 3103.8L1642.2 3213.3L1644.0 3394.2L1645.3 3495.1L1646.5 3575.1L1647.7 3636.9L1648.9 3684.3L1650.1 3720.8L1651.4 3749.3L1652.6 3771.8L1653.8 3789.7L1655.0 3804.1L1656.2 3816.0L1657.5 3825.7L1658.7 3833.8L1659.9 3840.7L1661.7 3849.0L1663.5 3855.6L1665.4 3861.0L1667.2 3865.3L1669.0 3868.9L1670.9 3871.8L1672.7 3874.3L1674.5 3876.4L1677.0 3878.6L1679.4 3880.4L1681.8 3881.7L1684.3 3882.7L1686.7 3883.3L1688.5 3883.5L1690.4 3883.5L1692.2 3883.2L1694.0 3882.4L1695.2 3881.7L1696.5 3880.7L1697.7 3879.3L1698.9 3877.5L1700.1 3875.2L1701.3 3872.1L1702.6 3868.4L1704.4 3861.4L1706.2 3854.1L1706.8 3852.2L1707.4 3850.8L1708.0 3850.1L1708.7 3850.1L1709.3 3850.9L1709.9 3852.3L1710.5 3854.3L1714.1 3869.7L1715.4 3874.0L1716.6 3877.4L1717.8 3880.3L1719.0 3882.5L1720.2 3884.4L1722.1 3886.5L1723.9 3888.1L1725.7 3889.4L1728.2 3890.6L1731.2 3891.8L1734.9 3892.8L1739.7 3893.7L1746.4 3894.5L1756.2 3895.3L1770.8 3895.9L1791.6 3896.4L1812.9 3896.6L1825.7 3896.4L1833.0 3896.0L1837.9 3895.4L1840.9 3894.7L1843.4 3893.9L1845.2 3893.1L1847.0 3891.8L1848.8 3890.1L1850.7 3887.9L1853.7 3883.4L1854.3 3882.7L1854.9 3882.3L1855.6 3882.0L1856.2 3882.0L1856.8 3882.3L1857.4 3882.9L1858.6 3884.4L1861.0 3888.0L1862.9 3890.3L1864.7 3891.9L1866.5 3893.1L1868.4 3894.0L1870.8 3894.8L1873.8 3895.4L1878.7 3895.9L1885.4 3896.3L1894.0 3896.3L1901.3 3895.9L1906.1 3895.4L1909.8 3894.8L1912.2 3894.1L1914.7 3893.0L1916.5 3891.9L1918.3 3890.4L1919.6 3889.0L1920.8 3887.3L1922.6 3884.1L1925.0 3879.3L1925.7 3878.3L1926.3 3877.6L1926.9 3877.1L1927.5 3877.0L1928.1 3877.2L1928.7 3877.8L1929.3 3878.7L1931.1 3882.1L1933.0 3885.6L1934.8 3888.4L1936.0 3889.8L1937.8 3891.4L1939.7 3892.6L1941.5 3893.4L1943.9 3894.1L1947.0 3894.7L1951.3 3895.1L1956.1 3895.2L1961.6 3894.9L1965.9 3894.4L1969.5 3893.6L1972.6 3892.7L1975.0 3891.6L1976.9 3890.5L1978.7 3889.0L1980.5 3887.1L1981.7 3885.4L1982.9 3883.3L1984.2 3880.7L1985.4 3877.5L1986.6 3873.5L1987.8 3868.4L1989.7 3858.9L1992.1 3844.5L1992.7 3841.5L1993.3 3839.2L1993.9 3837.8L1994.5 3837.5L1995.1 3838.3L1995.8 3840.1L1996.4 3842.6L1997.6 3849.4L2000.0 3863.7L2001.2 3869.6L2002.5 3874.5L2003.7 3878.4L2004.9 3881.5L2006.1 3883.9L2007.3 3885.9L2009.2 3888.3L2011.0 3890.0L2012.8 3891.3L2015.3 3892.6L2018.3 3893.8L2022.0 3894.8L2026.8 3895.6L2033.5 3896.3L2043.9 3896.9L2061.0 3897.4L2095.1 3897.7L2096.9 3897.7"/>
<path class="cv" stroke="#000000" d="M85.9 3339.7L97.5 3339.4L103.6 3338.9L107.3 3338.4L109.7 3337.8L112.2 3336.8L115.2 3335.4L116.4 3335.1L117.6 3335.0L118.9 3335.3L123.7 3337.4L126.2 3338.1L129.2 3338.7L134.1 3339.1L140.8 3339.2L146.3 3339.0L149.9 3338.6L155.4 3337.6L157.3 3337.5L159.1 3337.7L164.0 3338.7L168.2 3339.2L175.5 3339.5L193.2 3339.6L209.7 3339.3L217.6 3339.0L221.9 3338.5L224.9 3337.9L227.4 3337.2L229.8 3336.1L232.8 3334.4L234.1 3334.1L235.3 3334.0L236.5 3334.4L240.8 3336.4L243.2 3337.1L245.6 3337.5L248.1 3337.5L250.5 3337.3L253.0 3336.8L255.4 3335.8L257.8 3334.8L259.1 3334.5L260.3 3334.6L261.5 3334.9L265.8 3336.9L268.2 3337.7L271.2 3338.3L275.5 3338.8L282.8 3339.1L295.0 3339.1L306.0 3338.8L312.7 3338.4L317.0 3337.8L320.0 3337.1L322.4 3336.3L324.3 3335.4L326.1 3334.2L327.9 3332.6L329.8 3330.2L332.2 3326.3L333.4 3324.3L334.0 3323.5L334.6 3322.9L335.2 3322.6L335.9 3322.5L336.5 3322.8L337.1 3323.3L338.3 3325.0L341.3 3330.0L343.2 3332.4L345.0 3334.1L346.8 3335.3L348.7 3336.2L351.1 3337.0L354.1 3337.7L359.0 3338.3L366.3 3338.7L377.3 3338.9L388.3 3338.7L395.0 3338.3L399.2 3337.8L402.3 3337.1L404.7 3336.3L407.2 3335.0L410.2 3333.2L411.4 3332.7L412.7 3332.5L413.9 3332.6L417.5 3333.9L419.4 3334.1L421.2 3334.0L422.4 3333.6L423.6 3333.0L425.5 3331.8L428.5 3329.0L429.1 3328.5L429.7 3328.2L430.3 3328.0L430.9 3328.0L431.6 3328.2L432.2 3328.6L433.4 3329.6L436.4 3332.7L438.3 3334.1L440.1 3335.2L441.9 3335.9L444.4 3336.5L448.0 3337.0L452.9 3337.3L459.0 3337.2L465.1 3336.7L470.0 3335.9L473.6 3335.1L476.7 3334.0L479.1 3332.9L480.9 3331.8L482.8 3330.4L484.6 3328.5L486.4 3326.0L487.6 3323.9L488.9 3321.2L490.1 3317.9L491.3 3313.8L492.5 3308.7L493.7 3302.4L495.6 3290.9L497.4 3278.6L498.0 3275.2L498.6 3272.6L499.2 3271.0L499.8 3270.5L500.4 3271.2L501.0 3273.1L501.7 3275.9L502.9 3283.1L505.3 3298.3L506.5 3304.4L507.7 3309.3L509.0 3313.0L510.2 3315.8L510.8 3316.8L511.4 3317.7L512.0 3318.4L512.6 3318.9L513.2 3319.3L513.8 3319.5L514.5 3319.5L515.1 3319.4L515.7 3319.2L516.3 3318.7L516.9 3318.2L517.5 3317.4L518.1 3316.4L519.3 3313.9L520.5 3310.6L521.8 3306.3L524.2 3296.5L524.8 3294.4L525.4 3292.7L526.0 3291.7L526.6 3291.5L527.3 3292.0L527.9 3293.3L528.5 3295.3L529.7 3300.4L532.1 3311.5L533.3 3316.1L534.6 3319.9L535.8 3323.0L537.0 3325.5L538.2 3327.4L540.1 3329.8L541.9 3331.5L543.7 3332.8L546.2 3334.1L549.2 3335.3L552.9 3336.2L557.7 3337.0L564.4 3337.8L574.2 3338.4L590.0 3338.8L616.2 3339.1L647.3 3339.0L666.8 3338.6L678.4 3338.1L686.3 3337.5L691.8 3336.7L696.1 3335.8L699.1 3334.8L701.6 3333.8L703.4 3332.7L705.2 3331.4L707.1 3329.6L708.9 3327.3L710.1 3325.2L711.3 3322.7L712.6 3319.6L713.8 3315.7L715.0 3310.8L716.2 3304.8L718.0 3293.8L719.9 3282.1L720.5 3278.8L721.1 3276.4L721.7 3274.9L722.3 3274.5L722.9 3275.3L723.5 3277.2L724.1 3280.0L725.4 3287.3L727.8 3302.8L729.0 3309.1L730.2 3314.3L731.5 3318.5L732.7 3321.8L733.9 3324.5L735.1 3326.6L736.3 3328.3L738.2 3330.4L740.0 3331.9L741.8 3333.1L744.3 3334.3L747.3 3335.3L751.0 3336.2L755.8 3336.9L762.5 3337.5L772.3 3338.0L784.5 3338.1L794.2 3337.8L800.3 3337.4L804.6 3336.8L807.6 3336.1L810.1 3335.2L812.5 3333.9L815.6 3332.0L816.8 3331.6L818.0 3331.5L819.2 3331.8L822.3 3332.9L824.1 3333.3L825.9 3333.4L827.8 3333.1L829.6 3332.4L830.8 3331.7L832.0 3330.7L833.2 3329.5L834.5 3327.9L836.3 3324.9L838.1 3321.5L838.7 3320.6L839.3 3319.8L840.0 3319.2L840.6 3319.0L841.2 3319.1L841.8 3319.5L842.4 3320.2L843.6 3322.2L846.0 3326.6L847.9 3329.3L849.1 3330.6L850.9 3332.2L852.8 3333.3L854.6 3334.0L857.0 3334.7L860.1 3335.2L864.3 3335.4L869.8 3335.3L875.3 3334.9L880.8 3334.1L885.7 3333.1L889.3 3331.9L892.4 3330.7L895.4 3329.1L897.9 3327.5L900.3 3325.4L902.1 3323.5L904.0 3321.1L905.8 3318.2L907.6 3314.4L909.4 3309.7L910.7 3305.7L911.9 3300.9L913.1 3295.1L914.3 3288.0L915.5 3279.2L916.8 3268.1L918.0 3254.2L919.2 3236.7L920.4 3214.5L921.6 3187.2L924.7 3102.9L925.3 3087.9L925.9 3075.9L926.5 3068.2L927.1 3065.5L927.7 3068.2L928.3 3075.9L928.9 3087.8L930.2 3119.7L932.6 3187.0L933.8 3214.4L935.0 3236.4L936.3 3254.0L937.5 3267.9L938.7 3278.9L939.9 3287.6L941.1 3294.7L942.4 3300.5L943.6 3305.2L944.8 3309.1L946.0 3312.4L947.8 3316.4L949.7 3319.5L951.5 3322.0L953.3 3324.0L955.2 3325.6L957.6 3327.3L960.0 3328.6L963.1 3329.8L966.1 3330.6L969.2 3331.1L972.2 3331.3L975.3 3331.2L977.7 3330.8L979.5 3330.2L981.4 3329.4L983.2 3328.1L984.4 3327.0L985.6 3325.6L987.5 3322.9L990.5 3317.4L991.1 3316.6L991.7 3315.9L992.3 3315.6L993.0 3315.5L993.6 3315.7L994.2 3316.2L995.4 3317.7L997.8 3321.2L999.0 3322.5L1000.3 3323.5L1001.5 3324.0L1002.7 3324.2L1003.9 3324.1L1005.1 3323.5L1006.4 3322.7L1007.6 3321.4L1008.8 3319.7L1010.0 3317.4L1011.2 3314.4L1012.5 3310.7L1013.7 3305.9L1015.5 3297.2L1017.3 3287.8L1017.9 3285.2L1018.6 3283.2L1019.2 3281.9L1019.8 3281.5L1020.4 3282.0L1021.0 3283.3L1021.6 3285.3L1022.8 3290.6L1024.6 3299.1L1025.9 3303.8L1027.1 3307.6L1028.3 3310.4L1028.9 3311.5L1029.5 3312.3L1030.1 3313.0L1030.7 3313.5L1031.4 3313.8L1032.0 3313.9L1032.6 3313.9L1033.2 3313.8L1033.8 3313.5L1034.4 3313.0L1035.0 3312.3L1035.6 3311.5L1036.8 3309.3L1038.1 3306.3L1039.3 3302.3L1040.5 3296.9L1041.7 3290.1L1042.9 3281.3L1044.2 3270.3L1046.0 3249.8L1047.8 3227.7L1048.4 3221.6L1049.0 3216.9L1049.6 3214.2L1050.2 3213.6L1050.9 3215.2L1051.5 3219.0L1052.1 3224.4L1053.9 3246.2L1055.7 3268.1L1057.0 3280.2L1058.2 3290.0L1059.4 3297.9L1060.6 3304.2L1061.8 3309.2L1063.0 3313.2L1064.3 3316.4L1065.5 3319.1L1066.7 3321.2L1068.5 3323.8L1070.4 3325.8L1072.2 3327.2L1074.0 3328.4L1075.8 3329.2L1078.3 3329.9L1080.7 3330.3L1082.6 3330.3L1084.4 3330.0L1086.2 3329.4L1088.0 3328.5L1089.3 3327.6L1090.5 3326.3L1091.7 3324.8L1092.9 3322.7L1094.7 3318.8L1097.2 3312.7L1097.8 3311.4L1098.4 3310.4L1099.0 3309.7L1099.6 3309.5L1100.2 3309.8L1100.8 3310.5L1101.5 3311.5L1102.7 3314.4L1105.1 3320.7L1106.3 3323.3L1107.5 3325.4L1108.8 3327.1L1110.0 3328.5L1111.8 3329.9L1113.6 3331.0L1115.5 3331.6L1117.9 3332.1L1120.3 3332.3L1122.8 3332.2L1125.2 3331.7L1127.7 3330.9L1129.5 3330.0L1131.3 3328.8L1133.1 3327.2L1134.4 3325.7L1135.6 3324.0L1136.8 3321.8L1138.0 3319.1L1139.2 3315.7L1140.5 3311.4L1141.7 3306.0L1142.9 3299.3L1144.7 3286.8L1146.6 3273.0L1147.2 3268.9L1147.8 3265.7L1148.4 3263.5L1149.0 3262.5L1149.6 3263.0L1150.2 3264.7L1150.8 3267.6L1152.0 3275.8L1154.5 3294.1L1155.7 3301.8L1156.9 3308.2L1158.1 3313.3L1159.4 3317.4L1160.6 3320.7L1161.8 3323.3L1163.0 3325.5L1164.8 3328.0L1166.7 3329.9L1168.5 3331.3L1170.9 3332.8L1173.4 3333.9L1176.4 3334.9L1180.7 3335.8L1186.2 3336.7L1194.1 3337.4L1205.7 3338.0L1224.0 3338.4L1253.2 3338.5L1286.1 3338.3L1311.1 3337.8L1328.2 3337.2L1339.8 3336.4L1348.3 3335.5L1354.4 3334.6L1359.3 3333.5L1362.9 3332.3L1365.4 3331.2L1367.8 3329.8L1369.7 3328.4L1371.5 3326.5L1373.3 3324.1L1375.1 3321.0L1378.2 3315.1L1378.8 3314.1L1379.4 3313.4L1380.0 3313.0L1380.6 3312.8L1381.2 3312.9L1381.8 3313.2L1383.1 3314.2L1384.9 3315.9L1386.1 3316.7L1387.3 3317.2L1388.5 3317.2L1389.8 3316.9L1391.0 3316.2L1392.2 3315.2L1393.4 3313.8L1394.6 3312.2L1396.5 3308.9L1398.3 3304.7L1399.5 3301.3L1400.7 3297.1L1402.0 3292.2L1403.2 3286.3L1404.4 3279.1L1405.6 3270.4L1406.8 3259.7L1408.1 3246.4L1409.3 3229.8L1410.5 3208.7L1411.7 3181.9L1412.9 3147.6L1414.1 3104.0L1415.4 3049.8L1418.4 2889.0L1419.0 2863.9L1419.6 2846.7L1420.2 2839.2L1420.9 2842.5L1421.5 2856.0L1422.1 2878.2L1423.3 2939.0L1425.1 3037.9L1426.3 3094.2L1427.6 3139.9L1428.8 3176.0L1430.0 3204.2L1431.2 3226.4L1432.4 3243.9L1433.7 3257.8L1434.9 3269.1L1436.1 3278.2L1437.3 3285.7L1438.5 3292.0L1439.8 3297.2L1441.6 3303.6L1443.4 3308.7L1445.2 3312.8L1447.1 3316.1L1448.9 3318.8L1450.7 3321.1L1453.2 3323.5L1455.6 3325.5L1458.6 3327.5L1461.7 3329.1L1465.4 3330.6L1469.6 3331.9L1474.5 3333.0L1480.6 3334.1L1488.5 3335.0L1498.3 3335.7L1510.5 3336.1L1524.5 3336.3L1538.5 3336.0L1550.7 3335.5L1561.1 3334.6L1569.0 3333.7L1575.7 3332.5L1581.2 3331.2L1586.0 3329.7L1589.7 3328.3L1593.4 3326.4L1596.4 3324.5L1598.8 3322.7L1601.3 3320.4L1603.7 3317.7L1605.5 3315.2L1607.4 3312.3L1609.2 3308.8L1611.0 3304.6L1612.9 3299.5L1614.7 3293.2L1616.5 3285.4L1617.7 3279.0L1619.0 3271.4L1620.2 3262.3L1621.4 3251.4L1622.6 3238.1L1623.8 3221.7L1625.1 3201.2L1626.3 3175.4L1627.5 3142.5L1628.7 3099.9L1629.9 3044.5L1631.1 2972.5L1632.4 2880.3L1634.2 2706.8L1635.4 2588.1L1636.0 2539.8L1636.6 2506.1L1637.2 2491.4L1637.9 2497.8L1638.5 2524.3L1639.1 2567.3L1642.1 2859.3L1643.3 2955.6L1644.6 3031.4L1645.8 3089.8L1647.0 3134.6L1648.2 3169.3L1649.4 3196.3L1650.7 3217.7L1651.9 3234.8L1653.1 3248.6L1654.3 3260.0L1655.5 3269.3L1656.8 3277.1L1658.0 3283.7L1659.8 3291.8L1661.6 3298.2L1663.5 3303.4L1665.3 3307.6L1667.1 3311.0L1668.9 3313.9L1670.8 3316.3L1672.6 3318.3L1675.0 3320.4L1677.5 3322.1L1679.9 3323.3L1682.4 3324.2L1684.8 3324.7L1686.6 3324.8L1688.4 3324.6L1690.3 3324.1L1691.5 3323.5L1692.7 3322.7L1693.9 3321.6L1695.2 3320.1L1696.4 3318.1L1697.6 3315.6L1698.8 3312.3L1700.0 3308.2L1701.9 3300.5L1703.7 3292.2L1704.3 3289.8L1704.9 3288.0L1705.5 3286.8L1706.1 3286.5L1706.7 3287.0L1707.3 3288.4L1708.0 3290.4L1709.2 3295.8L1711.6 3307.5L1712.8 3312.5L1714.0 3316.5L1715.3 3319.8L1716.5 3322.5L1717.7 3324.6L1718.9 3326.3L1720.8 3328.4L1722.6 3329.9L1724.4 3331.1L1726.8 3332.4L1729.9 3333.5L1733.6 3334.5L1738.4 3335.4L1745.1 3336.2L1754.9 3337.0L1768.3 3337.6L1781.7 3337.8L1790.2 3337.7L1795.1 3337.3L1798.2 3336.8L1800.6 3336.2L1805.5 3334.3L1806.7 3334.0L1807.9 3334.1L1809.1 3334.4L1813.4 3336.1L1815.8 3336.8L1818.9 3337.2L1823.2 3337.5L1828.6 3337.6L1833.5 3337.3L1837.2 3336.8L1840.2 3336.1L1842.7 3335.2L1844.5 3334.3L1846.3 3332.9L1848.1 3331.0L1850.0 3328.5L1853.0 3323.6L1853.6 3322.8L1854.2 3322.3L1854.9 3322.0L1855.5 3322.1L1856.1 3322.4L1856.7 3323.0L1857.9 3324.7L1860.3 3328.7L1862.2 3331.2L1864.0 3333.1L1865.8 3334.4L1867.7 3335.3L1870.1 3336.2L1873.1 3336.9L1877.4 3337.5L1883.5 3337.8L1891.4 3337.9L1898.7 3337.6L1903.6 3337.2L1907.3 3336.5L1910.3 3335.6L1912.8 3334.6L1914.6 3333.4L1916.4 3331.8L1917.6 3330.4L1918.9 3328.6L1920.7 3325.3L1923.1 3320.0L1923.7 3318.9L1924.3 3317.9L1925.0 3317.3L1925.6 3317.0L1926.2 3317.1L1926.8 3317.6L1927.4 3318.4L1928.6 3320.7L1931.0 3325.9L1932.9 3329.1L1934.1 3330.7L1935.3 3332.0L1937.1 3333.4L1939.0 3334.5L1941.4 3335.4L1944.5 3336.2L1948.1 3336.6L1953.0 3336.9L1958.5 3336.7L1963.4 3336.2L1967.0 3335.5L1970.1 3334.7L1972.5 3333.7L1974.3 3332.7L1976.2 3331.4L1978.0 3329.6L1979.2 3328.1L1980.4 3326.3L1981.6 3324.0L1982.9 3321.2L1984.1 3317.7L1985.3 3313.2L1986.5 3307.8L1988.3 3297.6L1990.2 3286.7L1990.8 3283.6L1991.4 3281.1L1992.0 3279.5L1992.6 3279.0L1993.2 3279.6L1993.8 3281.1L1994.4 3283.6L1995.7 3290.2L1998.1 3304.7L1999.3 3310.7L2000.5 3315.7L2001.8 3319.7L2003.0 3322.9L2004.2 3325.4L2005.4 3327.5L2007.2 3329.9L2009.1 3331.6L2010.9 3333.0L2013.3 3334.3L2016.4 3335.5L2020.0 3336.5L2024.9 3337.3L2031.6 3338.1L2041.4 3338.6L2057.8 3339.1L2090.1 3339.5L2096.2 3339.5"/>
<path class="cv" stroke="#000000" d="M86.6 3339.7L98.2 3339.4L104.3 3338.9L108.0 3338.4L110.4 3337.8L112.9 3336.8L115.9 3335.4L117.1 3335.1L118.3 3335.0L119.6 3335.3L124.4 3337.4L126.9 3338.1L129.9 3338.7L134.8 3339.1L141.5 3339.2L147.0 3339.0L150.6 3338.6L156.1 3337.6L158.0 3337.5L159.8 3337.7L164.7 3338.7L168.9 3339.2L176.2 3339.5L193.9 3339.6L210.4 3339.3L218.3 3339.0L222.6 3338.5L225.6 3337.9L228.1 3337.2L230.5 3336.1L233.5 3334.4L234.8 3334.1L236.0 3334.0L237.2 3334.4L241.5 3336.4L243.9 3337.1L246.3 3337.5L248.8 3337.5L251.2 3337.3L253.7 3336.8L256.1 3335.8L258.5 3334.8L259.8 3334.5L261.0 3334.6L262.2 3334.9L266.5 3336.9L268.9 3337.7L271.9 3338.3L276.2 3338.8L283.5 3339.1L295.7 3339.1L306.7 3338.8L313.4 3338.4L317.7 3337.8L320.7 3337.1L323.1 3336.3L325.0 3335.4L326.8 3334.2L328.6 3332.6L330.5 3330.2L332.9 3326.3L334.1 3324.3L334.7 3323.5L335.3 3322.9L335.9 3322.6L336.6 3322.5L337.2 3322.8L337.8 3323.3L339.0 3325.0L342.0 3330.0L343.9 3332.4L345.7 3334.1L347.5 3335.3L349.4 3336.2L351.8 3337.0L354.8 3337.7L359.7 3338.3L367.0 3338.7L378.0 3338.9L389.0 3338.7L395.7 3338.3L399.9 3337.8L403.0 3337.1L405.4 3336.3L407.9 3335.0L410.9 3333.2L412.1 3332.7L413.4 3332.5L414.6 3332.6L418.2 3333.9L420.1 3334.1L421.9 3334.0L423.1 3333.6L424.3 3333.0L426.2 3331.8L429.2 3329.0L429.8 3328.5L430.4 3328.2L431.0 3328.0L431.6 3328.0L432.3 3328.2L432.9 3328.6L434.1 3329.6L437.1 3332.7L439.0 3334.1L440.8 3335.2L442.6 3335.9L445.1 3336.5L448.7 3337.0L453.6 3337.3L459.7 3337.2L465.8 3336.7L470.7 3335.9L474.3 3335.1L477.4 3334.0L479.8 3332.9L481.6 3331.8L483.5 3330.4L485.3 3328.5L487.1 3326.0L488.3 3323.9L489.6 3321.2L490.8 3317.9L492.0 3313.8L493.2 3308.7L494.4 3302.4L496.3 3290.9L498.1 3278.6L498.7 3275.2L499.3 3272.6L499.9 3271.0L500.5 3270.5L501.1 3271.2L501.7 3273.1L502.4 3275.9L503.6 3283.1L506.0 3298.3L507.2 3304.4L508.4 3309.3L509.7 3313.0L510.9 3315.8L511.5 3316.8L512.1 3317.7L512.7 3318.4L513.3 3318.9L513.9 3319.3L514.5 3319.5L515.2 3319.5L515.8 3319.4L516.4 3319.2L517.0 3318.7L517.6 3318.2L518.2 3317.4L518.8 3316.4L520.0 3313.9L521.2 3310.6L522.5 3306.3L524.9 3296.5L525.5 3294.4L526.1 3292.7L526.7 3291.7L527.3 3291.5L528.0 3292.0L528.6 3293.3L529.2 3295.3L530.4 3300.4L532.8 3311.5L534.0 3316.1L535.3 3319.9L536.5 3323.0L537.7 3325.5L538.9 3327.4L540.8 3329.8L542.6 3331.5L544.4 3332.8L546.9 3334.1L549.9 3335.3L553.6 3336.2L558.4 3337.0L565.1 3337.8L574.9 3338.4L590.7 3338.8L616.9 3339.1L648.0 3339.0L667.5 3338.6L679.1 3338.1L687.0 3337.5L692.5 3336.7L696.8 3335.8L699.8 3334.8L702.3 3333.8L704.1 3332.7L705.9 3331.4L707.8 3329.6L709.6 3327.3L710.8 3325.2L712.0 3322.7L713.3 3319.6L714.5 3315.7L715.7 3310.8L716.9 3304.8L718.7 3293.8L720.6 3282.1L721.2 3278.8L721.8 3276.4L722.4 3274.9L723.0 3274.5L723.6 3275.3L724.2 3277.2L724.8 3280.0L726.1 3287.3L728.5 3302.8L729.7 3309.1L730.9 3314.3L732.2 3318.5L733.4 3321.8L734.6 3324.5L735.8 3326.6L737.0 3328.3L738.9 3330.4L740.7 3331.9L742.5 3333.1L745.0 3334.3L748.0 3335.3L751.7 3336.2L756.5 3336.9L763.2 3337.5L773.0 3338.0L785.2 3338.1L794.9 3337.8L801.0 3337.4L805.3 3336.8L808.3 3336.1L810.8 3335.2L813.2 3333.9L816.3 3332.0L817.5 3331.6L818.7 3331.5L819.9 3331.8L823.0 3332.9L824.8 3333.3L826.6 3333.4L828.5 3333.1L830.3 3332.4L831.5 3331.7L832.7 3330.7L833.9 3329.5L835.2 3327.9L837.0 3324.9L838.8 3321.5L839.4 3320.6L840.0 3319.8L840.7 3319.2L841.3 3319.0L841.9 3319.1L842.5 3319.5L843.1 3320.2L844.3 3322.2L846.7 3326.6L848.6 3329.3L849.8 3330.6L851.6 3332.2L853.5 3333.3L855.3 3334.0L857.7 3334.7L860.8 3335.2L865.0 3335.4L870.5 3335.3L876.0 3334.9L881.5 3334.1L886.4 3333.1L890.0 3331.9L893.1 3330.7L896.1 3329.1L898.6 3327.5L901.0 3325.4L902.8 3323.5L904.7 3321.1L906.5 3318.2L908.3 3314.4L910.1 3309.7L911.4 3305.7L912.6 3300.9L913.8 3295.1L915.0 3288.0L916.2 3279.2L917.5 3268.1L918.7 3254.2L919.9 3236.7L921.1 3214.5L922.3 3187.2L925.4 3102.9L926.0 3087.9L926.6 3075.9L927.2 3068.2L927.8 3065.5L928.4 3068.2L929.0 3075.9L929.6 3087.8L930.9 3119.7L933.3 3187.0L934.5 3214.4L935.7 3236.4L937.0 3254.0L938.2 3267.9L939.4 3278.9L940.6 3287.6L941.8 3294.7L943.1 3300.5L944.3 3305.2L945.5 3309.1L946.7 3312.4L948.5 3316.4L950.4 3319.5L952.2 3322.0L954.0 3324.0L955.9 3325.6L958.3 3327.3L960.7 3328.6L963.8 3329.8L966.8 3330.6L969.9 3331.1L972.9 3331.3L976.0 3331.2L978.4 3330.8L980.2 3330.2L982.1 3329.4L983.9 3328.1L985.1 3327.0L986.3 3325.6L988.2 3322.9L991.2 3317.4L991.8 3316.6L992.4 3315.9L993.0 3315.6L993.7 3315.5L994.3 3315.7L994.9 3316.2L996.1 3317.7L998.5 3321.2L999.7 3322.5L1001.0 3323.5L1002.2 3324.0L1003.4 3324.2L1004.6 3324.1L1005.8 3323.5L1007.1 3322.7L1008.3 3321.4L1009.5 3319.7L1010.7 3317.4L1011.9 3314.4L1013.2 3310.7L1014.4 3305.9L1016.2 3297.2L1018.0 3287.8L1018.6 3285.2L1019.3 3283.2L1019.9 3281.9L1020.5 3281.5L1021.1 3282.0L1021.7 3283.3L1022.3 3285.3L1023.5 3290.6L1025.3 3299.1L1026.6 3303.8L1027.8 3307.6L1029.0 3310.4L1029.6 3311.5L1030.2 3312.3L1030.8 3313.0L1031.4 3313.5L1032.1 3313.8L1032.7 3313.9L1033.3 3313.9L1033.9 3313.8L1034.5 3313.5L1035.1 3313.0L1035.7 3312.3L1036.3 3311.5L1037.5 3309.3L1038.8 3306.3L1040.0 3302.3L1041.2 3296.9L1042.4 3290.1L1043.6 3281.3L1044.9 3270.3L1046.7 3249.8L1048.5 3227.7L1049.1 3221.6L1049.7 3216.9L1050.3 3214.2L1050.9 3213.6L1051.6 3215.2L1052.2 3219.0L1052.8 3224.4L1054.6 3246.2L1056.4 3268.1L1057.7 3280.2L1058.9 3290.0L1060.1 3297.9L1061.3 3304.2L1062.5 3309.2L1063.7 3313.2L1065.0 3316.4L1066.2 3319.1L1067.4 3321.2L1069.2 3323.8L1071.1 3325.8L1072.9 3327.2L1074.7 3328.4L1076.5 3329.2L1079.0 3329.9L1081.4 3330.3L1083.3 3330.3L1085.1 3330.0L1086.9 3329.4L1088.7 3328.5L1090.0 3327.6L1091.2 3326.3L1092.4 3324.8L1093.6 3322.7L1095.4 3318.8L1097.9 3312.7L1098.5 3311.4L1099.1 3310.4L1099.7 3309.7L1100.3 3309.5L1100.9 3309.8L1101.5 3310.5L1102.2 3311.5L1103.4 3314.4L1105.8 3320.7L1107.0 3323.3L1108.2 3325.4L1109.5 3327.1L1110.7 3328.5L1112.5 3329.9L1114.3 3331.0L1116.2 3331.6L1118.6 3332.1L1121.0 3332.3L1123.5 3332.2L1125.9 3331.7L1128.4 3330.9L1130.2 3330.0L1132.0 3328.8L1133.8 3327.2L1135.1 3325.7L1136.3 3324.0L1137.5 3321.8L1138.7 3319.1L1139.9 3315.7L1141.2 3311.4L1142.4 3306.0L1143.6 3299.3L1145.4 3286.8L1147.3 3273.0L1147.9 3268.9L1148.5 3265.7L1149.1 3263.5L1149.7 3262.5L1150.3 3263.0L1150.9 3264.7L1151.5 3267.6L1152.7 3275.8L1155.2 3294.1L1156.4 3301.8L1157.6 3308.2L1158.8 3313.3L1160.1 3317.4L1161.3 3320.7L1162.5 3323.3L1163.7 3325.5L1165.5 3328.0L1167.4 3329.9L1169.2 3331.3L1171.6 3332.8L1174.1 3333.9L1177.1 3334.9L1181.4 3335.8L1186.9 3336.7L1194.8 3337.4L1206.4 3338.0L1224.7 3338.4L1253.9 3338.5L1286.8 3338.3L1311.8 3337.8L1328.9 3337.2L1340.5 3336.4L1349.0 3335.5L1355.1 3334.6L1360.0 3333.5L1363.6 3332.3L1366.1 3331.2L1368.5 3329.8L1370.4 3328.4L1372.2 3326.5L1374.0 3324.1L1375.8 3321.0L1378.9 3315.1L1379.5 3314.1L1380.1 3313.4L1380.7 3313.0L1381.3 3312.8L1381.9 3312.9L1382.5 3313.2L1383.8 3314.2L1385.6 3315.9L1386.8 3316.7L1388.0 3317.2L1389.2 3317.2L1390.5 3316.9L1391.7 3316.2L1392.9 3315.2L1394.1 3313.8L1395.3 3312.2L1397.2 3308.9L1399.0 3304.7L1400.2 3301.3L1401.4 3297.1L1402.7 3292.2L1403.9 3286.3L1405.1 3279.1L1406.3 3270.4L1407.5 3259.7L1408.8 3246.4L1410.0 3229.8L1411.2 3208.7L1412.4 3181.9L1413.6 3147.6L1414.8 3104.0L1416.1 3049.8L1419.1 2889.0L1419.7 2863.9L1420.3 2846.7L1420.9 2839.2L1421.6 2842.5L1422.2 2856.0L1422.8 2878.2L1424.0 2939.0L1425.8 3037.9L1427.0 3094.2L1428.3 3139.9L1429.5 3176.0L1430.7 3204.2L1431.9 3226.4L1433.1 3243.9L1434.4 3257.8L1435.6 3269.1L1436.8 3278.2L1438.0 3285.7L1439.2 3292.0L1440.5 3297.2L1442.3 3303.6L1444.1 3308.7L1445.9 3312.8L1447.8 3316.1L1449.6 3318.8L1451.4 3321.1L1453.9 3323.5L1456.3 3325.5L1459.3 3327.5L1462.4 3329.1L1466.1 3330.6L1470.3 3331.9L1475.2 3333.0L1481.3 3334.1L1489.2 3335.0L1499.0 3335.7L1511.2 3336.1L1525.2 3336.3L1539.2 3336.0L1551.4 3335.5L1561.8 3334.6L1569.7 3333.7L1576.4 3332.5L1581.9 3331.2L1586.7 3329.7L1590.4 3328.3L1594.1 3326.4L1597.1 3324.5L1599.5 3322.7L1602.0 3320.4L1604.4 3317.7L1606.2 3315.2L1608.1 3312.3L1609.9 3308.8L1611.7 3304.6L1613.6 3299.5L1615.4 3293.2L1617.2 3285.4L1618.4 3279.0L1619.7 3271.4L1620.9 3262.3L1622.1 3251.4L1623.3 3238.1L1624.5 3221.7L1625.8 3201.2L1627.0 3175.4L1628.2 3142.5L1629.4 3099.9L1630.6 3044.5L1631.8 2972.5L1633.1 2880.3L1634.9 2706.8L1636.1 2588.1L1636.7 2539.8L1637.3 2506.1L1637.9 2491.4L1638.6 2497.8L1639.2 2524.3L1639.8 2567.3L1642.8 2859.3L1644.0 2955.6L1645.3 3031.4L1646.5 3089.8L1647.7 3134.6L1648.9 3169.3L1650.1 3196.3L1651.4 3217.7L1652.6 3234.8L1653.8 3248.6L1655.0 3260.0L1656.2 3269.3L1657.5 3277.1L1658.7 3283.7L1660.5 3291.8L1662.3 3298.2L1664.2 3303.4L1666.0 3307.6L1667.8 3311.0L1669.6 3313.9L1671.5 3316.3L1673.3 3318.3L1675.7 3320.4L1678.2 3322.1L1680.6 3323.3L1683.1 3324.2L1685.5 3324.7L1687.3 3324.8L1689.1 3324.6L1691.0 3324.1L1692.2 3323.5L1693.4 3322.7L1694.6 3321.6L1695.9 3320.1L1697.1 3318.1L1698.3 3315.6L1699.5 3312.3L1700.7 3308.2L1702.6 3300.5L1704.4 3292.2L1705.0 3289.8L1705.6 3288.0L1706.2 3286.8L1706.8 3286.5L1707.4 3287.0L1708.0 3288.4L1708.7 3290.4L1709.9 3295.8L1712.3 3307.5L1713.5 3312.5L1714.7 3316.5L1716.0 3319.8L1717.2 3322.5L1718.4 3324.6L1719.6 3326.3L1721.5 3328.4L1723.3 3329.9L1725.1 3331.1L1727.5 3332.4L1730.6 3333.5L1734.3 3334.5L1739.1 3335.4L1745.8 3336.2L1755.6 3337.0L1769.0 3337.6L1782.4 3337.8L1790.9 3337.7L1795.8 3337.3L1798.9 3336.8L1801.3 3336.2L1806.2 3334.3L1807.4 3334.0L1808.6 3334.1L1809.8 3334.4L1814.1 3336.1L1816.5 3336.8L1819.6 3337.2L1823.9 3337.5L1829.3 3337.6L1834.2 3337.3L1837.9 3336.8L1840.9 3336.1L1843.4 3335.2L1845.2 3334.3L1847.0 3332.9L1848.8 3331.0L1850.7 3328.5L1853.7 3323.6L1854.3 3322.8L1854.9 3322.3L1855.6 3322.0L1856.2 3322.1L1856.8 3322.4L1857.4 3323.0L1858.6 3324.7L1861.0 3328.7L1862.9 3331.2L1864.7 3333.1L1866.5 3334.4L1868.4 3335.3L1870.8 3336.2L1873.8 3336.9L1878.1 3337.5L1884.2 3337.8L1892.1 3337.9L1899.4 3337.6L1904.3 3337.2L1908.0 3336.5L1911.0 3335.6L1913.5 3334.6L1915.3 3333.4L1917.1 3331.8L1918.3 3330.4L1919.6 3328.6L1921.4 3325.3L1923.8 3320.0L1924.4 3318.9L1925.0 3317.9L1925.7 3317.3L1926.3 3317.0L1926.9 3317.1L1927.5 3317.6L1928.1 3318.4L1929.3 3320.7L1931.7 3325.9L1933.6 3329.1L1934.8 3330.7L1936.0 3332.0L1937.8 3333.4L1939.7 3334.5L1942.1 3335.4L1945.2 3336.2L1948.8 3336.6L1953.7 3336.9L1959.2 3336.7L1964.1 3336.2L1967.7 3335.5L1970.8 3334.7L1973.2 3333.7L1975.0 3332.7L1976.9 3331.4L1978.7 3329.6L1979.9 3328.1L1981.1 3326.3L1982.3 3324.0L1983.6 3321.2L1984.8 3317.7L1986.0 3313.2L1987.2 3307.8L1989.0 3297.6L1990.9 3286.7L1991.5 3283.6L1992.1 3281.1L1992.7 3279.5L1993.3 3279.0L1993.9 3279.6L1994.5 3281.1L1995.1 3283.6L1996.4 3290.2L1998.8 3304.7L2000.0 3310.7L2001.2 3315.7L2002.5 3319.7L2003.7 3322.9L2004.9 3325.4L2006.1 3327.5L2007.9 3329.9L2009.8 3331.6L2011.6 3333.0L2014.0 3334.3L2017.1 3335.5L2020.7 3336.5L2025.6 3337.3L2032.3 3338.1L2042.1 3338.6L2058.5 3339.1L2090.8 3339.5L2096.9 3339.5"/>
</svg>
<path d="M77.5 3907.5H2088.7" class="ax"/>
<path d="M77.5 3907.5V3935.5" class="ax"/>
<path d="M199.4 3907.5V3922.0" class="ax"/>
<path d="M321.4 3907.5V3935.5" class="ax"/>
<path d="M443.3 3907.5V3922.0" class="ax"/>
<path d="M565.2 3907.5V3935.5" class="ax"/>
<path d="M687.2 3907.5V3922.0" class="ax"/>
<path d="M809.1 3907.5V3935.5" class="ax"/>
<path d="M931.1 3907.5V3922.0" class="ax"/>
<path d="M1053.0 3907.5V3935.5" class="ax"/>
<path d="M1174.9 3907.5V3922.0" class="ax"/>
<path d="M1296.9 3907.5V3935.5" class="ax"/>
<path d="M1418.8 3907.5V3922.0" class="ax"/>
<path d="M1540.8 3907.5V3935.5" class="ax"/>
<path d="M1662.7 3907.5V3922.0" class="ax"/>
<path d="M1784.6 3907.5V3935.5" class="ax"/>
<path d="M1906.6 3907.5V3922.0" class="ax"/>
<path d="M2028.5 3907.5V3935.5" class="ax"/>
<text x="76.8" y="4001.4" class="tk">0</text>
<text x="319.9" y="4001.4" class="tk">200</text>
<text x="565.2" y="4001.4" class="tk">400</text>
<text x="809.1" y="4001.4" class="tk">600</text>
<text x="1053.0" y="4001.4" class="tk">800</text>
<text x="1296.9" y="4001.4" class="tk">1000</text>
<text x="1540.8" y="4001.4" class="tk">1200</text>
<text x="1784.6" y="4001.4" class="tk">1400</text>
<text x="2029.0" y="4001.4" class="tk">1600</text>
<rect class="bx" x="1480.75" y="2226.75" width="575.0999999999999" height="261.0"/>
<path class="ll" stroke="#000000" d="M1501.5 2273H1659.8"/>
<path class="ll" stroke="#ff0000" d="M1501.5 2360H1659.8"/>
<path class="ll" stroke="#0000ff" d="M1501.5 2446.6H1659.8"/>
<text class="lg" x="1678" y="2297.8" textLength="335.4" lengthAdjust="spacingAndGlyphs">YClTTDPz</text>
<text class="lg" x="1681" y="2384.1" textLength="367.0" lengthAdjust="spacingAndGlyphs">LaClTTDPz</text>
<text class="lg" x="1681" y="2470.3" textLength="367.0" lengthAdjust="spacingAndGlyphs">LuClTTDPz</text>
<text class="lb" x="1728.5" y="3222.5" textLength="335.4" lengthAdjust="spacingAndGlyphs">YClTTDPz</text>
<text class="lb" x="1711.7" y="3521.6" textLength="367.0" lengthAdjust="spacingAndGlyphs">LuClTTDPz</text>
<text class="lb" x="1703.5" y="3814.1" textLength="367.0" lengthAdjust="spacingAndGlyphs">LaClTTDPz</text>
</g>
<text class="ser" x="989.5" y="1983.1" font-size="80.4" textLength="201.5" lengthAdjust="spacingAndGlyphs">ν, cm</text>
<text class="ser" x="1189.5" y="1962.3" font-size="50" textLength="50" lengthAdjust="spacingAndGlyphs"><tspan dy="5">−</tspan><tspan dy="-5">1</tspan></text>
<text class="ser" x="977" y="2144.7" font-size="84" textLength="26" lengthAdjust="spacingAndGlyphs">(</text>
<text class="ser" x="1005" y="2144.7" font-size="76" font-weight="bold" textLength="39" lengthAdjust="spacingAndGlyphs">a</text>
<text class="ser" x="1046.5" y="2144.7" font-size="84" textLength="26" lengthAdjust="spacingAndGlyphs">)</text>
<text class="ser" x="947.9" y="4159.1" font-size="80.4" textLength="201.5" lengthAdjust="spacingAndGlyphs">ν, cm</text>
<text class="ser" x="1147.5" y="4138.3" font-size="50" textLength="50" lengthAdjust="spacingAndGlyphs"><tspan dy="5">−</tspan><tspan dy="-5">1</tspan></text>
<text class="ser" x="973" y="4341.5" font-size="84" textLength="26" lengthAdjust="spacingAndGlyphs">(</text>
<text class="ser" x="999.5" y="4341.5" font-size="82" font-weight="bold" textLength="49" lengthAdjust="spacingAndGlyphs">b</text>
<text class="ser" x="1050" y="4341.5" font-size="84" textLength="26" lengthAdjust="spacingAndGlyphs">)</text>
</svg>
</body></html>
